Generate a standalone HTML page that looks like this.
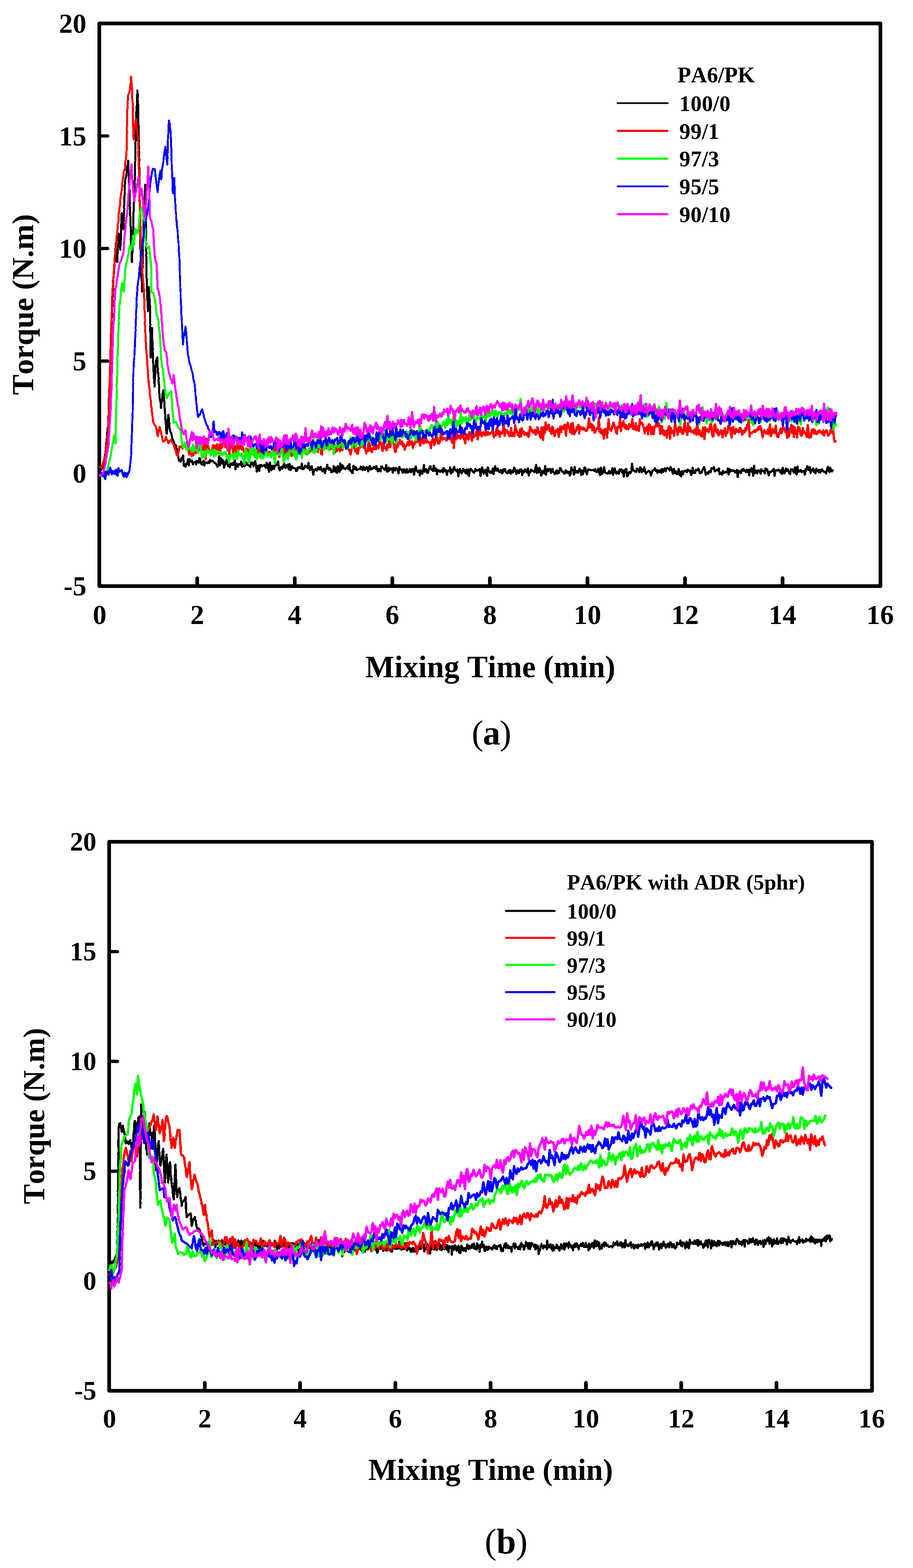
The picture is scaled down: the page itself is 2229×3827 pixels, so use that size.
<!DOCTYPE html>
<html lang="en">
<head>
<meta charset="utf-8">
<title>Torque vs Mixing Time</title>
<style>
html,body{margin:0;padding:0;background:#fff;}
body{width:2229px;height:3827px;overflow:hidden;}
svg{display:block;font-family:'Liberation Serif', 'DejaVu Serif', serif;fill:#000;}
text{font-kerning:none;}
</style>
</head>
<body>
<svg width="2229" height="3827" viewBox="0 0 2229 3827" role="img" aria-label="Torque versus mixing time for PA6/PK blends, (a) without and (b) with ADR">
<rect width="2229" height="3827" fill="#fff"/>
<g id="chart-a">
<rect x="242.4" y="57.2" width="1907.1" height="1373.3" fill="none" stroke="#000" stroke-width="9.0" stroke-linejoin="round"/>
<path d="M481.4 1430.5V1411.1M719.6 1430.5V1411.1M957.8 1430.5V1411.1M1196.0 1430.5V1411.1M1434.2 1430.5V1411.1M1672.4 1430.5V1411.1M1910.6 1430.5V1411.1" fill="none" stroke="#000" stroke-width="9.0" stroke-linecap="round"/>
<path d="M242.4 331.9H262.8M242.4 606.5H262.8M242.4 881.2H262.8M242.4 1155.8H262.8" fill="none" stroke="#000" stroke-width="7.9" stroke-linecap="round"/>
<g font-size="67" font-weight="bold">
<text x="211.0" y="79.8" text-anchor="end">20</text>
<text x="211.0" y="354.5" text-anchor="end">15</text>
<text x="211.0" y="629.1" text-anchor="end">10</text>
<text x="211.0" y="903.8" text-anchor="end">5</text>
<text x="211.0" y="1178.4" text-anchor="end">0</text>
<text x="211.0" y="1453.1" text-anchor="end">-5</text>
<text x="243.2" y="1522.6" text-anchor="middle">0</text>
<text x="481.4" y="1522.6" text-anchor="middle">2</text>
<text x="719.6" y="1522.6" text-anchor="middle">4</text>
<text x="957.8" y="1522.6" text-anchor="middle">6</text>
<text x="1196.0" y="1522.6" text-anchor="middle">8</text>
<text x="1434.2" y="1522.6" text-anchor="middle">10</text>
<text x="1672.4" y="1522.6" text-anchor="middle">12</text>
<text x="1910.6" y="1522.6" text-anchor="middle">14</text>
<text x="2148.8" y="1522.6" text-anchor="middle">16</text>
</g>
<text transform="translate(81.1 743.3) rotate(-90)" font-size="75.0" font-weight="bold" text-anchor="middle" letter-spacing="0">Torque (N.m)</text>
<text x="1197.0" y="1652.6" font-size="75.3" font-weight="bold" text-anchor="middle" letter-spacing="0">Mixing Time (min)</text>
<g shape-rendering="crispEdges">
<g fill="none" stroke="#000000" stroke-width="5.2" stroke-linejoin="round" stroke-linecap="round">
<polyline stroke-width="5.0" points="243,1150.0 247.4,1146.6 252,1140.0 252.4,1132.9 253.4,1125.7 254.3,1121.8 255.3,1117.4 256.2,1112.7 256.9,1108.4 258,1100.0 258.2,1095.2 259.1,1088.4 259.5,1079.9 260.7,1079.3 260.8,1071.4 261.9,1066.8 261.8,1054.8 262.5,1054.7 263,1045.4 264,1040.0 264.6,1034.2 264.6,1026.7 264.8,1024.4 264.4,1017.8 265.4,1011.7 265,1006.0 265.1,997.6 266,990.5 265.6,983.4 265.6,981.3 265.9,972.3 266.4,964.9 266.7,959.5 266.9,957.4 266.7,949.4 267.4,943.4 267,938.3 267.7,932.1 268.2,926.6 268,920.0 268.6,911.4 268.1,910.2 268.5,899.6 269.2,894.9 269.2,891.6 269.5,884.9 269.6,876.9 269.4,874.8 269.7,869.3 270.1,860.9 269.9,857.2 270.4,848.6 270.5,840.1 271.2,836.5 270.6,830.8 271,824.2 271.7,817.0 272,812.9 271.4,809.0 272,800.0 272.4,797.6 272.2,785.7 273.1,783.7 272.6,778.3 273.4,773.6 273.6,762.1 273.2,755.5 273.5,751.2 274.4,747.3 274.4,743.6 274.3,733.7 274.9,732.7 275.1,720.1 275.6,715.8 275.8,711.0 276.1,707.6 276,700.0 276.4,691.4 276.4,685.3 276.8,679.2 277.4,677.5 278.1,666.6 278,667.3 278.9,655.9 279,653.7 279.3,646.6 280,640.0 280.8,636.4 280.5,628.0 281.2,624.3 281.2,612.6 281.5,609.9 282.3,604.5 282.5,601.4 283,592.0 283.4,597.2 283.8,605.7 284.3,608.3 284.1,615.1 285,620.0 285.5,624.9 285.4,636.1 286,640.0 286.1,635.1 286.7,631.3 286.8,619.4 287.5,618.6 288,613.9 287.6,603.1 288.4,602.3 289.1,593.7 289.4,588.5 289.2,581.6 289.8,576.2 290,570.0 290.9,578.7 291.1,584.7 291.4,584.5 292,592.9 292.4,601.7 293.7,600.9 294,610.0 293.9,602.8 294.1,600.2 294.5,595.1 294.9,588.7 295.3,582.9 295.2,574.3 295.7,566.5 295.6,562.7 295.4,556.7 295.9,552.2 296,546.8 296.5,535.8 296.9,532.8 296.4,525.4 297,520.0 297.7,528.7 297.7,534.8 298.6,540.5 299.4,545.2 299.9,549.5 300.2,554.9 301,560.0 301.4,556.4 301.7,549.2 302,540.4 302,535.2 302,528.8 302.2,522.0 302.7,516.7 303.2,512.4 302.7,504.5 303.1,501.0 303.8,495.6 303.8,485.0 303.7,483.1 304.1,476.6 304.4,470.0 304.6,464.1 304.8,455.9 305,450.0 305.7,441.2 306.5,435.4 307.8,430.4 308.5,429.4 309.2,421.5 309.5,415.0 310.5,407.5 311.5,402.3 312.6,400.7 313,392.0 313,395.3 313.2,404.0 313.9,407.9 313.7,418.5 314.1,422.8 314.2,425.2 314.6,433.8 314.5,440.9 315.1,447.1 315,453.8 315.3,458.1 316,460.6 316,470.0 316,478.6 316.7,482.3 316.9,491.2 317.1,496.5 316.6,501.1 317.4,506.8 317.7,508.7 317.8,519.6 317.6,522.3 318.1,528.9 318.5,535.6 318.6,545.5 318.4,545.5 319.2,554.3 319,560.0 319.6,567.1 319.9,572.6 319.7,575.9 319.8,581.3 319.9,592.5 320,596.0 320.9,604.4 321,607.0 321,616.0 321.7,619.5 321.3,626.0 322,633.5 322,640.0 321.8,633.9 322.2,629.8 322.5,618.2 323,617.8 323,611.0 323.4,603.4 324,599.1 323.4,592.2 324,587.8 324.1,576.8 324.2,571.8 324.4,567.1 325,560.0 325.4,555.5 325.6,547.1 325.8,541.8 326,537.3 325.6,527.5 325.7,521.5 326.2,515.9 326,514.5 326.5,508.6 326.8,500.6 327,494.8 327.4,488.4 327.7,479.9 327.8,474.6 327.8,467.9 327.9,462.0 328.5,462.4 328.5,456.6 328.1,445.3 328.4,442.7 329.2,439.4 329,430.0 329.3,425.7 329.6,417.5 329.2,410.0 329.2,408.6 329.4,398.8 330.1,393.2 330.4,387.0 330.1,381.4 330.6,375.9 330.3,371.0 330.9,361.7 330.8,361.8 330.4,353.3 330.8,349.8 331.1,342.7 331.1,336.4 331.1,326.1 331.5,322.3 331.6,320.7 331.7,310.0 331.8,308.9 332,300.0 332.7,296.3 332.9,285.9 332.4,279.8 332.9,273.4 333.4,269.0 333.9,261.3 334.1,255.6 334.2,250.3 334,243.4 334.8,239.2 335,230.9 335.3,230.6 335.5,221.0 336,227.7 336.3,236.0 336.2,235.9 335.9,242.2 336.4,250.5 337.1,255.1 337.3,265.4 337.3,270.5 337.4,275.5 337,280.7 337.6,289.5 337.8,293.6 338,300.0 337.8,302.4 338.5,310.5 338.8,315.7 338.3,323.7 338.8,329.2 338.4,334.0 338.8,342.4 339.2,344.5 338.6,353.1 339.4,355.4 339.4,366.0 339.4,373.5 339.7,373.0 339.6,384.9 340.1,389.3 340,394.7 340,400.0 339.9,406.4 340.3,410.8 340.5,415.6 340.5,422.2 340.6,429.1 340.7,434.5 340.3,443.4 340.4,449.0 340.9,451.4 340.5,457.1 340.5,464.3 340.5,468.4 341.1,479.1 340.7,481.1 340.9,491.8 341.4,495.2 341.1,503.1 341.3,509.6 341.6,512.4 341.2,521.9 341.3,522.4 341.6,529.7 341.4,537.9 341.5,543.2 342.1,546.1 342,555.8 342,560.0 342.3,566.7 342.1,573.6 342.8,577.5 342.8,580.9 343,587.8 342.7,594.6 342.6,604.8 343,608.2 343.2,611.4 343.1,617.0 343.5,624.3 343.5,629.2 344,635.2 344.3,641.7 344,650.0 344.4,653.0 344.9,660.2 344.9,670.3 344.9,675.2 345.3,682.8 346,684.9 346.4,690.0 346.7,700.0 346.6,707.6 347,712.0 347.3,709.5 347,696.7 347.7,696.8 347.6,688.5 347.7,684.5 347.5,678.5 348,671.5 347.8,666.2 347.5,660.9 348.4,651.2 347.8,645.2 348.1,644.0 348.4,633.9 348.2,628.0 348.7,622.3 348.6,617.3 349.1,611.3 348.8,607.1 349,600.0 348.9,593.9 349.2,589.1 349.9,582.0 350,576.2 350,568.0 350,567.6 350.3,560.7 350.4,552.9 350.9,544.0 350.8,544.3 351,533.1 351.4,527.7 351.5,523.8 351.9,518.5 351.9,508.3 352.3,502.9 352,500.0 352.2,497.0 352.2,490.0 353.3,481.2 353,477.6 353.5,466.8 354.3,466.0 354.2,459.6 354.5,451.0 354.5,458.2 354.6,462.9 354.5,472.1 354.7,471.9 354.7,477.2 355.3,487.1 355.5,492.6 355.6,499.8 355.6,503.7 355.6,508.1 355.4,514.0 355.6,520.4 355.7,531.5 355.7,537.5 356,540.0 356.2,545.2 356.5,553.0 356,560.3 356.3,563.3 356.3,571.8 356.3,578.7 356.4,582.9 356.7,591.2 357.1,592.6 356.9,603.7 356.9,609.9 356.8,613.8 357.3,617.2 356.8,624.6 357.7,630.2 357.6,635.1 357.3,641.0 357.8,651.0 357.8,653.9 357.9,659.8 357.8,666.9 357.8,670.8 358,680.0 358.3,687.6 358.6,693.4 358.4,696.0 358.9,707.3 358.9,710.5 359.3,716.9 359.3,722.0 359.6,731.7 360.3,734.9 360.4,739.0 360.5,746.3 361.1,755.1 361,760.0 361.3,751.4 361.4,751.4 362,743.0 361.5,737.0 362.1,729.8 362.1,724.7 362.7,719.8 362.7,715.0 362.4,709.5 363,700.0 363,703.5 363.7,708.5 364.2,713.7 364.3,719.4 365.1,729.3 365.1,731.6 365.8,738.3 366,745.0 366.4,751.0 366.2,753.9 366.4,762.2 366.1,768.9 366.4,775.3 367,780.6 366.9,788.0 367.1,792.7 366.6,802.8 366.6,809.1 367.1,811.2 367.6,815.0 367.3,820.9 367.4,828.1 367.5,839.8 367.9,842.2 367.8,850.6 367.7,854.9 367.5,859.9 367.6,868.5 368,873.0 368.2,866.6 368.8,861.0 368.7,853.1 368.6,848.1 368.8,841.1 369.5,839.8 369.4,831.6 370,826.3 369.9,815.3 370.4,814.3 370.5,808.0 371,800.0 371,803.8 371,810.9 371.5,818.5 371.4,820.8 371.6,826.3 372.3,834.1 372.2,841.0 373,848.8 373,855.1 372.6,855.0 373.2,862.7 373.8,869.5 373.6,878.2 373.8,883.9 374,887.0 374.1,891.1 374.4,898.7 374.7,905.3 374.9,906.9 375.8,913.6 375.7,921.7 376.1,923.9 376.7,935.8 377,936.8 377,944.0 377.4,937.1 377.8,935.7 377.9,927.7 378.3,922.7 378.7,917.7 379.4,910.9 379.5,901.2 379.5,896.2 379.9,893.0 380.8,885.3 381,880.0 384,872.0 384.6,878.1 384.3,881.2 384.7,888.4 384.9,896.2 385.7,902.2 385.9,909.6 386.3,909.7 387,920.0 387.3,928.0 386.9,928.8 387.3,936.0 388.3,939.5 388.3,945.6 388.9,956.5 389,960.0 389.3,965.9 390.1,975.2 391.4,978.8 392.1,982.9 392.7,989.5 393,996.0 393.4,993.1 394.5,980.9 395.3,979.4 395.8,973.6 396.1,966.7 397,960.0 399,952.0 399.7,954.7 399.5,966.0 400.3,969.6 400.4,973.8 401.3,980.4 401,989.6 401.5,994.9 402.5,998.3 402.7,1004.4 403,1010.0 403.6,1018.6 403.8,1025.0 404.6,1025.7 404.8,1035.2 405.3,1038.0 405.7,1049.2 406.6,1056.1 407,1059.0 407.4,1053.8 408.1,1048.1 408.1,1043.1 409.4,1035.7 409.2,1031.4 409.6,1022.5 410.9,1018.5 411,1012.0 412,1019.1 412.6,1027.3 412.8,1028.3 413.9,1036.9 414,1044.3 415,1050.0 416.1,1053.4 418.3,1057.6 419.3,1063.1 421,1072.0 424.1,1077.2 426.2,1084.4 429,1086.0 430.7,1092.0 432.4,1097.0 434,1105.0 434.8,1110.4 435.8,1118.3 437,1124.0"/>
<polyline id="a-k" points="437,1124.0 439,1124.5 441,1127.1 443,1117.9 445,1118.2 447,1111.8 449,1136.8 451,1134.9 453,1139.4 455,1131.2 457,1132.7 459,1121.1 461,1135.9 463,1120.5 465,1125.1 467,1126.9 469,1123.8 471,1133.0 473,1128.3 475,1128.8 477,1127.0 479,1133.8 481,1124.7 483,1126.0 485,1129.6 487,1118.1 489,1124.0 491,1131.2 493,1134.3 495,1128.2 497,1124.5 499,1136.1 501,1128.3 503,1128.9 505,1130.1 507,1130.3 509,1127.1 511,1130.2 513,1122.1 515,1125.3 517,1125.9 519,1124.6 521,1126.8 523,1128.6 525,1130.6 527,1131.5 529,1135.0 531,1139.5 533,1135.7 535,1113.5 537,1136.0 539,1118.9 541,1120.6 543,1131.6 545,1123.7 547,1141.7 549,1134.9 551,1128.6 553,1122.6 555,1132.4 557,1137.6 559,1130.3 561,1140.6 563,1131.8 565,1134.6 567,1130.2 569,1134.7 571,1131.5 573,1122.9 575,1145.1 577,1131.5 579,1132.6 581,1139.0 583,1132.6 585,1132.1 587,1134.1 589,1126.5 591,1139.3 593,1134.0 595,1131.3 597,1138.1 599,1134.1 601,1129.0 603,1134.3 605,1134.4 607,1135.7 609,1137.3 611,1140.0 613,1128.5 615,1133.8 617,1129.7 619,1138.2 621,1129.2 623,1125.5 625,1135.3 627,1151.1 629,1141.1 631,1136.2 633,1149.3 635,1134.8 637,1134.5 639,1138.7 641,1136.6 643,1136.8 645,1134.9 647,1136.3 649,1141.8 651,1129.4 653,1133.1 655,1144.2 657,1151.7 659,1129.0 661,1140.5 663,1147.4 665,1137.0 667,1137.0 669,1144.9 671,1136.2 673,1136.1 675,1134.7 677,1132.0 679,1126.2 681,1144.5 683,1148.2 685,1141.0 687,1139.6 689,1144.2 691,1140.6 693,1131.7 695,1133.2 697,1142.3 699,1140.4 701,1134.6 703,1133.9 705,1145.3 707,1132.2 709,1147.4 711,1145.5 713,1137.9 715,1140.9 717,1142.8 719,1142.8 721,1143.3 723,1149.5 725,1148.8 727,1141.0 729,1142.7 731,1140.1 733,1141.9 735,1143.4 737,1131.6 739,1145.2 741,1144.5 743,1142.5 745,1136.6 747,1139.6 749,1137.9 751,1142.3 753,1130.0 755,1142.8 757,1147.4 759,1140.3 761,1138.1 763,1147.3 765,1158.6 767,1146.5 769,1146.9 771,1144.6 773,1148.5 775,1147.0 777,1140.2 779,1144.0 781,1146.1 783,1139.4 785,1144.5 787,1150.3 789,1148.9 791,1143.8 793,1154.9 795,1148.3 797,1142.9 799,1134.6 801,1143.8 803,1146.3 805,1142.2 807,1144.4 809,1152.9 811,1149.6 813,1151.2 815,1138.0 817,1144.4 819,1151.4 821,1140.3 823,1154.2 825,1137.3 827,1140.5 829,1151.7 831,1131.0 833,1146.3 835,1135.2 837,1136.9 839,1143.1 841,1143.0 843,1145.0 845,1141.9 847,1141.9 849,1137.7 851,1145.7 853,1132.2 855,1148.5 857,1148.6 859,1153.5 861,1154.4 863,1137.0 865,1145.9 867,1139.9 869,1141.0 871,1147.8 873,1146.0 875,1144.9 877,1144.2 879,1145.2 881,1139.0 883,1140.9 885,1147.3 887,1138.8 889,1141.1 891,1147.0 893,1143.8 895,1139.4 897,1144.3 899,1150.3 901,1139.4 903,1137.4 905,1146.1 907,1143.0 909,1144.5 911,1142.1 913,1139.2 915,1142.6 917,1144.0 919,1137.7 921,1147.5 923,1150.8 925,1144.1 927,1144.7 929,1150.7 931,1138.1 933,1138.7 935,1142.5 937,1143.4 939,1147.1 941,1144.4 943,1134.8 945,1151.2 947,1150.6 949,1141.2 951,1148.8 953,1143.3 955,1145.7 957,1143.4 959,1153.5 961,1141.7 963,1145.1 965,1148.5 967,1142.0 969,1144.5 971,1146.2 973,1155.4 975,1139.3 977,1146.7 979,1146.7 981,1145.7 983,1153.9 985,1147.0 987,1145.5 989,1153.3 991,1154.0 993,1144.9 995,1153.2 997,1153.0 999,1149.1 1001,1145.0 1003,1152.7 1005,1150.9 1007,1144.1 1009,1144.9 1011,1158.6 1013,1146.2 1015,1138.3 1017,1147.8 1019,1150.6 1021,1152.5 1023,1148.4 1025,1160.5 1027,1147.4 1029,1149.9 1031,1156.1 1033,1148.8 1035,1134.8 1037,1151.2 1039,1148.5 1041,1145.2 1043,1154.0 1045,1153.5 1047,1145.7 1049,1139.5 1051,1137.7 1053,1146.2 1055,1146.1 1057,1149.6 1059,1136.2 1061,1149.3 1063,1142.4 1065,1145.3 1067,1157.8 1069,1146.4 1071,1150.8 1073,1148.4 1075,1151.4 1077,1148.8 1079,1147.0 1081,1153.4 1083,1142.1 1085,1145.6 1087,1150.3 1089,1147.9 1091,1159.0 1093,1149.5 1095,1148.5 1097,1150.0 1099,1140.7 1101,1155.8 1103,1147.2 1105,1152.2 1107,1143.3 1109,1139.5 1111,1147.6 1113,1147.2 1115,1150.8 1117,1145.7 1119,1162.6 1121,1149.4 1123,1144.3 1125,1149.9 1127,1155.7 1129,1150.4 1131,1144.4 1133,1147.2 1135,1151.7 1137,1155.1 1139,1145.8 1141,1157.3 1143,1146.0 1145,1161.7 1147,1148.7 1149,1144.1 1151,1148.3 1153,1148.5 1155,1151.6 1157,1154.1 1159,1150.7 1161,1144.5 1163,1149.1 1165,1147.3 1167,1148.4 1169,1146.6 1171,1144.8 1173,1161.9 1175,1147.6 1177,1140.6 1179,1148.8 1181,1156.1 1183,1151.7 1185,1146.2 1187,1154.3 1189,1161.8 1191,1140.8 1193,1148.7 1195,1152.5 1197,1154.4 1199,1150.3 1201,1154.1 1203,1143.2 1205,1157.3 1207,1143.1 1209,1137.8 1211,1148.6 1213,1148.6 1215,1143.8 1217,1148.7 1219,1152.6 1221,1149.0 1223,1147.5 1225,1155.1 1227,1154.3 1229,1145.1 1231,1149.3 1233,1144.9 1235,1152.0 1237,1154.2 1239,1155.2 1241,1148.8 1243,1153.2 1245,1146.9 1247,1156.1 1249,1153.3 1251,1148.7 1253,1152.9 1255,1141.3 1257,1144.9 1259,1150.3 1261,1156.8 1263,1147.8 1265,1149.5 1267,1154.9 1269,1146.4 1271,1150.7 1273,1145.7 1275,1159.6 1277,1149.5 1279,1152.9 1281,1145.3 1283,1150.1 1285,1146.4 1287,1153.9 1289,1143.4 1291,1160.6 1293,1150.6 1295,1152.6 1297,1146.1 1299,1148.5 1301,1149.9 1303,1149.4 1305,1152.7 1307,1143.4 1309,1135.0 1311,1154.4 1313,1142.9 1315,1152.5 1317,1142.0 1319,1146.6 1321,1160.9 1323,1157.2 1325,1149.7 1327,1149.4 1329,1155.0 1331,1137.5 1333,1158.9 1335,1147.6 1337,1145.1 1339,1149.7 1341,1145.3 1343,1144.3 1345,1154.3 1347,1148.1 1349,1144.5 1351,1152.0 1353,1154.3 1355,1156.9 1357,1151.9 1359,1148.0 1361,1156.4 1363,1149.2 1365,1154.4 1367,1142.1 1369,1143.4 1371,1148.5 1373,1151.5 1375,1151.5 1377,1155.7 1379,1156.0 1381,1147.9 1383,1150.6 1385,1154.0 1387,1151.3 1389,1151.1 1391,1160.8 1393,1157.6 1395,1141.0 1397,1146.6 1399,1147.6 1401,1158.1 1403,1139.6 1405,1153.3 1407,1152.6 1409,1149.4 1411,1153.9 1413,1148.8 1415,1143.8 1417,1145.8 1419,1159.4 1421,1148.9 1423,1157.8 1425,1150.6 1427,1140.9 1429,1141.9 1431,1153.3 1433,1157.4 1435,1147.2 1437,1145.7 1439,1146.9 1441,1146.1 1443,1147.9 1445,1147.5 1447,1146.9 1449,1147.3 1451,1149.5 1453,1144.9 1455,1151.0 1457,1152.3 1459,1150.1 1461,1143.7 1463,1154.6 1465,1159.4 1467,1141.4 1469,1157.2 1471,1155.0 1473,1147.4 1475,1140.4 1477,1153.1 1479,1154.7 1481,1154.2 1483,1156.2 1485,1155.5 1487,1149.4 1489,1155.3 1491,1155.4 1493,1150.4 1495,1142.4 1497,1159.2 1499,1147.6 1501,1143.4 1503,1154.2 1505,1156.0 1507,1151.4 1509,1150.9 1511,1156.3 1513,1145.7 1515,1149.1 1517,1145.9 1519,1154.0 1521,1147.7 1523,1163.1 1525,1151.6 1527,1145.6 1529,1144.5 1531,1162.4 1533,1160.9 1535,1153.0 1537,1151.9 1539,1155.2 1541,1151.6 1543,1131.9 1545,1144.0 1547,1148.4 1549,1150.4 1551,1150.2 1553,1152.1 1555,1143.2 1557,1145.5 1559,1147.4 1561,1152.5 1563,1140.5 1565,1144.0 1567,1152.6 1569,1146.1 1571,1149.6 1573,1140.5 1575,1150.7 1577,1156.2 1579,1152.5 1581,1151.0 1583,1148.7 1585,1150.4 1587,1151.5 1589,1160.5 1591,1155.2 1593,1148.2 1595,1148.1 1597,1147.2 1599,1142.7 1601,1149.6 1603,1147.3 1605,1154.2 1607,1148.1 1609,1150.2 1611,1152.6 1613,1146.9 1615,1154.2 1617,1144.7 1619,1151.7 1621,1147.0 1623,1142.9 1625,1150.5 1627,1144.8 1629,1142.0 1631,1143.7 1633,1143.6 1635,1148.1 1637,1140.0 1639,1143.9 1641,1150.4 1643,1156.2 1645,1144.2 1647,1148.7 1649,1155.4 1651,1150.6 1653,1157.3 1655,1154.3 1657,1144.6 1659,1159.1 1661,1151.8 1663,1162.7 1665,1150.0 1667,1157.9 1669,1152.5 1671,1149.4 1673,1148.2 1675,1150.8 1677,1152.6 1679,1146.1 1681,1148.3 1683,1149.4 1685,1148.4 1687,1159.3 1689,1156.2 1691,1141.1 1693,1153.5 1695,1149.9 1697,1154.7 1699,1146.3 1701,1147.9 1703,1147.9 1705,1143.4 1707,1148.5 1709,1155.0 1711,1153.8 1713,1153.3 1715,1147.2 1717,1143.7 1719,1139.9 1721,1147.1 1723,1158.6 1725,1155.8 1727,1153.4 1729,1156.4 1731,1151.2 1733,1149.4 1735,1152.4 1737,1142.6 1739,1143.4 1741,1144.1 1743,1140.1 1745,1150.7 1747,1149.4 1749,1148.4 1751,1145.7 1753,1148.4 1755,1143.5 1757,1157.5 1759,1155.2 1761,1153.5 1763,1158.5 1765,1149.3 1767,1154.8 1769,1153.1 1771,1151.8 1773,1153.0 1775,1152.1 1777,1143.1 1779,1158.2 1781,1145.0 1783,1151.4 1785,1147.9 1787,1148.0 1789,1149.7 1791,1148.1 1793,1148.8 1795,1153.1 1797,1151.8 1799,1146.7 1801,1164.4 1803,1148.2 1805,1151.6 1807,1150.2 1809,1154.7 1811,1146.1 1813,1149.4 1815,1144.2 1817,1149.2 1819,1148.2 1821,1152.1 1823,1146.7 1825,1152.0 1827,1146.8 1829,1160.3 1831,1146.0 1833,1150.5 1835,1142.7 1837,1151.1 1839,1161.6 1841,1136.7 1843,1155.0 1845,1150.6 1847,1148.7 1849,1155.7 1851,1147.8 1853,1148.3 1855,1151.0 1857,1156.4 1859,1145.1 1861,1149.9 1863,1149.3 1865,1150.0 1867,1155.2 1869,1143.3 1871,1147.0 1873,1146.0 1875,1155.1 1877,1160.2 1879,1151.6 1881,1152.6 1883,1150.9 1885,1149.2 1887,1146.9 1889,1144.2 1891,1161.4 1893,1148.3 1895,1147.9 1897,1148.8 1899,1146.7 1901,1146.0 1903,1149.8 1905,1153.0 1907,1147.8 1909,1156.6 1911,1142.0 1913,1151.4 1915,1155.3 1917,1149.6 1919,1143.3 1921,1149.8 1923,1145.2 1925,1150.2 1927,1154.7 1929,1157.3 1931,1145.7 1933,1146.5 1935,1145.5 1937,1151.2 1939,1153.8 1941,1141.0 1943,1154.1 1945,1158.1 1947,1138.8 1949,1151.9 1951,1149.3 1953,1150.5 1955,1146.9 1957,1152.6 1959,1151.3 1961,1149.1 1963,1150.0 1965,1158.4 1967,1144.2 1969,1147.2 1971,1138.0 1973,1144.5 1975,1147.6 1977,1140.0 1979,1154.3 1981,1149.2 1983,1146.6 1985,1143.5 1987,1151.8 1989,1148.1 1991,1155.2 1993,1143.8 1995,1149.5 1997,1147.5 1999,1152.9 2001,1146.6 2003,1153.2 2005,1147.6 2007,1145.4 2009,1149.8 2011,1151.0 2013,1151.1 2015,1152.2 2017,1155.6 2019,1146.3 2021,1139.4 2023,1147.8 2025,1152.1 2027,1141.5 2029,1147.3 2031,1150.6 2033,1147.8"/>
</g>
<g fill="none" stroke="#ff0000" stroke-width="5.6" stroke-linejoin="round" stroke-linecap="round">
<polyline stroke-width="5.0" points="243,1140.0 250,1138.0 251.7,1128.4 253.5,1125.0 255.2,1118.1 257,1113.0 257.5,1107.8 258.4,1099.4 259.4,1095.2 259.8,1089.1 260.6,1085.0 262,1077.0 262.7,1068.0 263.2,1061.9 264,1059.0 264.1,1050.2 264,1047.8 264.3,1038.4 264.4,1034.1 264.8,1027.1 265.2,1023.1 265.2,1016.5 265.6,1011.9 265.3,1006.8 266.1,999.4 266.3,992.4 266.1,987.0 266.2,983.5 266.5,978.8 266.6,966.7 266.7,966.2 266.9,954.4 266.9,948.7 267.7,949.1 267.7,940.6 267.9,931.6 267.6,928.1 268,922.0 268,912.7 268.8,909.5 268.5,902.6 268.5,897.0 269.1,893.4 268.9,882.2 269.4,878.0 269.4,870.2 269.6,866.7 269.7,860.8 269.7,855.7 270.4,846.6 270,840.1 270.5,838.3 270.2,830.6 270.8,826.2 270.5,821.7 271,813.0 271.5,804.4 271.8,802.6 271.9,795.1 271.6,791.7 272.2,781.6 272.1,779.6 272.5,770.9 272.9,766.9 273.1,756.2 273.3,752.4 273.5,747.8 273.4,738.1 273.5,732.7 273.7,729.1 274.2,720.0 274.2,714.6 274.5,708.5 275,704.0 275.4,698.4 276.1,695.6 275.8,684.4 276.7,678.0 277.3,672.5 277.6,669.7 278.1,659.4 278,658.2 278.2,647.6 279,645.0 279.4,639.5 279.7,629.7 280.3,625.8 281.4,618.3 282.2,613.8 282.5,606.7 283.1,605.2 283.5,593.8 284.1,589.3 284.7,583.8 284.9,575.1 285.8,572.7 286.7,567.1 287,559.0 287.6,556.4 288,547.2 288.9,543.9 289.2,538.0 289.8,531.2 290,520.5 291.4,515.2 291.7,510.6 291.9,505.5 293.1,500.9 293.7,496.0 293.9,488.8 294.2,479.4 295,477.0 295.6,471.7 296.7,466.9 297.4,462.9 298.2,456.4 298.2,447.4 298.9,445.4 300.2,436.0 300.7,433.5 301.6,423.6 302,420.0 305,412.0 305.8,407.9 305.7,396.7 306.7,391.2 307.6,388.4 308,382.5 308.3,372.4 309,368.0 309.2,361.5 309.6,357.1 309.3,352.7 309.4,342.0 309.8,338.1 309.5,333.7 310.2,324.6 310.2,322.3 309.7,316.9 310.1,306.0 310.3,301.2 310.1,293.7 310.3,290.3 310.8,281.9 311,276.1 310.6,274.4 311,267.0 311.7,264.6 311.8,255.2 311.6,249.9 312.1,243.8 312.8,240.2 313,232.0 316,225.0 316.5,222.1 317.8,214.6 318.2,207.6 319,202.8 319.6,194.3 320,187.0 320,193.5 320.7,195.8 321.5,206.1 321.6,209.1 322,215.0 322.3,219.6 322.5,227.1 322.4,236.6 322.7,239.2 323.1,244.3 324.1,251.8 324,259.0 324.3,262.0 324,273.0 324.7,274.5 324.9,282.9 324.6,286.5 324.5,296.2 324.9,298.9 324.5,302.6 325,310.0 325.7,316.6 325.5,318.9 325.7,326.9 325.9,333.7 326.5,341.0 326.7,331.7 327.1,328.6 327.6,325.5 328.2,315.9 329,310.0 329.9,301.9 330.8,294.6 332,290.0 332.4,293.3 333.4,303.0 333.6,310.7 334.3,314.8 335,320.0 335.5,324.4 336.2,333.8 336.6,340.2 336.3,342.6 337.6,345.8 337.6,354.0 337.5,360.0 338.1,364.8 337.9,373.9 337.8,380.0 338.3,384.9 338.7,387.2 339,398.3 338.7,399.9 338.6,406.7 339.3,416.2 339.1,418.0 339.2,429.3 339.2,429.6 339.9,435.5 339.6,446.1 340,450.0 340,456.6 340.4,460.2 340.3,466.3 341,470.3 340.5,478.4 340.8,485.9 341.3,491.4 341.2,497.4 341.8,505.4 341.8,511.3 341.5,512.6 342.3,520.1 342.1,527.4 342.3,535.7 342.5,541.1 342.9,547.5 342.9,553.7 343.2,553.1 343.5,564.9 343.1,571.5 343.7,575.9 343.6,583.2 344,586.0 344.4,592.1 345,598.0 344.8,600.2 345.1,611.0 345.2,616.4 345.7,618.9 346,626.6 346,633.7 346.1,637.5 346.7,647.5 347,650.0 347.6,656.9 347.6,661.7 348.2,671.3 348.7,676.7 349.4,682.9 349.2,689.3 350.5,690.0 350.2,697.2 351,704.5 351.3,710.7 351.4,719.5 351.7,725.7 352,726.5 352.5,738.3 352.3,742.7 352.7,744.7 352.8,754.0 353.1,759.3 353.3,766.5 353.7,768.2 354,776.8 354.1,782.4 353.7,790.4 354.2,795.7 354.4,799.3 354.6,809.9 355,813.5 355.8,822.9 355.7,827.5 355.9,833.4 356.5,840.1 356.7,846.0 357,852.3 357.7,853.4 357.9,863.4 358.5,866.1 358.7,875.4 359.4,877.0 359.9,883.6 359.8,888.8 360.4,900.7 361.2,904.1 360.9,910.2 361.4,915.1 362,922.5 362.4,931.9 363.2,931.4 363.9,942.5 364.8,949.0 365.4,951.3 365.7,959.4 366.1,965.3 366.7,969.1 368,975.9 368.3,985.3 369,990.6 370.2,995.1 370.3,1004.9 371.1,1006.6 371.8,1013.6 372.6,1018.8 373.5,1026.5 374.4,1031.5 377.2,1037.0 380,1040.0 381.1,1045.0 382.9,1050.7 384,1060.2 385,1065.0 386.4,1056.6 387.1,1055.2 388.4,1045.9 390,1042.0 391.8,1051.3 393,1054.6 394,1060.0 395.6,1065.7 397.2,1075.3 399,1078.0 402.3,1075.5 405,1066.0 406.8,1071.9 409.2,1075.8 411,1082.0 414.1,1075.9 417,1074.0 421,1080.0 422.8,1082.4 425.1,1088.8 427,1095.0 429.3,1100.2 431.3,1109.8 434,1113.0 435.2,1106.0 436.4,1102.7 437.4,1095.5 438,1090.0"/>
<polyline id="a-r" points="438,1090.0 440,1091.0 442,1091.6 444,1087.7 446,1094.4 448,1090.5 450,1088.8 452,1082.2 454,1090.3 456,1092.9 458,1089.6 460,1098.2 462,1109.2 464,1096.6 466,1102.0 468,1113.2 470,1100.4 472,1111.4 474,1090.6 476,1097.9 478,1106.0 480,1099.3 482,1092.8 484,1100.7 486,1095.2 488,1098.6 490,1092.5 492,1097.2 494,1099.1 496,1090.9 498,1075.2 500,1096.2 502,1120.5 504,1070.6 506,1084.4 508,1089.7 510,1096.2 512,1100.8 514,1098.7 516,1099.5 518,1101.6 520,1086.5 522,1091.8 524,1087.5 526,1095.5 528,1090.7 530,1084.6 532,1106.7 534,1089.9 536,1085.0 538,1099.7 540,1082.7 542,1091.8 544,1087.1 546,1074.6 548,1067.5 550,1091.3 552,1086.7 554,1087.0 556,1099.7 558,1086.8 560,1109.5 562,1079.8 564,1067.7 566,1090.5 568,1095.3 570,1107.7 572,1089.0 574,1088.4 576,1091.3 578,1114.5 580,1077.9 582,1098.2 584,1095.7 586,1087.4 588,1093.5 590,1097.0 592,1090.2 594,1097.4 596,1102.4 598,1104.4 600,1095.2 602,1095.3 604,1098.4 606,1103.7 608,1096.7 610,1104.2 612,1098.8 614,1081.7 616,1102.5 618,1091.9 620,1103.5 622,1100.9 624,1106.7 626,1097.0 628,1101.2 630,1087.2 632,1113.5 634,1100.4 636,1097.6 638,1106.4 640,1101.4 642,1099.6 644,1100.0 646,1097.4 648,1091.8 650,1088.4 652,1109.9 654,1111.3 656,1104.7 658,1102.5 660,1110.3 662,1112.2 664,1105.8 666,1110.6 668,1109.2 670,1093.6 672,1104.9 674,1090.1 676,1077.5 678,1105.7 680,1097.3 682,1115.6 684,1085.8 686,1104.1 688,1092.7 690,1096.2 692,1085.0 694,1117.0 696,1094.8 698,1115.2 700,1096.5 702,1085.4 704,1090.1 706,1108.7 708,1095.1 710,1103.8 712,1113.0 714,1109.4 716,1091.1 718,1097.6 720,1112.6 722,1096.1 724,1104.3 726,1097.0 728,1084.3 730,1095.7 732,1088.1 734,1094.0 736,1086.6 738,1099.4 740,1095.8 742,1104.7 744,1090.7 746,1098.1 748,1108.4 750,1108.9 752,1105.6 754,1105.3 756,1094.2 758,1100.7 760,1101.0 762,1098.5 764,1101.6 766,1094.8 768,1103.5 770,1094.7 772,1087.3 774,1084.5 776,1103.4 778,1084.9 780,1086.6 782,1077.7 784,1108.1 786,1109.1 788,1086.6 790,1077.0 792,1087.3 794,1087.4 796,1091.7 798,1094.5 800,1082.0 802,1092.2 804,1095.8 806,1096.0 808,1095.6 810,1089.9 812,1090.7 814,1098.8 816,1083.7 818,1103.9 820,1090.0 822,1100.9 824,1079.8 826,1097.0 828,1088.4 830,1101.3 832,1091.8 834,1082.7 836,1099.0 838,1085.4 840,1082.7 842,1084.4 844,1086.0 846,1084.9 848,1085.5 850,1094.5 852,1098.8 854,1100.9 856,1109.3 858,1096.7 860,1091.0 862,1082.5 864,1092.5 866,1094.5 868,1102.2 870,1086.8 872,1106.9 874,1107.0 876,1092.8 878,1092.2 880,1092.1 882,1085.3 884,1082.7 886,1088.7 888,1092.8 890,1071.1 892,1096.4 894,1106.3 896,1099.9 898,1101.1 900,1073.6 902,1077.1 904,1100.4 906,1093.8 908,1103.6 910,1094.0 912,1096.2 914,1081.5 916,1084.2 918,1096.7 920,1089.6 922,1088.3 924,1093.8 926,1081.4 928,1074.6 930,1082.3 932,1087.5 934,1101.0 936,1079.6 938,1093.9 940,1090.5 942,1093.6 944,1099.0 946,1084.3 948,1092.6 950,1076.2 952,1091.5 954,1085.5 956,1074.4 958,1065.8 960,1083.3 962,1083.0 964,1102.1 966,1102.8 968,1075.6 970,1092.6 972,1085.4 974,1083.6 976,1073.5 978,1080.8 980,1084.4 982,1077.4 984,1089.7 986,1084.3 988,1097.5 990,1090.0 992,1088.1 994,1083.7 996,1078.7 998,1086.8 1000,1074.6 1002,1084.0 1004,1078.6 1006,1077.4 1008,1093.4 1010,1082.9 1012,1084.5 1014,1076.5 1016,1079.4 1018,1078.9 1020,1071.7 1022,1070.9 1024,1079.5 1026,1087.7 1028,1068.9 1030,1080.6 1032,1073.7 1034,1082.3 1036,1080.8 1038,1067.8 1040,1066.7 1042,1079.9 1044,1077.3 1046,1078.5 1048,1080.6 1050,1080.1 1052,1093.9 1054,1077.0 1056,1072.6 1058,1071.0 1060,1086.2 1062,1082.2 1064,1070.7 1066,1067.9 1068,1069.4 1070,1082.5 1072,1082.6 1074,1077.4 1076,1059.8 1078,1064.7 1080,1073.2 1082,1069.3 1084,1071.1 1086,1069.7 1088,1070.2 1090,1075.6 1092,1070.6 1094,1056.8 1096,1063.8 1098,1071.5 1100,1067.4 1102,1074.8 1104,1080.4 1106,1052.7 1108,1093.3 1110,1062.0 1112,1066.9 1114,1072.4 1116,1057.3 1118,1068.0 1120,1067.8 1122,1063.0 1124,1070.8 1126,1060.5 1128,1066.7 1130,1051.8 1132,1070.9 1134,1073.5 1136,1082.0 1138,1059.7 1140,1069.3 1142,1061.1 1144,1072.9 1146,1054.4 1148,1058.9 1150,1063.8 1152,1075.8 1154,1049.1 1156,1068.4 1158,1060.5 1160,1064.0 1162,1058.2 1164,1050.1 1166,1072.7 1168,1052.6 1170,1061.9 1172,1049.0 1174,1056.1 1176,1065.2 1178,1059.6 1180,1055.1 1182,1060.9 1184,1062.5 1186,1048.7 1188,1062.2 1190,1059.0 1192,1054.9 1194,1060.6 1196,1058.4 1198,1056.5 1200,1056.3 1202,1050.8 1204,1055.6 1206,1067.3 1208,1061.5 1210,1062.6 1212,1047.2 1214,1043.5 1216,1060.7 1218,1051.3 1220,1066.4 1222,1054.3 1224,1055.8 1226,1057.8 1228,1052.3 1230,1032.8 1232,1063.9 1234,1048.8 1236,1055.4 1238,1050.8 1240,1053.5 1242,1060.1 1244,1064.6 1246,1060.8 1248,1044.5 1250,1064.7 1252,1057.7 1254,1056.7 1256,1064.1 1258,1037.7 1260,1055.1 1262,1051.0 1264,1061.3 1266,1060.7 1268,1066.2 1270,1048.0 1272,1065.4 1274,1045.5 1276,1056.1 1278,1052.7 1280,1061.0 1282,1056.2 1284,1060.9 1286,1061.7 1288,1056.0 1290,1066.4 1292,1061.0 1294,1041.4 1296,1046.0 1298,1048.6 1300,1055.0 1302,1051.7 1304,1056.8 1306,1049.5 1308,1060.9 1310,1057.8 1312,1042.6 1314,1056.3 1316,1053.1 1318,1062.8 1320,1068.8 1322,1043.2 1324,1054.7 1326,1074.0 1328,1042.7 1330,1056.0 1332,1031.0 1334,1049.2 1336,1046.7 1338,1037.3 1340,1037.1 1342,1052.2 1344,1047.7 1346,1058.8 1348,1041.3 1350,1043.8 1352,1057.7 1354,1064.4 1356,1055.5 1358,1050.1 1360,1053.4 1362,1046.3 1364,1066.3 1366,1055.9 1368,1041.1 1370,1054.7 1372,1041.0 1374,1045.2 1376,1047.4 1378,1036.6 1380,1048.9 1382,1063.3 1384,1036.1 1386,1032.3 1388,1043.3 1390,1042.0 1392,1054.6 1394,1034.8 1396,1058.6 1398,1032.8 1400,1043.6 1402,1059.5 1404,1053.9 1406,1052.8 1408,1042.7 1410,1044.4 1412,1037.2 1414,1058.0 1416,1041.3 1418,1042.8 1420,1046.9 1422,1048.6 1424,1043.6 1426,1048.3 1428,1047.3 1430,1051.5 1432,1051.8 1434,1047.5 1436,1042.1 1438,1021.1 1440,1043.3 1442,1038.2 1444,1035.0 1446,1050.4 1448,1038.4 1450,1042.7 1452,1056.6 1454,1051.2 1456,1048.1 1458,1044.7 1460,1046.9 1462,1020.0 1464,1053.9 1466,1046.7 1468,1058.0 1470,1050.8 1472,1050.0 1474,1070.6 1476,1050.5 1478,1047.1 1480,1047.9 1482,1067.9 1484,1045.5 1486,1023.2 1488,1047.8 1490,1045.9 1492,1051.6 1494,1044.3 1496,1036.0 1498,1031.6 1500,1038.9 1502,1044.4 1504,1054.5 1506,1058.2 1508,1041.4 1510,1040.6 1512,1043.8 1514,1018.4 1516,1051.9 1518,1032.7 1520,1039.3 1522,1027.6 1524,1041.9 1526,1045.1 1528,1036.6 1530,1047.2 1532,1040.6 1534,1048.0 1536,1035.2 1538,1038.7 1540,1042.3 1542,1037.4 1544,1022.5 1546,1047.0 1548,1044.8 1550,1047.5 1552,1032.9 1554,1050.3 1556,1047.7 1558,1040.6 1560,1051.3 1562,1023.6 1564,1035.1 1566,1033.7 1568,1032.6 1570,1038.5 1572,1045.3 1574,1057.7 1576,1045.0 1578,1048.8 1580,1041.1 1582,1060.0 1584,1035.9 1586,1036.4 1588,1043.0 1590,1059.8 1592,1042.4 1594,1044.3 1596,1059.5 1598,1040.5 1600,1041.7 1602,1035.0 1604,1027.6 1606,1040.5 1608,1032.8 1610,1038.7 1612,1059.4 1614,1039.4 1616,1041.4 1618,1059.0 1620,1050.4 1622,1062.4 1624,1058.6 1626,1051.7 1628,1068.2 1630,1055.0 1632,1043.1 1634,1040.2 1636,1070.8 1638,1044.3 1640,1055.9 1642,1051.8 1644,1056.5 1646,1063.5 1648,1027.9 1650,1047.3 1652,1047.8 1654,1061.9 1656,1044.6 1658,1042.0 1660,1053.4 1662,1042.6 1664,1052.9 1666,1058.8 1668,1058.6 1670,1040.4 1672,1030.1 1674,1053.4 1676,1045.5 1678,1061.8 1680,1032.5 1682,1052.9 1684,1041.7 1686,1049.1 1688,1054.6 1690,1054.8 1692,1051.1 1694,1057.9 1696,1050.2 1698,1047.4 1700,1060.8 1702,1031.0 1704,1053.7 1706,1060.5 1708,1050.0 1710,1058.6 1712,1064.3 1714,1065.6 1716,1043.7 1718,1056.4 1720,1071.7 1722,1042.9 1724,1052.5 1726,1050.1 1728,1047.4 1730,1055.0 1732,1046.9 1734,1036.4 1736,1033.6 1738,1056.8 1740,1065.2 1742,1064.3 1744,1039.5 1746,1035.8 1748,1047.5 1750,1056.6 1752,1048.1 1754,1062.7 1756,1060.5 1758,1054.6 1760,1050.4 1762,1053.1 1764,1067.5 1766,1051.4 1768,1053.1 1770,1045.2 1772,1063.8 1774,1055.3 1776,1056.0 1778,1039.2 1780,1048.1 1782,1043.2 1784,1054.5 1786,1067.8 1788,1044.6 1790,1042.0 1792,1053.5 1794,1059.0 1796,1047.1 1798,1048.5 1800,1054.2 1802,1050.1 1804,1055.1 1806,1044.3 1808,1044.7 1810,1051.8 1812,1061.1 1814,1056.8 1816,1051.4 1818,1055.2 1820,1044.7 1822,1050.6 1824,1037.5 1826,1041.6 1828,1024.4 1830,1065.2 1832,1056.2 1834,1056.3 1836,1056.5 1838,1054.2 1840,1053.4 1842,1050.3 1844,1054.2 1846,1050.4 1848,1048.1 1850,1049.9 1852,1042.0 1854,1047.5 1856,1040.1 1858,1045.9 1860,1055.8 1862,1067.2 1864,1054.3 1866,1049.9 1868,1054.5 1870,1057.9 1872,1058.6 1874,1049.0 1876,1059.5 1878,1048.2 1880,1036.0 1882,1064.8 1884,1057.2 1886,1047.0 1888,1049.3 1890,1057.0 1892,1054.7 1894,1039.0 1896,1060.8 1898,1066.0 1900,1066.8 1902,1056.2 1904,1056.6 1906,1046.1 1908,1057.0 1910,1049.6 1912,1042.2 1914,1044.0 1916,1049.7 1918,1055.6 1920,1053.5 1922,1068.6 1924,1045.3 1926,1065.6 1928,1054.2 1930,1046.1 1932,1036.7 1934,1057.2 1936,1040.2 1938,1066.7 1940,1042.7 1942,1059.5 1944,1050.3 1946,1068.0 1948,1041.8 1950,1049.9 1952,1043.6 1954,1060.0 1956,1062.9 1958,1062.7 1960,1044.4 1962,1056.6 1964,1054.3 1966,1057.5 1968,1060.5 1970,1066.4 1972,1037.6 1974,1052.1 1976,1068.6 1978,1060.8 1980,1066.8 1982,1048.3 1984,1056.0 1986,1047.6 1988,1058.3 1990,1050.0 1992,1058.6 1994,1059.4 1996,1055.7 1998,1051.4 2000,1055.1 2002,1051.1 2004,1055.0 2006,1054.4 2008,1059.4 2010,1050.0 2012,1062.8 2014,1056.0 2016,1052.3 2018,1049.9 2020,1058.0 2022,1063.5 2024,1059.8 2026,1058.0 2028,1049.4 2030,1046.7 2032,1056.2 2034,1048.1 2036,1070.3 2038,1078.3 2040,1076.8"/>
</g>
<g fill="none" stroke="#00ff00" stroke-width="5.6" stroke-linejoin="round" stroke-linecap="round">
<polyline stroke-width="5.0" points="243,1160.0 250,1162.0 257,1167.0 258.4,1163.1 259.6,1156.3 261.5,1153.6 262.3,1143.3 264,1140.0 265,1133.2 266.4,1126.9 268.3,1119.2 269.8,1115.0 271,1108.0 271.6,1102.8 272.8,1096.2 273.8,1092.6 274.9,1083.2 276,1080.0 277,1076.0 277.8,1066.0 279,1062.0 279.7,1070.3 280.9,1073.7 281.6,1080.2 282,1083.0 282,1074.2 282.4,1071.6 282.3,1063.4 282.5,1059.2 282.5,1052.1 282.8,1050.2 283,1040.3 282.9,1035.6 283,1027.9 283.4,1021.2 283.5,1017.3 283.8,1014.1 284,1007.8 283.8,1001.7 283.9,995.2 284.1,988.4 284,981.1 284.5,977.0 285.1,969.0 284.9,965.9 285.1,958.7 285.1,949.7 284.8,944.6 285,937.9 285.1,935.0 285.3,931.7 285.9,922.8 286.1,914.8 286.4,912.8 286.4,904.2 286.6,900.0 286.6,895.1 286.7,885.2 286.8,878.0 286.6,875.6 287,868.0 287.5,865.3 287.8,856.2 287.3,849.8 288.3,845.8 288.1,837.4 288.1,829.4 288.2,828.4 288.9,817.0 288.9,810.3 289,809.1 289.6,801.2 289.5,796.4 290.3,788.8 289.7,780.1 290,780.4 290.6,773.5 290.5,763.4 291,759.0 291.7,755.5 292,743.4 293,738.7 293.5,731.4 294,730.0 294.6,720.3 295,715.0 295.9,706.5 296.3,702.4 297.6,694.6 298,691.0 299.3,698.4 300.4,700.6 300.7,704.9 302,712.0 302.7,709.0 303.1,699.3 303.1,695.5 304.1,684.0 304,682.9 305,673.0 304.9,667.6 305.6,658.9 306,655.5 307.3,650.6 308.2,643.3 309,640.0 310.7,635.8 311.5,631.2 313,622.0 314.2,618.9 314.6,607.9 316.2,604.1 317,600.0 319,602.6 321,610.0 322.1,604.2 322.6,595.3 323,589.4 324,586.3 324,577.9 325,575.0 325.5,577.8 325.7,586.1 326.5,592.8 327,598.0 327.7,591.5 328.2,584.4 328.5,583.4 329,573.8 329.6,570.0 330,561.3 331,559.0 333,562.1 335,570.0 336.7,567.1 338,560.0 338.6,555.4 339,544.8 339.5,541.1 340.2,533.4 340.4,532.2 341,523.4 341.7,518.0 344.1,509.4 345.8,504.0 346.6,510.8 348,515.5 349,520.0 349.8,526.1 351,531.5 352.6,540.0 353.2,542.9 353.2,555.4 354.2,557.9 354.4,564.9 354.6,572.5 354.8,578.3 355.1,584.6 356,587.6 356.4,593.7 356.7,600.0 360,606.0 364,602.0 364.9,605.3 365.3,616.6 366.3,618.0 366.3,628.8 367,628.9 367.9,637.4 368.6,643.8 369,650.0 369.1,655.7 369,665.4 369.4,670.8 369.7,673.3 369.9,683.9 369.6,688.1 369.4,695.7 369.5,700.4 369.6,703.4 370,712.7 375,716.0 376.6,722.9 378,730.0 378.8,737.8 379.7,738.5 380.1,747.7 380.8,753.2 381.3,761.2 381.9,764.5 382.6,770.0 386,776.0 386.7,778.8 387,784.5 387.3,789.5 387.9,796.7 388.7,804.8 389.5,809.9 390.1,814.9 390.5,821.7 390.8,827.0 391.3,831.3 391.9,840.7 391.6,844.9 392.7,847.4 392.4,858.1 392.5,864.1 393.4,869.9 393.7,877.2 394,880.0 394.8,885.7 395.4,890.7 396.6,898.9 397.6,900.7 398.7,904.3 398.5,910.4 399.4,920.8 400.3,925.6 400.9,928.0 401.6,941.2 402.6,944.4 403,950.0 403.7,958.3 404.9,961.6 405.7,964.9 407,971.5 409.9,965.0 413,960.0 418,955.0 418,962.0 418.6,967.5 419.4,974.0 419.5,977.1 420.3,983.6 420.2,993.2 420.5,998.9 421.2,1001.2 422.2,1007.5 422.4,1013.2 423,1021.3 423.1,1022.7 423.5,1031.5 430,1030.0 432.2,1034.9 434.5,1040.2 437,1045.0 441,1050.0 441.4,1056.0 442.4,1063.2 443.2,1069.6 443.6,1073.7 444.7,1079.0 445,1086.0"/>
<polyline id="a-g" points="445,1086.0 447,1092.3 449,1090.7 451,1080.1 453,1089.8 455,1096.8 457,1086.6 459,1096.2 461,1092.8 463,1092.3 465,1093.7 467,1098.1 469,1103.1 471,1084.6 473,1100.8 475,1093.5 477,1097.8 479,1082.0 481,1093.2 483,1104.8 485,1083.7 487,1076.9 489,1079.4 491,1098.9 493,1118.1 495,1106.7 497,1114.3 499,1101.7 501,1113.3 503,1099.9 505,1105.2 507,1099.8 509,1101.3 511,1105.4 513,1099.3 515,1111.8 517,1100.5 519,1103.3 521,1098.5 523,1114.3 525,1098.6 527,1111.0 529,1104.4 531,1101.1 533,1104.0 535,1102.7 537,1107.8 539,1104.7 541,1108.2 543,1111.6 545,1106.2 547,1104.2 549,1108.3 551,1103.5 553,1114.1 555,1118.0 557,1111.9 559,1129.3 561,1117.4 563,1109.9 565,1109.2 567,1111.2 569,1109.1 571,1121.1 573,1106.5 575,1111.2 577,1107.1 579,1120.1 581,1099.7 583,1109.1 585,1109.4 587,1112.6 589,1112.5 591,1106.8 593,1119.5 595,1112.4 597,1133.2 599,1096.4 601,1114.6 603,1103.5 605,1106.9 607,1128.9 609,1127.9 611,1096.2 613,1109.1 615,1108.8 617,1088.4 619,1108.9 621,1114.1 623,1115.5 625,1095.6 627,1121.1 629,1112.9 631,1111.6 633,1106.3 635,1115.4 637,1118.6 639,1108.7 641,1113.2 643,1118.6 645,1092.3 647,1110.9 649,1094.1 651,1102.9 653,1114.4 655,1109.8 657,1107.9 659,1108.5 661,1116.5 663,1113.7 665,1100.6 667,1110.2 669,1104.8 671,1130.3 673,1103.8 675,1106.7 677,1109.1 679,1106.4 681,1110.0 683,1109.6 685,1093.2 687,1100.8 689,1095.6 691,1115.7 693,1128.3 695,1119.3 697,1109.4 699,1113.7 701,1106.8 703,1120.1 705,1111.6 707,1101.9 709,1096.5 711,1098.6 713,1103.5 715,1092.4 717,1100.3 719,1113.1 721,1102.3 723,1121.7 725,1115.8 727,1101.4 729,1090.7 731,1100.1 733,1097.9 735,1104.5 737,1117.1 739,1091.7 741,1097.9 743,1103.5 745,1106.9 747,1099.6 749,1100.0 751,1108.5 753,1099.9 755,1096.0 757,1096.2 759,1088.1 761,1098.5 763,1102.4 765,1069.4 767,1106.1 769,1096.5 771,1098.0 773,1100.7 775,1073.2 777,1085.0 779,1091.5 781,1087.2 783,1094.4 785,1088.2 787,1076.9 789,1093.9 791,1097.4 793,1092.5 795,1083.7 797,1088.4 799,1093.8 801,1094.8 803,1098.7 805,1087.5 807,1073.7 809,1081.2 811,1093.1 813,1093.7 815,1108.3 817,1088.0 819,1087.8 821,1088.2 823,1085.3 825,1092.3 827,1090.2 829,1086.0 831,1078.4 833,1082.7 835,1080.4 837,1093.9 839,1090.9 841,1073.5 843,1091.2 845,1079.8 847,1083.9 849,1093.6 851,1077.1 853,1085.1 855,1073.7 857,1067.4 859,1092.8 861,1084.7 863,1074.8 865,1068.2 867,1078.3 869,1092.1 871,1085.9 873,1077.4 875,1077.1 877,1079.1 879,1063.4 881,1087.9 883,1080.1 885,1086.9 887,1073.7 889,1082.6 891,1080.8 893,1062.8 895,1074.5 897,1075.8 899,1069.4 901,1071.8 903,1076.9 905,1075.1 907,1066.4 909,1078.3 911,1072.6 913,1071.7 915,1070.3 917,1071.5 919,1066.4 921,1061.0 923,1057.9 925,1076.2 927,1052.4 929,1074.6 931,1058.3 933,1056.4 935,1058.1 937,1065.1 939,1070.9 941,1050.1 943,1077.7 945,1074.4 947,1068.7 949,1066.0 951,1062.1 953,1074.0 955,1071.3 957,1083.0 959,1061.4 961,1072.1 963,1067.7 965,1058.4 967,1081.9 969,1064.9 971,1068.3 973,1056.6 975,1059.4 977,1063.1 979,1057.6 981,1067.3 983,1066.8 985,1056.8 987,1062.9 989,1060.2 991,1059.5 993,1053.1 995,1055.6 997,1061.3 999,1069.1 1001,1051.7 1003,1070.7 1005,1060.3 1007,1049.0 1009,1059.8 1011,1063.3 1013,1059.4 1015,1074.6 1017,1056.3 1019,1059.7 1021,1052.7 1023,1060.2 1025,1034.1 1027,1047.3 1029,1048.2 1031,1053.4 1033,1051.5 1035,1057.9 1037,1052.2 1039,1052.2 1041,1049.9 1043,1048.7 1045,1052.6 1047,1051.6 1049,1049.5 1051,1042.2 1053,1037.7 1055,1039.1 1057,1045.4 1059,1055.1 1061,1045.2 1063,1047.3 1065,1026.3 1067,1063.9 1069,1029.7 1071,1055.2 1073,1035.8 1075,1048.8 1077,1045.3 1079,1037.9 1081,1036.0 1083,1029.3 1085,1034.6 1087,1044.5 1089,1037.3 1091,1023.1 1093,1036.4 1095,1016.7 1097,1031.5 1099,1024.3 1101,1025.1 1103,1038.7 1105,1025.8 1107,1016.9 1109,1024.2 1111,1035.7 1113,1025.2 1115,1040.9 1117,1036.3 1119,1027.3 1121,1035.4 1123,1041.4 1125,1005.3 1127,1033.7 1129,1026.7 1131,1019.6 1133,1026.9 1135,1024.1 1137,1018.3 1139,1035.0 1141,1024.1 1143,1033.0 1145,1019.3 1147,1008.7 1149,1024.9 1151,1018.7 1153,1008.9 1155,1004.0 1157,1023.4 1159,1029.5 1161,1033.6 1163,1023.1 1165,1017.9 1167,1020.5 1169,1020.3 1171,1023.8 1173,1014.4 1175,1006.2 1177,1015.5 1179,1018.6 1181,1017.1 1183,1015.2 1185,1032.6 1187,1021.3 1189,1000.7 1191,1016.6 1193,994.2 1195,1016.3 1197,1014.3 1199,1011.1 1201,1000.9 1203,1004.7 1205,1013.4 1207,1002.6 1209,1014.6 1211,1003.0 1213,1006.8 1215,1016.9 1217,1007.8 1219,1005.4 1221,1007.4 1223,1012.3 1225,1008.3 1227,1012.3 1229,1009.0 1231,1011.9 1233,1008.0 1235,1009.7 1237,1013.8 1239,998.7 1241,995.8 1243,1005.1 1245,1008.8 1247,1010.5 1249,997.2 1251,1008.6 1253,1010.4 1255,994.7 1257,1009.2 1259,1015.7 1261,1004.6 1263,997.0 1265,997.0 1267,1000.8 1269,996.5 1271,973.6 1273,1016.7 1275,999.7 1277,1002.5 1279,1006.9 1281,1000.3 1283,993.0 1285,996.3 1287,1002.7 1289,1001.7 1291,996.2 1293,1006.7 1295,1006.4 1297,999.9 1299,993.4 1301,999.8 1303,1002.5 1305,994.0 1307,991.8 1309,998.3 1311,993.3 1313,1008.0 1315,998.1 1317,1018.8 1319,1000.8 1321,989.6 1323,995.7 1325,997.7 1327,980.6 1329,1000.7 1331,992.8 1333,993.8 1335,989.3 1337,984.6 1339,994.5 1341,986.0 1343,993.6 1345,987.4 1347,983.2 1349,998.6 1351,999.1 1353,999.3 1355,994.7 1357,1006.4 1359,990.7 1361,1005.5 1363,988.2 1365,991.0 1367,993.1 1369,994.3 1371,1008.7 1373,993.1 1375,987.8 1377,1004.2 1379,997.7 1381,984.6 1383,996.8 1385,1002.3 1387,990.2 1389,1009.0 1391,1008.4 1393,989.7 1395,1003.8 1397,976.2 1399,993.1 1401,986.9 1403,1001.4 1405,987.3 1407,1001.7 1409,987.3 1411,989.4 1413,984.5 1415,993.7 1417,981.0 1419,995.4 1421,983.5 1423,1007.7 1425,988.2 1427,983.2 1429,994.1 1431,982.3 1433,994.0 1435,987.5 1437,993.5 1439,989.8 1441,992.3 1443,985.5 1445,985.2 1447,1002.8 1449,999.9 1451,995.8 1453,985.0 1455,1001.7 1457,988.9 1459,987.7 1461,998.3 1463,989.8 1465,991.6 1467,990.7 1469,986.5 1471,986.7 1473,991.1 1475,996.0 1477,991.2 1479,982.9 1481,992.7 1483,992.0 1485,994.1 1487,998.9 1489,998.0 1491,990.3 1493,991.1 1495,992.0 1497,991.3 1499,983.7 1501,991.2 1503,984.0 1505,986.5 1507,987.6 1509,988.7 1511,989.9 1513,990.6 1515,995.8 1517,1006.3 1519,989.3 1521,1009.3 1523,1007.1 1525,1006.0 1527,997.0 1529,1001.1 1531,1003.9 1533,1004.4 1535,996.4 1537,1004.0 1539,1008.3 1541,1008.0 1543,1004.5 1545,996.1 1547,1000.5 1549,1002.4 1551,1000.7 1553,1004.6 1555,1004.6 1557,1002.9 1559,1003.8 1561,1002.0 1563,1003.4 1565,1000.0 1567,997.9 1569,1000.3 1571,991.7 1573,986.3 1575,1001.9 1577,995.4 1579,1017.7 1581,1009.7 1583,1014.9 1585,1011.7 1587,1002.0 1589,1008.3 1591,1006.6 1593,991.8 1595,1008.6 1597,995.2 1599,994.3 1601,1010.4 1603,999.7 1605,999.2 1607,1018.1 1609,992.9 1611,1000.7 1613,1017.1 1615,1030.9 1617,1007.5 1619,1015.4 1621,999.7 1623,1022.6 1625,1001.4 1627,983.3 1629,1009.8 1631,1009.0 1633,1004.6 1635,1010.2 1637,1022.0 1639,998.8 1641,1011.5 1643,1001.4 1645,1023.2 1647,1015.4 1649,1007.9 1651,1015.0 1653,1010.1 1655,1019.1 1657,1013.7 1659,1025.1 1661,1036.4 1663,1014.1 1665,1017.0 1667,1014.4 1669,1007.1 1671,1014.4 1673,1018.7 1675,1017.7 1677,1008.9 1679,1006.5 1681,1025.5 1683,1015.5 1685,1023.0 1687,1007.6 1689,1024.0 1691,1000.2 1693,1016.2 1695,1014.3 1697,1015.7 1699,1013.2 1701,1025.6 1703,1022.9 1705,1018.6 1707,1035.3 1709,1025.2 1711,1018.4 1713,1012.8 1715,994.1 1717,1011.4 1719,1013.3 1721,1012.6 1723,1019.1 1725,1033.5 1727,1020.5 1729,1015.4 1731,1008.3 1733,1023.1 1735,1011.7 1737,1031.5 1739,1018.5 1741,1027.2 1743,1019.5 1745,1020.4 1747,1019.2 1749,1023.3 1751,1018.5 1753,1007.4 1755,1002.8 1757,1011.6 1759,1013.6 1761,1021.7 1763,1016.9 1765,1020.8 1767,1014.5 1769,1022.3 1771,1018.6 1773,1027.2 1775,1012.8 1777,1003.8 1779,1013.4 1781,1023.6 1783,1015.4 1785,1015.2 1787,1008.4 1789,1013.3 1791,1018.1 1793,1005.4 1795,1022.2 1797,1023.3 1799,1020.5 1801,1021.8 1803,1013.7 1805,1030.2 1807,1025.3 1809,1009.9 1811,1016.8 1813,1010.8 1815,1027.8 1817,1020.1 1819,1008.8 1821,1025.6 1823,1024.0 1825,1016.9 1827,1015.9 1829,1017.5 1831,1019.2 1833,1009.8 1835,1032.3 1837,1018.9 1839,1038.1 1841,1016.4 1843,1017.4 1845,1015.6 1847,1023.2 1849,1024.1 1851,1020.5 1853,1027.1 1855,1028.4 1857,1029.7 1859,1018.9 1861,1011.2 1863,1009.8 1865,1009.0 1867,1016.7 1869,1006.8 1871,1018.2 1873,1030.1 1875,1017.2 1877,1005.1 1879,1027.7 1881,1017.9 1883,1014.8 1885,1014.5 1887,1007.4 1889,1021.1 1891,1028.0 1893,1011.7 1895,1023.7 1897,1021.5 1899,1014.0 1901,1024.8 1903,1008.0 1905,1021.2 1907,1017.6 1909,1017.3 1911,1020.8 1913,1018.8 1915,997.8 1917,1003.4 1919,1006.0 1921,1016.3 1923,1027.4 1925,1029.7 1927,1026.7 1929,1021.0 1931,1010.0 1933,1028.4 1935,1017.9 1937,1006.7 1939,1014.1 1941,1029.0 1943,1030.7 1945,1011.3 1947,1035.1 1949,1024.4 1951,1022.2 1953,1007.6 1955,1036.1 1957,1016.9 1959,1012.1 1961,1016.4 1963,1019.8 1965,1011.8 1967,1019.3 1969,1014.5 1971,1003.4 1973,1011.9 1975,1007.3 1977,1011.0 1979,1015.6 1981,1019.0 1983,1014.7 1985,1017.7 1987,1012.5 1989,1023.3 1991,1017.8 1993,1037.5 1995,1015.5 1997,1020.9 1999,1033.9 2001,1012.1 2003,1011.4 2005,1008.2 2007,1014.3 2009,1012.1 2011,1014.7 2013,1024.5 2015,1006.0 2017,1016.5 2019,1020.1 2021,994.6 2023,1014.8 2025,1015.7 2027,1015.7 2029,1020.6 2031,1030.3 2033,1018.9 2035,1048.0 2037,1025.6 2039,1032.7 2041,1038.4"/>
</g>
<g fill="none" stroke="#0000ff" stroke-width="5.4" stroke-linejoin="round" stroke-linecap="round">
<polyline id="a-b-p" points="243,1158.0 245,1156.3 247,1155.9 249,1154.9 251,1161.7 253,1157.9 255,1151.5 257,1169.2 259,1151.8 261,1151.1 263,1153.2 265,1158.6 267,1148.8 269,1142.0 271,1150.0 273,1157.5 275,1149.9 277,1155.4 279,1149.9 281,1156.7 283,1146.7 285,1158.1 287,1160.9 289,1143.1 291,1151.3 293,1150.1 295,1149.4 297,1147.6 299,1154.5 301,1160.7 303,1163.4 305,1153.8 307,1155.2 309,1164.4 311,1159.8 313,1153.8"/>
<polyline stroke-width="4.7" points="313,1153.8 314.5,1154.0 316.2,1147.3 317,1140.0 318,1136.1 318.4,1127.2 319.2,1120.3 319.2,1117.9 320,1113.0 320.5,1105.0 320.8,1104.6 320.4,1096.0 320.5,1088.6 320.7,1086.8 321.3,1080.8 321.8,1074.4 321.5,1062.9 322,1060.0 322.3,1051.4 322.6,1046.9 322.7,1044.4 322.9,1032.4 322.8,1029.2 323.4,1023.6 323.5,1017.5 323.7,1011.1 324,1004.0 324.3,995.9 324,992.4 324.4,984.8 324.3,981.6 324.7,973.9 324.5,966.9 324.5,961.0 324.9,956.9 324.9,951.0 325.1,945.1 324.6,940.5 325.2,936.7 325,925.4 325,922.5 325.4,914.9 325.8,913.6 326,905.7 325.9,899.4 326.3,894.1 326.8,889.3 326.9,878.9 327.7,875.9 328,872.3 328.2,866.3 328.5,861.2 329,849.9 329.1,849.1 329.5,840.7 329.6,832.5 329.9,827.8 330.3,822.1 330.2,815.9 330.5,813.3 331.3,805.2 330.7,800.0 331.4,794.6 331.4,783.1 331.8,777.5 332.2,776.2 332.1,771.2 332.1,765.1 332.6,757.8 333.1,753.3 333.5,740.6 332.9,738.1 333.5,731.7 333.6,726.9 334.5,721.0 334.9,712.2 335.9,709.5 335.6,699.1 336.6,694.5 337,690.0 337.6,686.3 338.2,681.6 339.2,673.2 339.4,666.5 340.6,664.9 340.7,653.1 341.7,650.0 342.6,646.1 342.7,639.8 343.9,632.6 344.2,624.6 344.9,621.1 345.5,611.3 346.7,609.2 347,600.0 348.2,596.3 348.2,585.4 349.5,584.9 350.5,577.5 351.4,568.3 351.6,563.7 352.6,559.0 353.3,551.9 354,546.5 354.8,541.9 356.5,535.4 357,530.0 358.4,524.3 359.9,518.7 361,509.3 362,504.0 362.9,496.1 362.9,494.3 363.4,489.7 364.3,479.0 364.3,472.5 365,470.0 366,462.4 366.2,455.4 366.6,450.2 367.6,444.0 368.2,438.4 369,432.1 370.5,425.1 371,420.0 373.1,412.7 374.4,411.6 378,413.0 378.6,419.1 379.6,426.8 379.8,431.0 380.8,436.3 381,440.0 382.2,448.9 382.6,452.7 383.1,457.0 384.5,463.7 385,469.0 385.4,460.5 386,454.8 386.6,450.8 387,448.2 388,440.0 388.6,435.5 389.5,427.4 390,425.0 392,417.0 392.1,419.8 393.4,424.7 393.4,435.4 394,438.0 394.5,429.0 395.1,426.0 394.9,420.1 395.7,412.3 396,410.0 397.1,405.8 397.8,399.5 399,395.0 399.4,385.0 400.4,381.3 401,375.0 402.2,367.2 402.7,364.8 403.6,358.0 403.8,362.5 405,367.2 405.3,375.0 406,380.0 406.5,388.2 407.6,393.4 407.8,394.3 408.5,402.0 408.8,395.3 408.8,390.7 409.3,385.6 408.8,380.1 409.4,369.7 409.6,364.6 409.6,359.1 409.4,351.4 409.8,343.1 410,340.0 410.5,333.0 410.6,331.7 411.3,321.2 411.2,317.5 411.3,313.3 411.8,302.8 412.5,299.9 412.6,294.0 413,299.8 414.4,301.4 415,310.0 415.8,314.9 416.3,320.3 417,330.0 417.2,339.0 417.2,338.7 417.9,350.9 417.7,356.5 418.3,361.2 418.4,363.1 418.6,370.8 418.3,377.7 419,382.7 418.4,387.6 419,395.0 419.1,402.0 419.9,406.6 419.5,413.3 419.7,414.4 420.4,422.3 420.5,425.8 420.7,435.1 421,440.0 421.6,442.9 421.4,452.5 421.7,461.4 421.8,465.7 422,471.5 422.5,468.2 423.4,459.5 423.7,456.5 424,450.0 424.4,446.8 425.2,439.3 425.5,434.0 425.8,442.9 426,446.4 426,453.2 426.6,455.7 426.3,464.0 426.4,465.6 426.6,475.6 427,480.0 427.3,486.9 427.8,492.9 428.4,501.2 428.7,506.7 428.9,513.4 429,518.0 430,522.7 430,526.3 430.3,538.8 431.3,538.8 431.5,547.4 432.6,555.5 433,559.0 433.5,563.7 434,568.5 434.1,573.9 434.9,582.7 435.1,586.4 435.9,593.4 436,600.0 436.7,604.1 436.8,613.1 436.7,614.9 437.6,620.0 437.7,625.6 438.5,636.6 438.4,640.0 438.3,648.4 438.9,649.2 438.7,659.0 439.2,662.9 438.9,670.0 439.6,676.1 439.3,680.6 439.9,687.7 440.1,691.7 440,700.0 440.4,708.0 440.8,710.4 441.1,718.3 440.8,720.3 441.4,732.7 441.6,734.0 441.6,741.2 442.4,746.7 442.2,753.1 442.5,759.0 442.5,763.2 443.3,773.1 443.2,775.9 444,783.2 443.9,790.6 444.5,792.7 444.2,801.0 445.1,805.5 445,810.0 445.6,812.8 445.7,824.4 445.8,826.0 446.6,836.5 446.6,840.7 447.3,834.3 448,825.7 449,820.0 450.2,816.1 451.3,809.6 452.3,800.6 453,797.0 453.7,805.9 454.4,810.0 454.8,813.2 454.8,820.0 455.6,821.3 456,830.0 456.3,836.9 456.6,839.6 457.4,846.3 457.9,856.6 458.5,858.3 459,868.0 460.6,871.7 461.1,878.6 463.1,887.6 464,890.0 465.6,893.3 468.2,905.1 469.8,909.0 470.9,916.4 471.6,921.9 472,925.0 473.1,928.2 475,936.0 475.2,938.8 476.6,952.1 476.8,952.4 477,964.0 478.2,968.0 478.6,974.4 479,980.0 479.9,989.7 480.4,989.7 480.8,1000.1 481.5,1002.6 483,1014.8 483.4,1018.0 488,1012.0 490.7,1003.5 494,999.0 495.8,1008.3 496.8,1011.5 498,1018.0 500.5,1024.7 502.5,1031.5 504.8,1038.2 506.3,1038.4 508,1046.0 510.9,1049.7 513.4,1058.7"/>
<polyline id="a-b" points="513.4,1058.7 515.4,1066.6 517.4,1057.4 519.4,1054.1 521.4,1029.0 523.4,1054.2 525.4,1052.5 527.4,1053.2 529.4,1060.0 531.4,1062.7 533.4,1054.6 535.4,1054.4 537.4,1056.6 539.4,1068.1 541.4,1070.9 543.4,1053.7 545.4,1052.8 547.4,1068.0 549.4,1075.7 551.4,1064.1 553.4,1057.6 555.4,1072.2 557.4,1061.3 559.4,1067.5 561.4,1073.8 563.4,1068.0 565.4,1065.5 567.4,1070.1 569.4,1062.7 571.4,1067.8 573.4,1065.0 575.4,1068.8 577.4,1066.8 579.4,1070.1 581.4,1069.6 583.4,1072.6 585.4,1069.1 587.4,1071.5 589.4,1080.7 591.4,1055.3 593.4,1081.5 595.4,1067.3 597.4,1061.7 599.4,1070.6 601.4,1071.6 603.4,1079.8 605.4,1067.7 607.4,1080.3 609.4,1078.7 611.4,1065.3 613.4,1072.3 615.4,1084.4 617.4,1084.6 619.4,1089.7 621.4,1085.4 623.4,1083.6 625.4,1084.2 627.4,1093.8 629.4,1077.9 631.4,1086.9 633.4,1090.1 635.4,1077.1 637.4,1100.0 639.4,1081.4 641.4,1086.8 643.4,1107.0 645.4,1082.2 647.4,1084.8 649.4,1099.3 651.4,1076.3 653.4,1082.5 655.4,1091.4 657.4,1093.1 659.4,1089.9 661.4,1088.5 663.4,1096.8 665.4,1094.2 667.4,1091.4 669.4,1080.4 671.4,1078.6 673.4,1070.3 675.4,1093.5 677.4,1071.7 679.4,1094.2 681.4,1102.1 683.4,1075.8 685.4,1081.0 687.4,1082.1 689.4,1091.1 691.4,1077.6 693.4,1087.1 695.4,1084.5 697.4,1086.8 699.4,1099.1 701.4,1081.7 703.4,1090.5 705.4,1089.2 707.4,1093.8 709.4,1075.7 711.4,1096.0 713.4,1090.2 715.4,1091.0 717.4,1087.3 719.4,1073.5 721.4,1079.7 723.4,1093.8 725.4,1087.8 727.4,1088.0 729.4,1103.4 731.4,1107.4 733.4,1086.9 735.4,1101.3 737.4,1067.1 739.4,1067.5 741.4,1092.5 743.4,1084.8 745.4,1090.6 747.4,1086.4 749.4,1083.8 751.4,1088.6 753.4,1082.6 755.4,1069.0 757.4,1082.0 759.4,1083.3 761.4,1096.8 763.4,1075.5 765.4,1083.9 767.4,1079.5 769.4,1080.7 771.4,1092.5 773.4,1080.9 775.4,1074.6 777.4,1079.6 779.4,1082.0 781.4,1069.5 783.4,1078.6 785.4,1092.8 787.4,1086.7 789.4,1080.3 791.4,1075.5 793.4,1077.5 795.4,1067.2 797.4,1087.8 799.4,1080.4 801.4,1076.3 803.4,1069.0 805.4,1074.4 807.4,1080.8 809.4,1079.2 811.4,1074.7 813.4,1082.1 815.4,1082.5 817.4,1073.1 819.4,1074.7 821.4,1070.9 823.4,1069.0 825.4,1083.8 827.4,1080.4 829.4,1080.2 831.4,1064.5 833.4,1067.7 835.4,1076.2 837.4,1074.4 839.4,1079.0 841.4,1074.3 843.4,1085.6 845.4,1095.6 847.4,1091.0 849.4,1091.7 851.4,1076.6 853.4,1081.5 855.4,1072.1 857.4,1082.5 859.4,1073.8 861.4,1068.8 863.4,1068.7 865.4,1080.1 867.4,1076.4 869.4,1077.6 871.4,1064.7 873.4,1075.1 875.4,1061.1 877.4,1085.3 879.4,1070.4 881.4,1072.7 883.4,1071.9 885.4,1059.2 887.4,1061.4 889.4,1071.2 891.4,1086.4 893.4,1062.9 895.4,1066.3 897.4,1072.2 899.4,1057.3 901.4,1058.0 903.4,1068.9 905.4,1073.7 907.4,1070.5 909.4,1085.6 911.4,1069.2 913.4,1073.1 915.4,1084.9 917.4,1085.4 919.4,1055.1 921.4,1064.5 923.4,1076.4 925.4,1055.3 927.4,1057.2 929.4,1057.2 931.4,1055.8 933.4,1057.5 935.4,1066.8 937.4,1075.8 939.4,1080.9 941.4,1065.5 943.4,1047.2 945.4,1062.1 947.4,1059.4 949.4,1067.2 951.4,1062.3 953.4,1046.8 955.4,1062.5 957.4,1041.7 959.4,1055.2 961.4,1062.3 963.4,1062.3 965.4,1074.5 967.4,1041.0 969.4,1063.6 971.4,1064.9 973.4,1054.9 975.4,1065.3 977.4,1048.6 979.4,1064.0 981.4,1062.6 983.4,1049.5 985.4,1054.0 987.4,1056.6 989.4,1054.9 991.4,1066.4 993.4,1060.0 995.4,1071.5 997.4,1068.1 999.4,1061.9 1001.4,1060.5 1003.4,1049.7 1005.4,1053.2 1007.4,1055.6 1009.4,1062.8 1011.4,1052.1 1013.4,1059.7 1015.4,1057.1 1017.4,1052.8 1019.4,1056.9 1021.4,1069.1 1023.4,1072.4 1025.4,1055.4 1027.4,1055.8 1029.4,1051.6 1031.4,1052.0 1033.4,1068.7 1035.4,1061.9 1037.4,1065.5 1039.4,1069.0 1041.4,1050.1 1043.4,1055.5 1045.4,1055.4 1047.4,1062.8 1049.4,1055.8 1051.4,1060.8 1053.4,1063.8 1055.4,1066.3 1057.4,1060.1 1059.4,1049.0 1061.4,1041.4 1063.4,1065.2 1065.4,1058.5 1067.4,1047.8 1069.4,1052.6 1071.4,1053.9 1073.4,1039.3 1075.4,1054.7 1077.4,1046.5 1079.4,1051.0 1081.4,1060.2 1083.4,1055.3 1085.4,1058.5 1087.4,1055.5 1089.4,1053.0 1091.4,1052.2 1093.4,1070.8 1095.4,1053.5 1097.4,1067.9 1099.4,1047.8 1101.4,1058.9 1103.4,1053.5 1105.4,1046.2 1107.4,1029.3 1109.4,1067.9 1111.4,1045.3 1113.4,1047.1 1115.4,1054.3 1117.4,1053.6 1119.4,1054.2 1121.4,1051.7 1123.4,1039.0 1125.4,1058.1 1127.4,1044.0 1129.4,1053.7 1131.4,1054.8 1133.4,1059.2 1135.4,1046.4 1137.4,1043.6 1139.4,1046.2 1141.4,1032.3 1143.4,1039.3 1145.4,1035.7 1147.4,1035.6 1149.4,1045.1 1151.4,1040.1 1153.4,1058.1 1155.4,1055.9 1157.4,1026.3 1159.4,1044.0 1161.4,1033.5 1163.4,1045.7 1165.4,1042.4 1167.4,1049.5 1169.4,1042.3 1171.4,1047.4 1173.4,1038.8 1175.4,1020.5 1177.4,1031.7 1179.4,1032.4 1181.4,1033.8 1183.4,1027.1 1185.4,1049.1 1187.4,1033.8 1189.4,1046.8 1191.4,1033.0 1193.4,1047.5 1195.4,1024.9 1197.4,1037.9 1199.4,1022.1 1201.4,1038.1 1203.4,1048.8 1205.4,1018.8 1207.4,1024.6 1209.4,1034.5 1211.4,1031.7 1213.4,1020.9 1215.4,1041.8 1217.4,1027.9 1219.4,1037.7 1221.4,1027.0 1223.4,1014.8 1225.4,1020.6 1227.4,1036.8 1229.4,1015.5 1231.4,1024.1 1233.4,1031.7 1235.4,1033.8 1237.4,1033.5 1239.4,1013.9 1241.4,1040.7 1243.4,1021.3 1245.4,1023.2 1247.4,1021.2 1249.4,1020.0 1251.4,1015.9 1253.4,1020.0 1255.4,1032.6 1257.4,1009.7 1259.4,997.6 1261.4,1022.4 1263.4,1019.3 1265.4,1022.6 1267.4,1030.7 1269.4,1012.2 1271.4,1018.7 1273.4,1022.4 1275.4,1026.1 1277.4,1024.3 1279.4,1010.1 1281.4,1005.9 1283.4,1013.7 1285.4,1001.5 1287.4,1024.1 1289.4,1011.2 1291.4,1010.7 1293.4,1006.9 1295.4,1024.7 1297.4,1011.4 1299.4,1006.6 1301.4,1015.6 1303.4,1007.3 1305.4,1015.8 1307.4,1022.5 1309.4,1010.6 1311.4,1014.8 1313.4,1014.6 1315.4,1023.1 1317.4,1020.4 1319.4,1015.5 1321.4,1008.5 1323.4,1014.5 1325.4,1005.2 1327.4,1016.6 1329.4,1009.9 1331.4,1013.5 1333.4,1006.8 1335.4,1002.3 1337.4,1002.0 1339.4,1018.7 1341.4,1008.0 1343.4,1007.3 1345.4,994.8 1347.4,1010.0 1349.4,975.7 1351.4,1021.2 1353.4,1008.1 1355.4,1009.5 1357.4,996.1 1359.4,998.3 1361.4,1007.7 1363.4,1002.2 1365.4,1008.4 1367.4,1016.9 1369.4,1010.2 1371.4,985.2 1373.4,992.9 1375.4,992.3 1377.4,997.3 1379.4,984.2 1381.4,985.4 1383.4,998.9 1385.4,1001.2 1387.4,1009.4 1389.4,998.8 1391.4,1015.2 1393.4,988.4 1395.4,993.6 1397.4,1005.5 1399.4,1001.5 1401.4,998.3 1403.4,1011.9 1405.4,1014.5 1407.4,1015.3 1409.4,1003.7 1411.4,1003.7 1413.4,1005.0 1415.4,1005.0 1417.4,1013.0 1419.4,1002.6 1421.4,1009.4 1423.4,989.2 1425.4,1013.2 1427.4,1020.4 1429.4,1006.5 1431.4,1011.9 1433.4,992.2 1435.4,1002.2 1437.4,993.6 1439.4,1010.8 1441.4,1013.1 1443.4,997.0 1445.4,999.9 1447.4,998.5 1449.4,1026.0 1451.4,1004.1 1453.4,1008.3 1455.4,1009.1 1457.4,1009.3 1459.4,1004.4 1461.4,995.6 1463.4,1000.6 1465.4,1019.5 1467.4,1004.7 1469.4,1000.0 1471.4,992.2 1473.4,1005.9 1475.4,1006.8 1477.4,999.6 1479.4,1014.7 1481.4,1003.2 1483.4,1007.9 1485.4,1013.6 1487.4,1003.3 1489.4,1011.2 1491.4,1000.2 1493.4,1000.4 1495.4,1005.7 1497.4,1003.7 1499.4,1011.2 1501.4,1006.3 1503.4,1002.8 1505.4,1009.6 1507.4,1012.8 1509.4,999.7 1511.4,1007.1 1513.4,1005.7 1515.4,1019.1 1517.4,1003.7 1519.4,1017.9 1521.4,998.2 1523.4,1009.9 1525.4,1021.6 1527.4,1011.9 1529.4,1019.7 1531.4,993.8 1533.4,1010.0 1535.4,1009.7 1537.4,1007.2 1539.4,993.5 1541.4,1012.3 1543.4,985.9 1545.4,1016.3 1547.4,1011.1 1549.4,1012.8 1551.4,1002.7 1553.4,995.0 1555.4,1000.5 1557.4,1001.2 1559.4,1010.8 1561.4,1004.5 1563.4,1008.8 1565.4,1011.0 1567.4,1021.1 1569.4,992.0 1571.4,1008.1 1573.4,1016.5 1575.4,1015.2 1577.4,1004.8 1579.4,1007.4 1581.4,1009.6 1583.4,1011.2 1585.4,1007.4 1587.4,1008.0 1589.4,1001.4 1591.4,1005.8 1593.4,1020.5 1595.4,1002.4 1597.4,1019.2 1599.4,1028.9 1601.4,1014.0 1603.4,1031.4 1605.4,1010.2 1607.4,1024.3 1609.4,1010.6 1611.4,1002.4 1613.4,1013.4 1615.4,1026.9 1617.4,1010.1 1619.4,1016.0 1621.4,1003.3 1623.4,1002.7 1625.4,1011.4 1627.4,1009.4 1629.4,1014.2 1631.4,1020.1 1633.4,999.4 1635.4,1000.3 1637.4,1008.9 1639.4,1029.3 1641.4,1007.4 1643.4,1009.0 1645.4,1015.6 1647.4,1031.0 1649.4,1008.4 1651.4,1012.6 1653.4,1012.3 1655.4,1017.6 1657.4,1027.9 1659.4,999.9 1661.4,998.1 1663.4,1013.0 1665.4,1019.7 1667.4,997.2 1669.4,1014.2 1671.4,1025.5 1673.4,1015.5 1675.4,1020.9 1677.4,1018.3 1679.4,1021.7 1681.4,1018.8 1683.4,1019.8 1685.4,1029.6 1687.4,1012.8 1689.4,1018.4 1691.4,1026.6 1693.4,1012.9 1695.4,1015.0 1697.4,1010.7 1699.4,1009.3 1701.4,1034.8 1703.4,1019.6 1705.4,1031.8 1707.4,1023.1 1709.4,1017.7 1711.4,1018.8 1713.4,1024.9 1715.4,1019.8 1717.4,1027.3 1719.4,1009.2 1721.4,1016.6 1723.4,1018.3 1725.4,1012.8 1727.4,1010.5 1729.4,1018.6 1731.4,1020.0 1733.4,1014.3 1735.4,1015.7 1737.4,1013.9 1739.4,1025.0 1741.4,1017.1 1743.4,1007.5 1745.4,1015.2 1747.4,1021.4 1749.4,1018.7 1751.4,1012.7 1753.4,1026.1 1755.4,1025.4 1757.4,1027.2 1759.4,1034.6 1761.4,1017.6 1763.4,1026.5 1765.4,1018.7 1767.4,1026.0 1769.4,1025.1 1771.4,1020.3 1773.4,1025.9 1775.4,1014.4 1777.4,1024.9 1779.4,1011.8 1781.4,1037.2 1783.4,1028.4 1785.4,1005.1 1787.4,996.6 1789.4,1029.1 1791.4,1012.7 1793.4,1023.6 1795.4,1008.4 1797.4,1020.3 1799.4,1014.2 1801.4,1025.7 1803.4,1017.4 1805.4,1028.5 1807.4,1012.9 1809.4,1031.3 1811.4,1020.5 1813.4,1026.0 1815.4,1008.5 1817.4,1004.6 1819.4,1024.5 1821.4,1004.9 1823.4,1013.0 1825.4,1014.7 1827.4,1008.0 1829.4,1016.0 1831.4,1006.2 1833.4,1007.2 1835.4,1023.5 1837.4,1008.9 1839.4,1024.4 1841.4,1024.7 1843.4,1033.3 1845.4,1025.7 1847.4,1006.8 1849.4,1018.2 1851.4,1019.1 1853.4,1032.4 1855.4,1024.4 1857.4,1018.2 1859.4,1022.1 1861.4,1015.7 1863.4,1021.8 1865.4,1017.8 1867.4,1026.1 1869.4,1022.5 1871.4,1028.9 1873.4,1020.1 1875.4,1025.6 1877.4,1020.5 1879.4,1023.6 1881.4,1020.6 1883.4,1020.4 1885.4,1019.9 1887.4,1020.9 1889.4,1025.8 1891.4,998.0 1893.4,1027.2 1895.4,996.4 1897.4,1016.7 1899.4,1016.2 1901.4,1020.7 1903.4,1016.6 1905.4,1016.0 1907.4,1016.1 1909.4,1023.5 1911.4,1037.9 1913.4,1020.7 1915.4,1000.3 1917.4,1016.1 1919.4,1023.6 1921.4,1049.5 1923.4,1011.2 1925.4,1013.7 1927.4,1020.3 1929.4,1018.9 1931.4,1003.7 1933.4,1022.1 1935.4,1004.2 1937.4,1016.1 1939.4,1029.8 1941.4,1007.3 1943.4,1017.0 1945.4,1033.5 1947.4,1017.4 1949.4,1012.0 1951.4,1015.8 1953.4,1026.4 1955.4,1007.1 1957.4,1013.9 1959.4,1006.4 1961.4,1005.7 1963.4,1026.1 1965.4,1018.0 1967.4,1014.5 1969.4,1021.0 1971.4,1011.7 1973.4,1006.0 1975.4,1026.7 1977.4,1024.4 1979.4,1012.5 1981.4,1023.0 1983.4,1030.0 1985.4,1021.0 1987.4,1020.4 1989.4,1008.4 1991.4,1016.5 1993.4,1000.3 1995.4,1029.9 1997.4,1018.6 1999.4,1030.0 2001.4,1013.3 2003.4,1024.4 2005.4,1004.7 2007.4,1013.3 2009.4,1020.3 2011.4,1018.4 2013.4,1018.1 2015.4,1005.2 2017.4,1032.8 2019.4,1028.3 2021.4,1030.0 2023.4,1029.9 2025.4,1016.4 2027.4,1020.8 2029.4,1043.5 2031.4,1014.2 2033.4,1022.5 2035.4,1014.3 2037.4,1031.4 2039.4,1016.8 2041.4,1012.7"/>
</g>
<g fill="none" stroke="#ff00ff" stroke-width="5.6" stroke-linejoin="round" stroke-linecap="round">
<polyline stroke-width="5.0" points="243,1160.0 250,1158.0 251.5,1154.9 253.2,1149.4 255.2,1141.5 257,1135.0 258.2,1129.0 258.8,1120.6 259.6,1118.3 260.9,1108.1 262.3,1102.8 262.9,1096.8 264.1,1092.7 265,1086.0 265.4,1078.3 265.5,1072.2 265.8,1065.3 266,1065.0 267.1,1053.5 266.6,1047.6 267.5,1045.6 267.2,1038.1 267.6,1031.6 268.5,1028.9 268.5,1021.5 269.3,1016.3 268.9,1007.1 270.1,1000.5 270.3,995.5 270.6,989.0 270.3,980.1 271,977.0 270.8,969.2 271.8,965.8 271.8,959.2 271.9,954.9 272.3,949.5 272.4,937.7 272.2,931.2 272.5,930.5 272.3,920.1 272.7,914.5 273.3,909.1 273.3,904.1 273.5,901.1 274,889.2 274.1,884.8 273.6,879.0 274.2,877.0 274.2,864.2 274.8,858.9 274.7,858.0 274.9,849.1 275.3,840.0 275.3,836.7 275.9,833.3 275.2,823.0 275.8,820.5 276,813.0 276.2,806.0 277,804.1 276.9,797.6 277.2,785.8 277.7,783.9 278.3,779.9 278.6,772.4 278.9,766.0 279.2,761.8 279.2,749.5 279.4,744.4 279.9,742.5 279.9,733.9 280.9,726.6 280.6,720.4 281,718.3 281.4,707.9 282,704.0 283.2,700.4 284,695.4 284.4,690.0 285.8,679.5 287,676.3 288.1,666.6 288.6,663.6 289.7,657.5 290.8,650.0 291.3,646.2 292.7,640.0 294.7,638.8 297,632.0 299,624.8 301,618.7 301.5,613.2 302.2,609.3 302.2,599.4 302.7,597.5 303,590.0 303.8,587.3 304,577.1 304.7,570.1 305.3,565.0 306,559.0 306.6,551.5 306.9,546.0 307.5,540.3 308.6,536.5 309,530.0 310,524.8 310.2,519.7 310.9,513.9 311.4,508.2 311.7,503.8 312.5,494.9 313,490.6 313.3,481.3 313.9,474.5 314.2,468.5 314.8,464.2 315.6,460.9 316.1,450.3 316.8,447.9 317,440.0 317.6,435.4 318.2,426.4 318.8,426.6 319.5,415.3 319.5,415.0 320.8,408.1 321,400.7 321.6,404.3 322,410.9 321.8,418.5 322.1,427.8 322.6,433.2 323.3,439.6 323.7,447.1 324,450.0 324.5,455.8 325,463.3 325.5,469.5 325.9,471.3 326.8,476.4 327.2,487.2 328,490.6 328.9,481.8 330.3,477.4 331,470.0 332.1,467.7 333.2,458.3 334,455.0 334.5,449.8 336,446.2 336.4,439.4 337.6,433.0 338.5,436.7 338.4,443.3 339.1,452.6 339.6,457.3 340,460.0 340.8,465.5 341.2,470.3 342,477.0 343.5,469.3 344.2,464.0 345.8,460.6 346.5,465.3 346.7,470.7 347.2,477.0 348.5,482.7 348.8,485.4 349.2,491.4 350,500.0 350.4,508.9 351.8,514.9 352.1,518.0 353.6,524.7 354,531.5 354.8,528.8 354.4,519.2 355.4,512.7 355.6,506.8 355.9,498.5 356.8,499.4 357,490.0 357,486.3 357.8,474.1 357.7,471.4 358.2,463.6 358.7,462.1 359.2,451.0 360,449.5 360,440.0 360.5,431.8 361,428.3 361.3,424.6 361.5,419.2 361.9,411.4 362,406.0 362.2,409.2 362.3,420.7 362.4,425.8 363.2,427.9 363.3,437.1 363.8,441.2 363.8,450.4 363.7,452.1 364,460.0 364.1,467.0 364.1,474.4 364.3,479.6 364.5,483.7 365.2,489.5 365.1,494.4 365.1,498.3 365.4,507.0 365.3,510.9 365.5,517.7 365.7,527.3 366,531.0 368.3,538.4 370,540.0 371.3,549.1 372.7,556.2 374,559.0 374,566.7 374.6,570.8 375.1,578.9 375.4,581.3 375.3,589.0 375.3,596.4 376,600.0 376.6,605.0 377.1,614.0 377.8,617.3 377.7,624.9 378.5,627.0 379.4,635.6 380.6,639.7 381.9,641.1 382.6,650.0 382.7,653.8 382.7,661.0 383.8,666.4 383.3,677.3 383.9,680.1 384.4,688.6 384.2,690.3 384.7,700.9 385,704.5 386.7,707.5 387.8,714.5 389,720.0 390,724.1 390.1,727.8 391.3,734.4 391.4,740.5 392.6,744.9 392.7,754.7 393.5,759.0 393.6,765.2 394.2,766.9 394.8,774.9 394.8,785.0 395.7,787.0 395.7,789.6 396.4,797.0 396.6,805.2 397,810.0 397.9,813.9 398,824.5 398.6,828.2 399.3,833.1 400.1,843.8 401.2,845.9 401.7,854.0 406,860.0 406.7,865.8 407,870.7 408.2,874.9 408.4,882.3 408.9,891.1 410,895.0 411.2,902.2 412.5,909.5 413.9,913.0 415,920.0 416.6,924.8 418.4,927.7 420.7,936.0 421.8,930.9 422.6,927.2 423.2,921.9 424,915.0 425.1,924.4 425.3,930.4 426.2,931.7 427,940.0 427.8,946.4 429,954.5 429.6,959.7 430.4,960.5 431.1,970.6 432,975.0 433.2,982.1 433.6,987.9 435.4,990.4 436.2,996.1 437,1004.0 438.2,1013.6 438.7,1019.3 439.8,1026.2 441,1030.0 441.6,1037.5 442.7,1040.6 443.7,1049.4 445,1053.0 449,1060.0 450.7,1054.0 453,1050.0 453.6,1054.6 454.3,1064.2 455.3,1070.7 456,1075.0 457,1080.7 458.3,1082.8 460,1091.0"/>
<polyline id="a-m" points="460,1091.0 462,1084.1 464,1072.0 466,1068.3 468,1054.4 470,1075.0 472,1057.7 474,1071.6 476,1071.9 478,1066.0 480,1094.5 482,1066.2 484,1076.0 486,1083.2 488,1066.7 490,1085.5 492,1069.2 494,1080.9 496,1066.9 498,1066.0 500,1082.3 502,1079.4 504,1075.6 506,1082.8 508,1081.3 510,1068.7 512,1053.7 514,1060.0 516,1057.9 518,1052.1 520,1066.9 522,1073.0 524,1075.1 526,1073.8 528,1071.9 530,1071.5 532,1074.0 534,1068.4 536,1072.0 538,1078.0 540,1073.4 542,1073.0 544,1074.0 546,1085.7 548,1076.3 550,1071.8 552,1069.8 554,1074.5 556,1096.3 558,1046.8 560,1078.9 562,1077.0 564,1084.1 566,1066.7 568,1091.2 570,1083.1 572,1072.8 574,1074.3 576,1067.6 578,1075.2 580,1071.5 582,1083.1 584,1077.7 586,1076.8 588,1081.9 590,1085.3 592,1081.6 594,1065.8 596,1085.4 598,1063.8 600,1069.0 602,1074.3 604,1080.0 606,1089.6 608,1064.6 610,1090.9 612,1091.2 614,1075.0 616,1076.8 618,1071.4 620,1070.4 622,1065.9 624,1064.5 626,1073.6 628,1078.4 630,1092.5 632,1070.8 634,1060.8 636,1079.7 638,1076.8 640,1084.3 642,1079.9 644,1071.5 646,1076.7 648,1090.5 650,1084.7 652,1073.0 654,1088.3 656,1067.3 658,1076.8 660,1080.4 662,1067.2 664,1070.7 666,1078.7 668,1077.6 670,1077.1 672,1075.0 674,1067.7 676,1072.4 678,1105.6 680,1073.4 682,1091.8 684,1075.4 686,1090.8 688,1090.3 690,1082.9 692,1071.7 694,1063.1 696,1081.5 698,1062.2 700,1062.7 702,1083.2 704,1084.3 706,1074.3 708,1073.8 710,1070.2 712,1075.9 714,1073.4 716,1062.3 718,1068.1 720,1075.9 722,1058.3 724,1062.3 726,1072.1 728,1087.9 730,1074.1 732,1073.8 734,1090.9 736,1065.6 738,1066.3 740,1080.1 742,1081.1 744,1073.6 746,1045.1 748,1076.1 750,1075.3 752,1068.9 754,1075.2 756,1082.3 758,1069.9 760,1059.4 762,1050.8 764,1067.3 766,1059.4 768,1064.7 770,1058.3 772,1066.9 774,1067.9 776,1067.4 778,1054.5 780,1070.3 782,1064.0 784,1040.8 786,1067.4 788,1042.9 790,1050.4 792,1066.3 794,1064.0 796,1053.9 798,1053.1 800,1062.9 802,1045.4 804,1060.0 806,1053.7 808,1059.9 810,1051.6 812,1043.1 814,1055.8 816,1053.1 818,1045.6 820,1048.0 822,1049.3 824,1056.3 826,1061.1 828,1054.1 830,1043.0 832,1048.5 834,1056.6 836,1063.5 838,1045.3 840,1053.2 842,1050.6 844,1034.4 846,1039.9 848,1046.8 850,1044.1 852,1047.0 854,1045.5 856,1051.6 858,1042.6 860,1036.7 862,1056.9 864,1047.0 866,1058.9 868,1044.4 870,1062.8 872,1042.8 874,1044.1 876,1060.3 878,1067.3 880,1048.5 882,1069.7 884,1067.7 886,1060.4 888,1053.3 890,1032.1 892,1037.6 894,1045.1 896,1055.9 898,1051.1 900,1044.9 902,1051.9 904,1038.0 906,1054.5 908,1042.1 910,1058.0 912,1048.2 914,1041.7 916,1041.6 918,1031.4 920,1047.1 922,1038.2 924,1043.8 926,1050.8 928,1044.2 930,1043.1 932,1061.7 934,1046.0 936,1050.6 938,1038.0 940,1030.0 942,1041.7 944,1031.4 946,1015.2 948,1046.8 950,1040.3 952,1030.0 954,1048.9 956,1037.4 958,1034.3 960,1029.6 962,1046.1 964,1034.8 966,1035.4 968,1036.9 970,1034.1 972,1025.6 974,1033.3 976,1028.7 978,1042.3 980,1024.5 982,1039.9 984,1027.7 986,1024.5 988,1034.6 990,1034.1 992,1034.8 994,1039.1 996,1035.5 998,1018.7 1000,1025.3 1002,1044.5 1004,1028.5 1006,1006.1 1008,1026.3 1010,1042.5 1012,1038.1 1014,1029.0 1016,1030.6 1018,1033.2 1020,1024.4 1022,1024.8 1024,1040.2 1026,1022.8 1028,1033.2 1030,1012.7 1032,1018.2 1034,1011.6 1036,1021.7 1038,1012.7 1040,1014.4 1042,1014.0 1044,1021.2 1046,1026.9 1048,1015.1 1050,1023.8 1052,1017.0 1054,1010.1 1056,1017.4 1058,1027.2 1060,993.6 1062,1021.9 1064,1029.1 1066,1013.6 1068,1016.1 1070,1017.8 1072,1014.4 1074,1009.8 1076,1016.3 1078,1017.0 1080,1007.8 1082,1010.6 1084,999.8 1086,1005.5 1088,1004.2 1090,1002.7 1092,997.3 1094,1014.5 1096,1008.3 1098,1008.0 1100,990.4 1102,1000.1 1104,998.1 1106,1001.9 1108,1016.2 1110,1025.2 1112,1003.0 1114,1004.7 1116,1000.7 1118,997.0 1120,1006.3 1122,994.7 1124,989.4 1126,1003.0 1128,998.8 1130,1002.8 1132,1003.3 1134,1007.5 1136,1004.3 1138,1006.5 1140,997.4 1142,996.5 1144,1004.1 1146,1003.3 1148,1006.8 1150,1005.4 1152,1019.8 1154,1001.8 1156,1007.0 1158,1003.5 1160,1011.6 1162,994.8 1164,991.9 1166,1013.4 1168,1009.0 1170,1003.4 1172,995.3 1174,1012.1 1176,1003.0 1178,995.2 1180,992.8 1182,994.4 1184,1012.3 1186,998.4 1188,990.0 1190,994.7 1192,1007.6 1194,1002.0 1196,991.0 1198,986.5 1200,990.0 1202,998.4 1204,990.5 1206,989.9 1208,994.5 1210,987.6 1212,984.7 1214,979.2 1216,983.4 1218,985.0 1220,992.9 1222,991.7 1224,986.8 1226,1002.2 1228,983.0 1230,1000.6 1232,983.6 1234,989.5 1236,999.5 1238,999.8 1240,986.3 1242,993.0 1244,982.9 1246,990.3 1248,993.5 1250,986.5 1252,1004.4 1254,994.3 1256,995.9 1258,987.3 1260,990.1 1262,992.5 1264,997.6 1266,996.5 1268,990.2 1270,986.0 1272,983.8 1274,1011.3 1276,1003.0 1278,1007.0 1280,994.6 1282,1009.7 1284,995.6 1286,991.4 1288,986.2 1290,978.6 1292,994.3 1294,988.2 1296,987.5 1298,977.1 1300,972.3 1302,982.9 1304,1001.5 1306,1008.3 1308,986.8 1310,988.8 1312,977.6 1314,980.5 1316,992.4 1318,984.7 1320,990.3 1322,1000.3 1324,987.6 1326,975.8 1328,999.7 1330,991.2 1332,987.5 1334,989.8 1336,989.8 1338,996.5 1340,979.0 1342,988.4 1344,979.1 1346,988.6 1348,995.9 1350,988.6 1352,1003.6 1354,987.7 1356,985.3 1358,994.5 1360,992.3 1362,997.4 1364,992.2 1366,989.2 1368,998.3 1370,975.8 1372,993.8 1374,981.9 1376,986.1 1378,979.9 1380,997.6 1382,967.8 1384,977.8 1386,983.4 1388,993.3 1390,979.6 1392,991.6 1394,995.7 1396,979.7 1398,964.9 1400,993.1 1402,984.2 1404,985.8 1406,994.9 1408,994.0 1410,982.4 1412,985.9 1414,976.9 1416,987.1 1418,984.5 1420,990.4 1422,979.7 1424,987.3 1426,986.4 1428,993.9 1430,989.6 1432,970.9 1434,991.0 1436,978.8 1438,998.7 1440,989.0 1442,988.8 1444,983.5 1446,1004.1 1448,981.4 1450,999.8 1452,1001.8 1454,1019.2 1456,999.6 1458,987.5 1460,981.4 1462,984.7 1464,978.4 1466,1001.3 1468,992.4 1470,982.1 1472,994.1 1474,990.5 1476,997.2 1478,993.2 1480,984.2 1482,992.2 1484,997.5 1486,990.9 1488,990.4 1490,981.5 1492,988.0 1494,990.6 1496,994.8 1498,984.3 1500,985.4 1502,1008.8 1504,984.7 1506,990.1 1508,982.3 1510,989.5 1512,997.3 1514,998.1 1516,994.6 1518,1001.9 1520,993.1 1522,998.4 1524,986.1 1526,1004.5 1528,988.7 1530,1005.0 1532,985.5 1534,995.8 1536,996.8 1538,995.9 1540,992.2 1542,1011.8 1544,1003.8 1546,991.8 1548,994.7 1550,1007.7 1552,989.0 1554,1012.1 1556,994.5 1558,982.9 1560,1003.8 1562,991.7 1564,965.1 1566,1001.1 1568,989.9 1570,1002.9 1572,1004.4 1574,1006.8 1576,998.0 1578,985.5 1580,1010.6 1582,1000.7 1584,996.9 1586,987.2 1588,994.4 1590,1001.4 1592,999.2 1594,1001.4 1596,992.7 1598,986.9 1600,1003.9 1602,999.1 1604,1009.0 1606,1014.3 1608,1002.5 1610,1000.5 1612,1016.3 1614,1011.6 1616,1000.0 1618,1023.3 1620,1008.3 1622,1003.6 1624,992.8 1626,1000.4 1628,1010.1 1630,1011.5 1632,1021.4 1634,1016.0 1636,1000.2 1638,1003.3 1640,1001.2 1642,998.5 1644,1002.3 1646,1000.8 1648,1002.1 1650,1009.6 1652,1010.6 1654,1018.1 1656,999.9 1658,1000.6 1660,977.4 1662,1005.4 1664,1008.8 1666,1004.2 1668,1007.0 1670,998.8 1672,999.3 1674,993.6 1676,998.9 1678,991.9 1680,1016.2 1682,1014.1 1684,1008.3 1686,1005.6 1688,1021.3 1690,1009.6 1692,1000.5 1694,1008.1 1696,1009.7 1698,1009.6 1700,1006.8 1702,991.0 1704,1000.3 1706,987.9 1708,1008.4 1710,1003.0 1712,995.7 1714,1026.4 1716,1017.7 1718,1004.2 1720,1013.9 1722,1004.9 1724,1017.3 1726,1013.5 1728,1002.3 1730,1012.1 1732,1025.4 1734,1016.7 1736,999.0 1738,1010.5 1740,1016.3 1742,1011.7 1744,1018.5 1746,1005.7 1748,986.0 1750,1020.8 1752,996.8 1754,1006.1 1756,993.6 1758,1012.1 1760,997.6 1762,1007.0 1764,1010.2 1766,1021.9 1768,1029.0 1770,1018.9 1772,1019.6 1774,1009.6 1776,1010.6 1778,1002.6 1780,1011.0 1782,993.1 1784,1017.3 1786,1010.2 1788,1010.8 1790,1021.3 1792,995.4 1794,1003.0 1796,1014.9 1798,1004.4 1800,1011.0 1802,1004.7 1804,1001.6 1806,1014.3 1808,1011.4 1810,1014.0 1812,1012.6 1814,1027.1 1816,1000.8 1818,1004.5 1820,1021.5 1822,1002.0 1824,1008.7 1826,1016.0 1828,1008.0 1830,1009.2 1832,1005.1 1834,990.2 1836,1012.0 1838,1014.0 1840,1010.6 1842,1004.2 1844,1010.9 1846,1017.1 1848,1006.5 1850,1005.4 1852,1000.4 1854,1010.8 1856,998.2 1858,1003.9 1860,1021.3 1862,990.2 1864,1002.3 1866,1014.1 1868,1003.2 1870,1016.6 1872,997.4 1874,1001.7 1876,1019.3 1878,998.5 1880,1009.1 1882,1004.7 1884,1017.9 1886,996.4 1888,1007.2 1890,1014.3 1892,1018.1 1894,1012.0 1896,1015.7 1898,1003.2 1900,1023.5 1902,1013.5 1904,1014.3 1906,1023.8 1908,1009.6 1910,1007.7 1912,1014.1 1914,1017.7 1916,994.4 1918,993.4 1920,1010.8 1922,1006.2 1924,1006.8 1926,1026.4 1928,1006.8 1930,1006.3 1932,1016.2 1934,1002.8 1936,1011.2 1938,1007.0 1940,1013.6 1942,1011.6 1944,997.9 1946,1006.1 1948,1003.9 1950,998.9 1952,1011.5 1954,1004.5 1956,999.7 1958,995.6 1960,1006.1 1962,998.1 1964,1009.6 1966,1014.5 1968,1002.9 1970,1001.1 1972,1004.6 1974,1012.4 1976,1000.4 1978,1012.3 1980,1007.3 1982,990.7 1984,1025.9 1986,1016.8 1988,1006.6 1990,1010.2 1992,1012.7 1994,1024.6 1996,1008.4 1998,1011.5 2000,1005.6 2002,1002.0 2004,1008.6 2006,1009.9 2008,1002.1 2010,1030.5 2012,985.5 2014,1022.4 2016,1000.5 2018,1002.9 2020,1015.8 2022,1021.3 2024,1024.0 2026,998.1 2028,1026.6 2030,999.8 2032,1011.0 2034,1019.6 2036,1008.4 2038,1007.8 2040,1012.5 2042,1008.0"/>
</g>
</g>
<g font-size="54" font-weight="bold">
<text x="1654.0" y="201.2">PA6/PK</text>
<text x="1658.6" y="270.7" letter-spacing="0.4">100/0</text>
<text x="1658.6" y="338.5" letter-spacing="0.4">99/1</text>
<text x="1658.6" y="406.2" letter-spacing="0.4">97/3</text>
<text x="1658.6" y="473.8" letter-spacing="0.4">95/5</text>
<text x="1658.6" y="541.5" letter-spacing="0.4">90/10</text>
</g>
<line x1="1505.9" y1="251.7" x2="1632.0" y2="251.7" stroke="#000000" stroke-width="4.1"/>
<line x1="1508.4" y1="319.4" x2="1629.5" y2="319.4" stroke="#ff0000" stroke-width="5.1" stroke-linecap="round"/>
<line x1="1508.4" y1="387.1" x2="1629.5" y2="387.1" stroke="#00ff00" stroke-width="5.1" stroke-linecap="round"/>
<line x1="1505.9" y1="454.9" x2="1632.0" y2="454.9" stroke="#0000ff" stroke-width="4.1"/>
<line x1="1508.4" y1="522.9" x2="1629.5" y2="522.9" stroke="#ff00ff" stroke-width="5.1" stroke-linecap="round"/>
<text x="1200" y="1817.3" font-size="85" text-anchor="middle">(<tspan font-weight="bold" dx="-1">a</tspan><tspan dx="-1.5">)</tspan></text>
</g>
<g id="chart-b">
<rect x="266.5" y="2054.6" width="1862.5" height="1339.8" fill="none" stroke="#000" stroke-width="9.0" stroke-linejoin="round"/>
<path d="M500.0 3394.4V3375.0M732.6 3394.4V3375.0M965.2 3394.4V3375.0M1197.8 3394.4V3375.0M1430.4 3394.4V3375.0M1663.1 3394.4V3375.0M1895.7 3394.4V3375.0" fill="none" stroke="#000" stroke-width="9.0" stroke-linecap="round"/>
<path d="M266.5 2322.6H286.9M266.5 2590.5H286.9M266.5 2858.5H286.9M266.5 3126.4H286.9" fill="none" stroke="#000" stroke-width="7.9" stroke-linecap="round"/>
<g font-size="64.6" font-weight="bold">
<text x="235.3" y="2075.9" text-anchor="end">20</text>
<text x="235.3" y="2343.9" text-anchor="end">15</text>
<text x="235.3" y="2611.8" text-anchor="end">10</text>
<text x="235.3" y="2879.8" text-anchor="end">5</text>
<text x="235.3" y="3147.7" text-anchor="end">0</text>
<text x="235.3" y="3415.7" text-anchor="end">-5</text>
<text x="267.4" y="3483.6" text-anchor="middle">0</text>
<text x="500.0" y="3483.6" text-anchor="middle">2</text>
<text x="732.6" y="3483.6" text-anchor="middle">4</text>
<text x="965.2" y="3483.6" text-anchor="middle">6</text>
<text x="1197.8" y="3483.6" text-anchor="middle">8</text>
<text x="1430.4" y="3483.6" text-anchor="middle">10</text>
<text x="1663.1" y="3483.6" text-anchor="middle">12</text>
<text x="1895.7" y="3483.6" text-anchor="middle">14</text>
<text x="2128.3" y="3483.6" text-anchor="middle">16</text>
</g>
<text transform="translate(107.7 2723.8) rotate(-90)" font-size="73.1" font-weight="bold" text-anchor="middle" letter-spacing="0">Torque (N.m)</text>
<text x="1197.8" y="3612.0" font-size="73.65" font-weight="bold" text-anchor="middle" letter-spacing="0">Mixing Time (min)</text>
<g shape-rendering="crispEdges">
<g fill="none" stroke="#000000" stroke-width="5.0" stroke-linejoin="round" stroke-linecap="round">
<polyline stroke-width="5.4" points="267,3090.0 272,3088.0 274.3,3078.7 277.3,3080.8 280,3074.0 281.9,3069.2 283.4,3064.5 286,3060.0 286.7,3057.4 286.6,3044.2 286.9,3045.4 286.2,3037.3 286.1,3026.3 286.6,3020.7 287.3,3021.1 287,3010.3 286.8,3002.0 287.7,3001.0 287,2993.8 287.6,2991.3 288.1,2983.0 288,2976.0 288.1,2974.5 288.7,2962.8 287.8,2961.3 287.6,2951.3 287.7,2945.0 287.7,2938.9 288.6,2939.0 288.7,2929.8 288.5,2922.1 288,2916.9 288.7,2907.5 287.9,2908.4 288.5,2900.0 288.3,2896.0 288.9,2892.4 288.5,2881.0 289,2879.0 288.9,2873.5 288.9,2869.0 288.6,2861.0 289.4,2851.2 289,2845.6 288.9,2837.0 288.4,2837.6 288.9,2830.4 289.3,2822.6 288.9,2814.3 289.5,2814.8 289.4,2809.3 289.4,2801.7 288.9,2796.4 289.1,2787.4 289.1,2782.7 289.5,2776.9 289.2,2767.6 289.8,2762.5 289.4,2754.6 289.5,2752.6 291.3,2743.2 293.6,2741.7 294.5,2750.5 296.4,2756.4 297,2762.0 298.2,2756.5 300,2748.0 301.3,2756.4 302.3,2762.4 303.3,2761.7 304.5,2769.0 305.1,2778.5 306,2779.8 306.4,2786.7 307,2790.7 311,2786.0 314,2792.0 315.9,2787.8 318,2782.6 319.6,2792.6 320.4,2790.6 321,2800.0 322.4,2804.7 323.6,2812.0 324.4,2804.2 324.8,2797.5 324.5,2798.4 325.1,2792.1 325.4,2779.4 325.9,2776.2 326,2770.0 326.5,2760.8 326.6,2762.8 328,2757.5 327.8,2743.0 328.6,2743.9 329,2736.0 329.7,2737.2 329.7,2749.0 330,2755.8 331.6,2755.6 331,2768.1 332,2769.0 332.9,2762.8 333.2,2761.4 333.6,2747.3 334.5,2744.0 335,2740.0 336.9,2739.3 338.2,2727.6 340,2725.0 339.6,2734.0 339.7,2740.9 340.6,2746.3 340.8,2745.1 340.2,2758.3 340.4,2762.4 340.4,2763.5 341.1,2768.7 341.3,2780.6 340.9,2780.8 340.7,2787.7 340.9,2794.9 341.5,2800.0 341.8,2806.6 341.7,2812.7 342.1,2818.0 342.1,2822.2 341.3,2826.8 342.1,2832.8 342.1,2845.1 341.9,2843.7 342,2851.9 342.4,2856.3 341.7,2864.7 342,2867.8 341.9,2878.3 342.1,2878.3 342.1,2887.6 342.1,2889.8 342,2904.6 342.8,2910.4 342.6,2911.4 342.9,2916.0 342.5,2924.7 342.4,2927.3 342.3,2937.0 342.3,2940.0 342.6,2947.4 342.5,2939.8 343.1,2936.0 342.1,2932.0 342.8,2926.5 342.8,2916.1 343.2,2908.9 342.6,2906.0 343.4,2896.5 342.8,2894.6 343.2,2884.6 343.3,2883.1 343.1,2875.5 342.9,2874.5 343.8,2861.7 342.9,2860.6 343.6,2856.2 343,2844.4 342.8,2840.1 343.4,2839.0 342.8,2825.5 343.6,2825.2 343,2813.8 343,2813.2 343.3,2803.4 343.6,2800.0 343.9,2790.2 343.8,2783.8 343.3,2783.2 344.2,2775.0 343.8,2771.2 343.5,2761.0 344.6,2761.2 343.6,2746.0 344.6,2744.2 344.6,2739.8 344.3,2734.3 344.6,2721.5 344.5,2723.7 344.9,2715.3 344.8,2710.7 344.5,2700.5 344.8,2695.4 345.3,2704.9 345.2,2705.0 345.5,2713.9 345.6,2722.1 346.8,2725.7 347.2,2732.9 347,2740.0 347.8,2750.6 348.9,2752.1 349.7,2757.7 350.5,2761.3 351,2770.0 350.8,2764.7 351.6,2757.2 351.4,2755.5 351.6,2749.6 352.2,2736.8 353.2,2737.1 353.2,2730.8 352.8,2723.6 353.5,2714.0 353.8,2717.8 354,2721.7 354.4,2732.6 353.8,2734.3 354.2,2742.5 354.3,2746.6 354.9,2750.9 355,2760.0 355.6,2765.8 355.5,2773.3 355.4,2782.6 355.7,2785.6 357,2788.0 357,2802.3 357,2804.0 358.6,2809.5 359,2818.0 359.7,2815.9 360.1,2808.9 360.7,2794.6 360.8,2796.4 361.5,2785.7 362,2780.0 362.2,2770.4 363,2766.2 363.7,2756.5 364,2750.6 364.4,2747.7 364.4,2741.7 365.2,2746.9 365,2757.3 366.1,2755.9 366.6,2761.6 367,2770.0 370,2765.0 370.3,2771.5 370.9,2772.4 370.7,2781.3 371.5,2790.7 371.9,2795.8 372.1,2795.4 372.6,2804.0 372.7,2793.8 373.1,2794.0 374,2784.5 374.1,2783.8 374.4,2780.1 374.5,2770.0 375.1,2763.7 375.6,2753.7 375.6,2752.7 376.7,2747.0 376.8,2749.4 377,2760.1 377.5,2763.7 378,2766.3 378.4,2778.2 378.1,2784.2 379,2789.7 378.9,2796.1 379,2800.0 379.7,2810.0 379.1,2807.9 379.3,2817.4 379.5,2824.5 380.5,2828.1 380.1,2840.5 380,2842.1 380.7,2852.4 380.8,2856.0 381.8,2847.7 382.4,2843.4 382,2834.7 382.9,2835.0 382.9,2823.3 384,2820.0 385,2817.3 384.8,2804.1 386,2805.3 385.9,2796.9 386.6,2791.8 387.6,2785.0 387.4,2787.1 388.2,2800.5 387.9,2798.0 388.4,2810.5 388.8,2810.9 389.3,2822.2 389.4,2824.1 390,2830.0 390.5,2835.0 391.1,2842.9 391.7,2845.0 392.4,2838.4 393.5,2835.2 395,2825.0 395.8,2824.5 396.9,2811.7 398.1,2807.3 398.5,2804.0 398.9,2812.3 398.5,2812.5 399.2,2819.9 399.3,2824.8 399.6,2837.4 400,2838.1 400,2841.3 400.5,2850.0 400.6,2859.7 401.7,2858.8 401.4,2868.8 402,2871.1 401.7,2882.8 402.6,2886.0 402.4,2879.3 403.4,2876.3 403.2,2871.6 404.1,2862.8 404.2,2857.5 403.9,2856.2 404.6,2842.3 404.5,2840.0 405.1,2833.3 405.6,2831.5 406,2824.5 406.7,2818.0 406.7,2823.5 407.8,2832.3 407.5,2833.9 408.1,2841.8 408.9,2846.0 409.2,2851.5 409,2860.0 409.8,2870.0 409.5,2872.5 410.6,2878.7 410.8,2886.0 410.7,2882.6 411.5,2871.0 411.4,2868.2 412,2865.0 412.2,2851.4 413,2850.0 414.4,2842.7 414.9,2837.0 415.8,2843.8 416.2,2853.5 415.7,2853.3 416.3,2866.0 417.3,2871.8 418.1,2876.7 418,2880.0 419.4,2890.9 420.1,2896.4 421,2900.0 422.2,2905.1 422,2912.4 422.5,2914.4 423.6,2924.5 424.4,2927.0 424.1,2919.4 424.7,2916.8 425.6,2909.2 425.9,2902.8 425.7,2895.9 425.6,2895.5 426.4,2883.6 426.5,2880.0 426.9,2872.8 426.6,2869.4 427.9,2862.3 427.4,2854.2 427.8,2845.6 428.5,2842.5 428.5,2852.2 429.4,2857.2 429.8,2856.5 429.2,2861.9 429.2,2873.5 429.9,2878.8 430.7,2882.0 430.5,2890.0 430.6,2899.4 430.8,2906.7 431.6,2904.4 431.8,2911.2 432.6,2921.5 433.8,2911.7 433.7,2911.6 435,2905.0 438,2899.7 438.4,2904.4 439.8,2911.6 440.5,2916.6 441,2925.0 441.4,2926.9 443.1,2933.4 443.5,2943.0 445.2,2934.2 448,2932.0 450.5,2928.6 453,2921.5 453.3,2928.8 453.7,2936.1 454.1,2936.8 454.2,2950.8 454.6,2953.9 454.6,2960.0 455.6,2961.2 455.7,2970.6 460,2966.0 465.3,2962.0 466.4,2967.0 466.2,2975.7 467.4,2983.2 467.5,2981.7 468,2992.0 469.3,2987.5 471.1,2977.8 472,2975.0 476,2970.6 477,2978.4 478.2,2979.2 479,2990.0 481.6,2997.8 486.2,2999.5 489.8,3008.7 491.3,3017.8 492,3020.0 493.1,3025.7 493.8,3029.6 495,3036.0"/>
<polyline id="b-k" points="495,3036.0 496,3035.9 497,3040.8 498,3034.6 499,3034.8 500,3035.5 501,3035.8 502,3037.4 503,3034.5 504,3034.4 505,3033.9 506,3038.3 507,3035.3 508,3037.7 509,3031.7 510,3032.4 511,3040.8 512,3033.4 513,3032.6 514,3042.0 515,3033.5 516,3037.0 517,3035.0 518,3034.1 519,3031.3 520,3038.1 521,3030.1 522,3026.7 523,3031.8 524,3034.7 525,3038.5 526,3044.4 527,3036.6 528,3028.1 529,3031.7 530,3036.3 531,3032.4 532,3034.3 533,3037.8 534,3027.6 535,3033.5 536,3037.7 537,3033.3 538,3033.9 539,3031.0 540,3043.0 541,3034.4 542,3026.8 543,3033.4 544,3036.9 545,3037.0 546,3037.6 547,3036.3 548,3034.9 549,3038.0 550,3032.8 551,3035.6 552,3027.9 553,3028.9 554,3031.8 555,3032.1 556,3037.8 557,3033.0 558,3034.6 559,3035.5 560,3030.1 561,3024.0 562,3029.2 563,3030.3 564,3033.3 565,3031.4 566,3038.8 567,3037.7 568,3037.0 569,3040.9 570,3037.2 571,3043.6 572,3046.0 573,3035.5 574,3045.4 575,3028.2 576,3031.7 577,3037.3 578,3037.5 579,3039.7 580,3036.2 581,3032.3 582,3027.5 583,3036.8 584,3044.4 585,3030.1 586,3032.1 587,3034.6 588,3041.8 589,3027.7 590,3041.5 591,3033.0 592,3036.9 593,3042.9 594,3029.6 595,3038.0 596,3031.9 597,3038.1 598,3039.7 599,3037.6 600,3040.1 601,3033.5 602,3031.1 603,3034.8 604,3041.2 605,3040.0 606,3038.0 607,3042.0 608,3030.0 609,3034.6 610,3039.6 611,3037.7 612,3039.3 613,3035.0 614,3035.3 615,3034.4 616,3035.3 617,3041.1 618,3034.3 619,3029.4 620,3034.9 621,3039.7 622,3040.4 623,3037.2 624,3039.3 625,3031.3 626,3041.3 627,3034.1 628,3035.6 629,3035.9 630,3039.7 631,3046.9 632,3041.2 633,3037.5 634,3037.7 635,3044.1 636,3040.0 637,3030.0 638,3031.4 639,3034.4 640,3035.6 641,3035.3 642,3039.6 643,3028.2 644,3035.4 645,3034.8 646,3041.3 647,3038.5 648,3038.9 649,3038.1 650,3040.8 651,3040.1 652,3042.0 653,3037.9 654,3038.2 655,3044.3 656,3037.8 657,3039.1 658,3042.0 659,3032.6 660,3031.7 661,3039.3 662,3039.4 663,3036.6 664,3039.5 665,3034.8 666,3037.5 667,3037.6 668,3034.9 669,3035.7 670,3037.5 671,3027.9 672,3038.2 673,3037.6 674,3034.2 675,3044.6 676,3042.3 677,3048.9 678,3039.3 679,3038.8 680,3040.3 681,3043.8 682,3047.1 683,3039.4 684,3033.4 685,3033.5 686,3035.0 687,3035.5 688,3032.7 689,3040.2 690,3040.6 691,3038.4 692,3039.6 693,3043.8 694,3035.0 695,3033.7 696,3038.9 697,3038.2 698,3037.5 699,3037.9 700,3037.3 701,3046.9 702,3043.8 703,3039.5 704,3050.4 705,3039.9 706,3037.5 707,3042.9 708,3036.3 709,3034.8 710,3040.6 711,3038.7 712,3039.2 713,3038.1 714,3033.1 715,3040.0 716,3041.9 717,3036.4 718,3040.2 719,3035.4 720,3041.1 721,3041.7 722,3042.8 723,3034.9 724,3035.9 725,3042.5 726,3042.8 727,3036.3 728,3051.8 729,3048.3 730,3044.8 731,3041.7 732,3040.9 733,3034.1 734,3039.1 735,3038.6 736,3045.1 737,3036.6 738,3047.6 739,3042.5 740,3041.6 741,3034.6 742,3033.2 743,3038.2 744,3036.9 745,3038.3 746,3039.9 747,3035.6 748,3044.2 749,3041.1 750,3040.0 751,3042.3 752,3036.9 753,3043.0 754,3045.0 755,3041.5 756,3046.1 757,3041.9 758,3041.4 759,3037.4 760,3036.3 761,3036.4 762,3047.7 763,3046.8 764,3037.4 765,3038.3 766,3041.6 767,3038.8 768,3034.0 769,3035.4 770,3049.1 771,3043.9 772,3035.2 773,3043.3 774,3033.0 775,3030.9 776,3044.2 777,3034.6 778,3026.6 779,3035.4 780,3033.7 781,3031.0 782,3032.9 783,3036.6 784,3033.1 785,3039.7 786,3042.9 787,3038.6 788,3041.0 789,3042.6 790,3044.7 791,3049.1 792,3042.4 793,3047.7 794,3042.7 795,3041.3 796,3039.3 797,3042.0 798,3044.9 799,3040.7 800,3044.2 801,3036.9 802,3047.2 803,3042.1 804,3043.5 805,3047.4 806,3052.3 807,3050.1 808,3040.9 809,3048.8 810,3050.0 811,3046.9 812,3045.3 813,3045.5 814,3040.6 815,3043.1 816,3043.2 817,3043.6 818,3048.7 819,3042.6 820,3039.6 821,3039.3 822,3043.8 823,3038.9 824,3036.8 825,3037.2 826,3046.7 827,3049.6 828,3037.0 829,3040.6 830,3045.6 831,3045.8 832,3028.0 833,3040.4 834,3043.3 835,3036.1 836,3066.5 837,3040.3 838,3046.1 839,3042.2 840,3045.0 841,3056.5 842,3046.2 843,3046.8 844,3050.1 845,3047.9 846,3048.7 847,3052.4 848,3046.0 849,3043.5 850,3038.7 851,3055.4 852,3049.9 853,3043.4 854,3055.9 855,3051.0 856,3036.7 857,3047.5 858,3044.6 859,3042.4 860,3036.9 861,3049.3 862,3039.1 863,3050.6 864,3044.0 865,3052.4 866,3042.5 867,3047.9 868,3050.4 869,3051.3 870,3044.9 871,3043.1 872,3040.7 873,3040.0 874,3038.7 875,3043.3 876,3045.8 877,3048.5 878,3041.5 879,3048.7 880,3047.9 881,3045.7 882,3045.1 883,3053.2 884,3046.4 885,3043.4 886,3042.9 887,3053.8 888,3047.5 889,3044.8 890,3049.5 891,3055.3 892,3049.7 893,3045.5 894,3050.0 895,3049.0 896,3047.9 897,3042.9 898,3049.7 899,3043.0 900,3043.3 901,3045.0 902,3041.1 903,3041.0 904,3044.4 905,3038.2 906,3043.7 907,3048.3 908,3041.1 909,3043.3 910,3046.0 911,3042.4 912,3040.8 913,3048.9 914,3042.2 915,3044.8 916,3044.7 917,3043.4 918,3051.5 919,3047.4 920,3048.5 921,3057.6 922,3057.1 923,3053.2 924,3044.6 925,3040.2 926,3038.6 927,3047.3 928,3046.8 929,3048.1 930,3044.3 931,3041.5 932,3043.6 933,3045.5 934,3044.4 935,3044.2 936,3053.6 937,3044.1 938,3041.4 939,3047.5 940,3040.4 941,3043.4 942,3044.1 943,3052.8 944,3042.0 945,3046.2 946,3048.6 947,3051.9 948,3050.3 949,3046.7 950,3044.4 951,3048.7 952,3047.9 953,3040.7 954,3054.3 955,3053.4 956,3047.1 957,3055.4 958,3048.0 959,3044.7 960,3044.5 961,3044.9 962,3040.5 963,3046.0 964,3048.2 965,3045.0 966,3044.7 967,3041.0 968,3048.2 969,3047.6 970,3047.0 971,3047.8 972,3047.1 973,3040.0 974,3041.7 975,3030.4 976,3045.9 977,3048.0 978,3044.1 979,3046.6 980,3050.2 981,3050.1 982,3047.5 983,3041.8 984,3043.3 985,3043.6 986,3048.8 987,3045.6 988,3047.4 989,3034.2 990,3039.1 991,3041.3 992,3038.4 993,3047.8 994,3052.2 995,3044.4 996,3046.2 997,3046.9 998,3044.2 999,3049.4 1000,3047.7 1001,3046.4 1002,3050.4 1003,3055.6 1004,3048.4 1005,3047.8 1006,3047.3 1007,3054.7 1008,3045.1 1009,3048.9 1010,3046.6 1011,3055.1 1012,3053.5 1013,3050.2 1014,3048.7 1015,3051.2 1016,3049.6 1017,3046.7 1018,3051.9 1019,3052.9 1020,3053.5 1021,3047.2 1022,3045.4 1023,3047.6 1024,3045.0 1025,3043.4 1026,3048.9 1027,3043.2 1028,3048.0 1029,3045.3 1030,3046.7 1031,3043.1 1032,3042.0 1033,3043.8 1034,3044.1 1035,3037.4 1036,3054.7 1037,3046.9 1038,3046.8 1039,3048.9 1040,3048.7 1041,3048.2 1042,3049.9 1043,3035.7 1044,3044.8 1045,3048.7 1046,3046.0 1047,3044.6 1048,3042.8 1049,3053.7 1050,3059.8 1051,3053.4 1052,3042.6 1053,3049.8 1054,3039.4 1055,3043.1 1056,3048.7 1057,3045.6 1058,3046.6 1059,3044.5 1060,3049.7 1061,3044.5 1062,3039.3 1063,3038.1 1064,3037.8 1065,3048.7 1066,3051.4 1067,3047.6 1068,3047.6 1069,3046.3 1070,3039.6 1071,3041.4 1072,3046.4 1073,3036.1 1074,3049.4 1075,3046.8 1076,3040.2 1077,3039.9 1078,3051.6 1079,3039.2 1080,3048.2 1081,3044.8 1082,3046.4 1083,3047.9 1084,3043.7 1085,3049.2 1086,3045.8 1087,3047.5 1088,3041.8 1089,3038.6 1090,3038.7 1091,3050.5 1092,3039.1 1093,3039.7 1094,3047.3 1095,3057.0 1096,3047.9 1097,3045.5 1098,3041.2 1099,3043.8 1100,3045.5 1101,3043.8 1102,3044.7 1103,3062.8 1104,3040.7 1105,3047.8 1106,3041.6 1107,3044.5 1108,3051.2 1109,3044.7 1110,3043.8 1111,3039.2 1112,3046.4 1113,3046.7 1114,3049.3 1115,3053.3 1116,3046.7 1117,3042.0 1118,3045.5 1119,3040.8 1120,3051.1 1121,3057.3 1122,3045.2 1123,3048.5 1124,3059.0 1125,3052.7 1126,3040.4 1127,3044.8 1128,3042.1 1129,3047.4 1130,3047.1 1131,3052.8 1132,3046.2 1133,3048.1 1134,3051.2 1135,3046.1 1136,3046.2 1137,3054.3 1138,3045.4 1139,3047.4 1140,3045.7 1141,3037.4 1142,3045.7 1143,3041.3 1144,3048.8 1145,3040.6 1146,3043.3 1147,3047.4 1148,3042.7 1149,3041.4 1150,3046.2 1151,3045.0 1152,3044.5 1153,3036.7 1154,3041.7 1155,3045.3 1156,3046.6 1157,3034.8 1158,3042.4 1159,3044.0 1160,3048.9 1161,3042.7 1162,3045.4 1163,3048.7 1164,3049.7 1165,3034.5 1166,3044.5 1167,3046.8 1168,3040.4 1169,3039.3 1170,3043.3 1171,3055.6 1172,3042.5 1173,3037.6 1174,3045.5 1175,3044.1 1176,3043.8 1177,3029.9 1178,3043.8 1179,3043.4 1180,3044.6 1181,3038.4 1182,3045.9 1183,3052.3 1184,3053.9 1185,3045.5 1186,3048.5 1187,3042.1 1188,3047.9 1189,3048.8 1190,3050.6 1191,3045.7 1192,3042.8 1193,3049.5 1194,3042.8 1195,3046.0 1196,3045.2 1197,3045.7 1198,3046.5 1199,3045.4 1200,3049.1 1201,3047.1 1202,3049.3 1203,3047.4 1204,3042.8 1205,3045.8 1206,3045.5 1207,3038.1 1208,3041.8 1209,3043.5 1210,3048.0 1211,3041.9 1212,3041.3 1213,3048.7 1214,3042.9 1215,3043.2 1216,3042.5 1217,3041.3 1218,3040.1 1219,3039.7 1220,3041.5 1221,3043.6 1222,3038.8 1223,3049.9 1224,3053.4 1225,3048.3 1226,3046.3 1227,3052.0 1228,3053.7 1229,3045.7 1230,3045.0 1231,3039.3 1232,3036.2 1233,3039.6 1234,3034.9 1235,3046.2 1236,3034.2 1237,3039.6 1238,3039.6 1239,3044.2 1240,3046.3 1241,3039.9 1242,3046.8 1243,3042.6 1244,3043.8 1245,3045.5 1246,3046.5 1247,3047.4 1248,3043.8 1249,3055.3 1250,3043.4 1251,3042.1 1252,3041.6 1253,3041.8 1254,3034.6 1255,3041.4 1256,3045.3 1257,3047.5 1258,3035.5 1259,3042.1 1260,3041.4 1261,3042.9 1262,3043.4 1263,3043.8 1264,3045.2 1265,3048.9 1266,3048.8 1267,3042.9 1268,3044.4 1269,3039.9 1270,3049.1 1271,3042.5 1272,3035.0 1273,3033.6 1274,3036.3 1275,3042.9 1276,3040.1 1277,3038.7 1278,3039.2 1279,3050.4 1280,3048.0 1281,3043.9 1282,3038.7 1283,3040.7 1284,3030.8 1285,3035.4 1286,3034.5 1287,3035.7 1288,3043.7 1289,3034.3 1290,3047.6 1291,3045.1 1292,3039.3 1293,3033.8 1294,3048.8 1295,3043.4 1296,3043.0 1297,3040.1 1298,3033.3 1299,3035.1 1300,3038.1 1301,3037.1 1302,3038.7 1303,3041.7 1304,3043.7 1305,3042.1 1306,3037.3 1307,3049.8 1308,3048.1 1309,3048.5 1310,3038.6 1311,3046.0 1312,3042.5 1313,3041.0 1314,3045.7 1315,3060.6 1316,3051.0 1317,3048.9 1318,3052.4 1319,3046.8 1320,3040.2 1321,3039.7 1322,3035.9 1323,3039.7 1324,3041.8 1325,3042.7 1326,3047.3 1327,3045.8 1328,3039.8 1329,3041.9 1330,3040.0 1331,3040.4 1332,3043.5 1333,3042.4 1334,3042.3 1335,3049.1 1336,3027.7 1337,3040.2 1338,3041.8 1339,3044.8 1340,3038.9 1341,3039.6 1342,3038.3 1343,3044.1 1344,3036.1 1345,3042.9 1346,3045.7 1347,3048.0 1348,3043.2 1349,3052.8 1350,3038.6 1351,3045.7 1352,3051.7 1353,3049.4 1354,3043.6 1355,3045.3 1356,3045.6 1357,3046.2 1358,3045.8 1359,3037.1 1360,3044.2 1361,3041.3 1362,3047.7 1363,3042.7 1364,3045.5 1365,3049.8 1366,3052.6 1367,3044.2 1368,3046.7 1369,3040.0 1370,3036.7 1371,3045.8 1372,3047.8 1373,3045.6 1374,3039.4 1375,3040.3 1376,3041.9 1377,3034.6 1378,3050.4 1379,3036.7 1380,3041.8 1381,3043.4 1382,3040.2 1383,3034.5 1384,3039.8 1385,3036.1 1386,3038.5 1387,3041.3 1388,3046.1 1389,3031.7 1390,3042.1 1391,3038.6 1392,3037.9 1393,3042.1 1394,3039.2 1395,3044.7 1396,3046.0 1397,3045.8 1398,3047.1 1399,3051.7 1400,3038.4 1401,3043.6 1402,3037.6 1403,3043.2 1404,3035.5 1405,3039.6 1406,3043.6 1407,3034.6 1408,3034.1 1409,3037.9 1410,3041.8 1411,3044.9 1412,3040.8 1413,3049.4 1414,3043.3 1415,3039.3 1416,3038.9 1417,3040.3 1418,3035.9 1419,3039.5 1420,3041.4 1421,3037.7 1422,3038.7 1423,3033.0 1424,3037.0 1425,3043.1 1426,3043.6 1427,3041.3 1428,3043.7 1429,3042.6 1430,3033.2 1431,3042.4 1432,3039.5 1433,3044.0 1434,3040.9 1435,3039.9 1436,3044.8 1437,3051.6 1438,3035.4 1439,3044.1 1440,3047.6 1441,3045.4 1442,3041.5 1443,3037.5 1444,3038.1 1445,3043.0 1446,3033.0 1447,3036.6 1448,3034.6 1449,3037.8 1450,3046.3 1451,3035.3 1452,3027.1 1453,3041.3 1454,3038.4 1455,3033.7 1456,3041.6 1457,3036.3 1458,3029.2 1459,3038.7 1460,3034.4 1461,3031.1 1462,3042.6 1463,3033.0 1464,3049.4 1465,3042.8 1466,3045.9 1467,3043.2 1468,3046.8 1469,3047.7 1470,3037.3 1471,3041.2 1472,3038.7 1473,3040.4 1474,3033.3 1475,3042.3 1476,3033.1 1477,3032.1 1478,3038.5 1479,3036.1 1480,3034.8 1481,3040.9 1482,3038.9 1483,3039.6 1484,3039.4 1485,3042.3 1486,3042.6 1487,3043.5 1488,3043.9 1489,3043.5 1490,3041.7 1491,3041.9 1492,3041.4 1493,3042.5 1494,3042.8 1495,3044.8 1496,3043.0 1497,3039.7 1498,3031.9 1499,3039.5 1500,3034.8 1501,3038.6 1502,3037.9 1503,3033.8 1504,3036.9 1505,3033.7 1506,3031.7 1507,3029.5 1508,3040.1 1509,3039.0 1510,3037.3 1511,3038.0 1512,3036.1 1513,3040.3 1514,3032.5 1515,3032.4 1516,3039.7 1517,3035.8 1518,3032.6 1519,3043.3 1520,3045.0 1521,3040.9 1522,3036.3 1523,3034.6 1524,3033.6 1525,3040.8 1526,3044.5 1527,3026.4 1528,3034.8 1529,3038.0 1530,3039.5 1531,3038.0 1532,3038.0 1533,3041.7 1534,3038.7 1535,3037.7 1536,3040.3 1537,3034.9 1538,3034.7 1539,3038.8 1540,3031.9 1541,3035.9 1542,3045.2 1543,3038.5 1544,3039.0 1545,3041.4 1546,3037.1 1547,3043.9 1548,3047.9 1549,3040.9 1550,3039.7 1551,3040.1 1552,3038.3 1553,3044.7 1554,3043.7 1555,3043.8 1556,3042.7 1557,3046.6 1558,3037.6 1559,3040.2 1560,3038.5 1561,3042.0 1562,3040.1 1563,3039.9 1564,3040.3 1565,3036.8 1566,3038.7 1567,3037.0 1568,3040.8 1569,3040.0 1570,3039.5 1571,3039.4 1572,3036.4 1573,3039.1 1574,3034.8 1575,3048.3 1576,3044.0 1577,3038.9 1578,3036.5 1579,3035.7 1580,3044.2 1581,3031.9 1582,3039.9 1583,3035.8 1584,3044.9 1585,3037.2 1586,3040.4 1587,3034.8 1588,3033.7 1589,3039.6 1590,3030.1 1591,3039.0 1592,3029.5 1593,3036.3 1594,3036.3 1595,3042.3 1596,3049.3 1597,3041.1 1598,3043.5 1599,3039.4 1600,3035.5 1601,3038.2 1602,3039.3 1603,3032.7 1604,3037.4 1605,3040.6 1606,3032.1 1607,3039.6 1608,3043.2 1609,3050.1 1610,3040.5 1611,3037.9 1612,3037.6 1613,3039.2 1614,3035.1 1615,3046.6 1616,3039.5 1617,3037.9 1618,3041.6 1619,3036.1 1620,3030.1 1621,3035.6 1622,3036.3 1623,3039.2 1624,3040.9 1625,3045.3 1626,3037.5 1627,3041.3 1628,3044.2 1629,3040.1 1630,3038.9 1631,3035.0 1632,3038.5 1633,3039.3 1634,3045.0 1635,3033.6 1636,3031.8 1637,3033.8 1638,3033.4 1639,3033.9 1640,3039.9 1641,3044.4 1642,3043.1 1643,3042.9 1644,3043.6 1645,3036.2 1646,3040.4 1647,3045.7 1648,3047.3 1649,3045.8 1650,3044.0 1651,3044.6 1652,3039.7 1653,3032.4 1654,3036.2 1655,3036.3 1656,3037.2 1657,3035.0 1658,3036.9 1659,3034.9 1660,3036.5 1661,3027.6 1662,3030.4 1663,3040.6 1664,3039.9 1665,3033.2 1666,3042.2 1667,3033.1 1668,3032.2 1669,3035.6 1670,3034.0 1671,3034.9 1672,3038.4 1673,3047.1 1674,3044.8 1675,3036.6 1676,3030.3 1677,3039.5 1678,3037.6 1679,3044.3 1680,3033.2 1681,3038.1 1682,3046.6 1683,3039.7 1684,3024.9 1685,3029.3 1686,3035.2 1687,3034.3 1688,3034.4 1689,3034.0 1690,3033.8 1691,3032.0 1692,3035.9 1693,3036.5 1694,3035.6 1695,3032.1 1696,3027.7 1697,3033.8 1698,3030.0 1699,3036.3 1700,3034.4 1701,3026.8 1702,3032.9 1703,3036.1 1704,3040.5 1705,3025.9 1706,3038.6 1707,3037.4 1708,3031.5 1709,3031.4 1710,3036.4 1711,3029.9 1712,3033.3 1713,3037.5 1714,3036.2 1715,3037.3 1716,3039.5 1717,3045.7 1718,3037.9 1719,3042.7 1720,3034.0 1721,3041.5 1722,3034.3 1723,3027.6 1724,3037.7 1725,3039.8 1726,3039.4 1727,3027.3 1728,3045.1 1729,3029.0 1730,3030.1 1731,3025.7 1732,3030.2 1733,3033.6 1734,3035.4 1735,3039.3 1736,3047.0 1737,3036.8 1738,3027.5 1739,3034.8 1740,3040.3 1741,3040.2 1742,3037.3 1743,3030.6 1744,3029.3 1745,3035.6 1746,3039.8 1747,3038.4 1748,3034.7 1749,3033.1 1750,3041.8 1751,3036.2 1752,3029.8 1753,3028.4 1754,3030.0 1755,3035.7 1756,3039.9 1757,3029.3 1758,3031.5 1759,3032.4 1760,3035.0 1761,3032.5 1762,3034.6 1763,3033.1 1764,3038.7 1765,3036.8 1766,3033.5 1767,3037.1 1768,3036.7 1769,3037.5 1770,3031.5 1771,3040.0 1772,3032.1 1773,3039.6 1774,3037.0 1775,3036.6 1776,3040.8 1777,3031.1 1778,3036.6 1779,3041.4 1780,3036.7 1781,3034.3 1782,3036.7 1783,3029.9 1784,3029.3 1785,3033.6 1786,3044.9 1787,3039.1 1788,3028.9 1789,3037.0 1790,3030.7 1791,3029.8 1792,3036.5 1793,3034.9 1794,3033.2 1795,3032.2 1796,3037.3 1797,3027.7 1798,3028.4 1799,3023.5 1800,3025.2 1801,3026.1 1802,3027.8 1803,3033.0 1804,3035.4 1805,3029.6 1806,3033.8 1807,3036.2 1808,3036.8 1809,3034.5 1810,3030.5 1811,3039.2 1812,3035.5 1813,3034.5 1814,3028.6 1815,3026.2 1816,3030.3 1817,3026.0 1818,3042.7 1819,3028.8 1820,3026.8 1821,3027.5 1822,3029.6 1823,3030.4 1824,3027.9 1825,3031.5 1826,3035.9 1827,3032.2 1828,3035.9 1829,3033.6 1830,3023.2 1831,3027.9 1832,3033.0 1833,3031.6 1834,3028.9 1835,3024.5 1836,3032.0 1837,3029.4 1838,3021.8 1839,3027.4 1840,3029.9 1841,3031.2 1842,3033.6 1843,3037.8 1844,3033.0 1845,3025.1 1846,3030.5 1847,3030.7 1848,3025.9 1849,3034.5 1850,3038.3 1851,3038.2 1852,3030.7 1853,3034.0 1854,3029.4 1855,3031.9 1856,3028.2 1857,3034.8 1858,3036.7 1859,3031.8 1860,3030.9 1861,3033.3 1862,3031.0 1863,3027.0 1864,3043.6 1865,3032.8 1866,3028.8 1867,3026.4 1868,3031.9 1869,3037.0 1870,3028.2 1871,3029.0 1872,3027.5 1873,3022.2 1874,3028.1 1875,3026.6 1876,3030.4 1877,3019.6 1878,3031.3 1879,3036.3 1880,3030.1 1881,3022.5 1882,3024.5 1883,3032.4 1884,3030.8 1885,3042.4 1886,3027.4 1887,3030.1 1888,3037.3 1889,3024.5 1890,3028.6 1891,3035.1 1892,3033.1 1893,3029.7 1894,3028.8 1895,3032.2 1896,3036.0 1897,3021.9 1898,3026.7 1899,3031.2 1900,3036.3 1901,3033.8 1902,3032.0 1903,3031.0 1904,3029.5 1905,3026.2 1906,3023.2 1907,3034.9 1908,3032.4 1909,3022.2 1910,3025.2 1911,3029.3 1912,3033.1 1913,3022.2 1914,3022.5 1915,3024.8 1916,3024.4 1917,3028.4 1918,3029.1 1919,3030.5 1920,3025.8 1921,3038.1 1922,3026.1 1923,3029.1 1924,3031.3 1925,3017.9 1926,3032.0 1927,3025.0 1928,3030.5 1929,3029.1 1930,3033.9 1931,3028.8 1932,3031.0 1933,3028.3 1934,3028.5 1935,3025.9 1936,3025.2 1937,3027.5 1938,3028.8 1939,3029.1 1940,3030.1 1941,3030.3 1942,3031.0 1943,3029.2 1944,3030.0 1945,3030.4 1946,3037.0 1947,3030.0 1948,3028.0 1949,3025.7 1950,3022.3 1951,3019.1 1952,3034.1 1953,3025.9 1954,3028.6 1955,3028.2 1956,3028.4 1957,3027.1 1958,3029.1 1959,3024.3 1960,3029.7 1961,3033.3 1962,3029.4 1963,3030.5 1964,3028.8 1965,3031.5 1966,3028.0 1967,3025.7 1968,3023.1 1969,3029.8 1970,3027.9 1971,3025.6 1972,3026.9 1973,3027.8 1974,3025.8 1975,3025.0 1976,3028.6 1977,3022.7 1978,3024.7 1979,3031.7 1980,3016.9 1981,3026.8 1982,3018.5 1983,3023.4 1984,3029.5 1985,3026.3 1986,3022.1 1987,3032.4 1988,3026.5 1989,3026.1 1990,3034.8 1991,3029.0 1992,3025.4 1993,3025.3 1994,3026.7 1995,3032.4 1996,3028.1 1997,3026.9 1998,3025.8 1999,3025.5 2000,3030.7 2001,3025.0 2002,3030.4 2003,3029.3 2004,3030.3 2005,3040.7 2006,3026.4 2007,3029.7 2008,3025.1 2009,3027.6 2010,3024.1 2011,3024.1 2012,3027.8 2013,3019.8 2014,3028.5 2015,3020.0 2016,3030.1 2017,3018.5 2018,3016.0 2019,3025.4 2020,3020.6 2021,3022.9 2022,3015.4 2023,3022.7 2024,3017.7 2025,3021.0 2026,3015.5 2027,3029.7 2028,3027.2 2029,3023.2 2030,3027.2 2031,3023.1"/>
</g>
<g fill="none" stroke="#ff0000" stroke-width="6.0" stroke-linejoin="round" stroke-linecap="round">
<polyline stroke-width="5.6" points="267,3110.0 275,3108.0 277.6,3104.3 280.7,3096.3 284,3090.0 284.2,3088.6 286.1,3074.7 286.9,3070.3 286.9,3069.4 288,3063.0 288.8,3060.3 288,3051.1 289,3044.7 289.6,3035.5 289.9,3028.1 289.4,3023.0 289.9,3022.3 290.5,3017.6 290.5,3010.7 291.4,3000.8 291.2,3001.0 291.9,2994.7 292.4,2987.4 292.2,2977.8 292.5,2976.9 292.6,2970.6 293.2,2959.3 293.6,2954.0 293.8,2947.0 294.1,2937.9 294,2938.8 294.9,2926.2 294.8,2922.2 294.8,2919.3 295.5,2908.9 296,2910.3 295.8,2899.5 296.7,2895.7 296.8,2889.6 297.6,2885.2 297.5,2877.8 297.7,2872.5 298.2,2870.4 298.4,2865.1 298.7,2856.0 299.2,2850.8 300.4,2846.9 301.3,2837.1 301.5,2835.9 301.8,2826.0 303,2819.0 303.7,2813.3 305,2810.0 307,2801.6 308.9,2806.8 310.2,2817.3 311,2820.0 312.3,2820.7 313.7,2835.0 313.7,2837.9 315.4,2842.0 315.8,2836.5 316.6,2830.2 316.7,2818.7 317.8,2820.3 318,2810.0 318.3,2813.2 319.3,2821.1 320.6,2825.1 320.8,2834.0 321.5,2829.4 322.4,2820.4 323.5,2812.5 324,2810.0 324.9,2802.6 326.8,2794.8 327.7,2790.7 328.9,2802.0 331,2805.0 331.7,2812.0 333.1,2818.2 334.5,2823.0 335.6,2813.1 336.1,2809.9 336.7,2801.0 338,2800.0 339.7,2795.9 342.6,2790.0 343.2,2781.6 345.4,2780.3 346,2770.0 350,2775.0 355,2770.0 358,2761.8 360,2760.0 364.4,2752.6 368,2745.0 369.8,2737.5 372,2735.0 373,2730.4 373.9,2727.3 375,2720.0 376.2,2728.2 376.6,2735.7 378,2740.0 379.1,2744.1 379.7,2756.7 380.8,2758.0 381.2,2750.5 382.1,2747.1 382.5,2740.0 382.4,2735.7 383.8,2734.3 384,2725.0 385.2,2728.0 385.7,2737.6 387,2745.0 387.9,2746.4 388.4,2753.8 389.8,2765.3 390,2766.0 391.6,2760.8 392.3,2759.6 394,2750.0 395.5,2748.2 395.5,2741.6 397,2733.5 396.9,2744.0 397.9,2751.4 398,2754.6 398.5,2760.0 399.2,2763.9 399.4,2775.6 399.7,2778.0 400,2785.0 400.5,2783.4 401.6,2775.0 401.8,2772.1 401.6,2757.1 402.8,2757.0 403,2750.0 403.4,2743.7 404.9,2734.9 405.5,2727.4 406.7,2724.0 408.5,2726.2 410,2735.0 412,2744.4 413.5,2747.0 414.2,2750.3 414.4,2758.3 414.8,2764.2 415.7,2767.5 416,2775.0 416.4,2784.4 417.8,2783.9 418.4,2791.4 419,2801.6 420.1,2793.8 421,2790.0 422.4,2779.6 423,2777.0 424.5,2782.0 425,2790.0 425.6,2795.4 427,2801.6 427.3,2798.5 428.3,2789.2 428.8,2782.4 430,2780.0 431,2770.8 432,2773.1 432.9,2760.4 434,2758.0 438,2758.0 438.8,2765.9 438.9,2767.2 439,2776.9 439.5,2780.9 440,2790.0 440.1,2792.2 441.1,2797.6 441,2805.8 441,2809.1 442,2818.0 446,2820.0 450,2826.0 450.4,2834.6 451.2,2840.4 452.1,2845.5 453,2850.0 453.9,2853.1 454.3,2862.9 455.2,2867.9 455.7,2872.5 456.2,2870.6 458.4,2857.7 459,2855.0 460,2852.9 461.3,2842.4 462.5,2837.0 463.2,2839.2 463.8,2843.3 463.2,2852.3 463.9,2859.1 464.2,2865.9 465,2870.0 465.6,2879.7 465.9,2879.8 466.8,2887.0 467.3,2892.3 468,2902.5 469.1,2899.9 470.5,2895.2 471,2885.0 472.4,2879.1 473.9,2874.7 474.8,2867.0 476,2871.8 478,2878.0 479.4,2884.0 481.6,2888.8 483,2894.4 484.9,2904.7 485.2,2908.0 487,2913.0 488.5,2922.2 490,2925.0 491.8,2933.4 492,2939.1 493.9,2940.6 494.5,2946.2 496,2955.0 496.9,2963.1 498,2965.0 498.3,2955.8 499.9,2948.4 499.8,2945.9 500.7,2940.6 501.1,2944.9 501.8,2956.5 503,2960.0 503.4,2966.7 504.3,2966.0 504.9,2979.3 506,2981.5 506.9,2983.7 508.6,2995.3 509,3000.0 510.1,3010.6 511.3,3016.7 511.6,3019.6 514,3012.0 515.4,3005.4 517,3003.0 517.4,3011.0 517.9,3012.8 518.5,3020.9 519.4,3026.2 519.2,3034.7 519.8,3036.0"/>
<polyline id="b-r" points="519.8,3036.0 522.8,3036.3 525.8,3034.1 528.8,3030.6 531.8,3032.1 534.8,3030.5 537.8,3029.6 540.8,3043.4 543.8,3038.1 546.8,3033.7 549.8,3019.9 552.8,3019.8 555.8,3038.7 558.8,3033.5 561.8,3023.9 564.8,3031.3 567.8,3019.2 570.8,3045.4 573.8,3024.9 576.8,3041.3 579.8,3034.7 582.8,3040.2 585.8,3049.7 588.8,3048.5 591.8,3043.2 594.8,3040.6 597.8,3026.8 600.8,3043.3 603.8,3024.1 606.8,3036.4 609.8,3031.5 612.8,3055.5 615.8,3053.5 618.8,3026.0 621.8,3030.0 624.8,3028.4 627.8,3033.7 630.8,3035.8 633.8,3038.1 636.8,3022.8 639.8,3035.9 642.8,3041.2 645.8,3030.0 648.8,3038.3 651.8,3035.2 654.8,3034.7 657.8,3027.1 660.8,3033.3 663.8,3036.3 666.8,3035.4 669.8,3043.2 672.8,3031.4 675.8,3034.8 678.8,3034.7 681.8,3034.9 684.8,3016.7 687.8,3043.4 690.8,3031.5 693.8,3021.2 696.8,3028.9 699.8,3048.5 702.8,3032.8 705.8,3035.1 708.8,3034.4 711.8,3038.1 714.8,3043.2 717.8,3040.9 720.8,3039.2 723.8,3031.2 726.8,3031.0 729.8,3027.2 732.8,3029.3 735.8,3025.3 738.8,3028.1 741.8,3046.2 744.8,3039.1 747.8,3036.0 750.8,3030.3 753.8,3032.0 756.8,3026.0 759.8,3016.8 762.8,3036.4 765.8,3034.4 768.8,3043.3 771.8,3020.7 774.8,3038.7 777.8,3036.9 780.8,3044.4 783.8,3020.2 786.8,3030.2 789.8,3024.6 792.8,3031.6 795.8,3035.6 798.8,3042.4 801.8,3040.1 804.8,3040.2 807.8,3041.1 810.8,3031.0 813.8,3035.1 816.8,3045.0 819.8,3022.0 822.8,3021.5 825.8,3039.2 828.8,3026.1 831.8,3024.2 834.8,3034.2 837.8,3037.6 840.8,3048.2 843.8,3023.8 846.8,3028.0 849.8,3027.2 852.8,3032.5 855.8,3040.7 858.8,3023.9 861.8,3049.4 864.8,3046.9 867.8,3027.8 870.8,3060.0 873.8,3049.6 876.8,3033.2 879.8,3042.5 882.8,3022.4 885.8,3050.7 888.8,3038.1 891.8,3030.0 894.8,3042.2 897.8,3029.0 900.8,3036.7 903.8,3042.7 906.8,3054.1 909.8,3044.6 912.8,3038.8 915.8,3047.2 918.8,3034.6 921.8,3033.3 924.8,3046.7 927.8,3032.4 930.8,3031.8 933.8,3048.8 936.8,3039.5 939.8,3047.5 942.8,3041.6 945.8,3035.0 948.8,3049.6 951.8,3041.5 954.8,3049.4 957.8,3038.9 960.8,3043.2 963.8,3045.0 966.8,3036.7 969.8,3041.6 972.8,3042.3 975.8,3034.3 978.8,3046.3 981.8,3042.8 984.8,3037.5 987.8,3042.7 990.8,3048.1 993.8,3033.2 996.8,3042.0 999.8,3031.7 1002.8,3033.6 1005.8,3036.3 1008.8,3030.8 1011.8,3034.4 1014.8,3041.7 1017.8,3059.5 1020.8,3041.1 1023.8,3039.0 1026.8,3029.6 1029.8,3045.4 1032.8,3009.4 1035.8,3022.0 1038.8,3030.8 1041.8,3040.9 1044.8,3059.0 1047.8,3040.4 1050.8,3035.4 1053.8,3003.7 1056.8,3047.4 1059.8,3031.1 1062.8,3029.0 1065.8,3034.1 1068.8,3046.9 1071.8,3025.3 1074.8,3025.5 1077.8,3029.3 1080.8,3028.0 1083.8,3045.7 1086.8,3024.9 1089.8,3020.7 1092.8,3030.8 1095.8,3016.6 1098.8,3027.2 1101.8,3030.7 1104.8,3032.4 1107.8,3031.0 1110.8,3029.2 1113.8,3007.7 1116.8,3000.3 1119.8,3020.8 1122.8,3002.6 1125.8,3029.1 1128.8,3017.5 1131.8,3020.4 1134.8,3024.1 1137.8,3016.6 1140.8,3025.3 1143.8,3024.6 1146.8,3022.4 1149.8,3022.7 1152.8,2999.2 1155.8,3002.7 1158.8,3010.3 1161.8,3007.0 1164.8,3012.0 1167.8,3025.2 1170.8,3010.6 1173.8,2993.6 1176.8,3014.2 1179.8,3001.6 1182.8,3018.1 1185.8,3008.6 1188.8,2996.2 1191.8,2997.3 1194.8,3004.2 1197.8,3003.6 1200.8,2986.3 1203.8,2990.3 1206.8,2996.6 1209.8,2998.2 1212.8,2996.6 1215.8,2983.6 1218.8,2977.0 1221.8,3001.1 1224.8,2986.0 1227.8,2976.2 1230.8,2987.4 1233.8,2973.5 1236.8,2983.8 1239.8,2990.5 1242.8,2977.3 1245.8,2979.2 1248.8,2980.1 1251.8,2985.2 1254.8,2972.0 1257.8,2980.9 1260.8,2973.0 1263.8,2987.4 1266.8,2982.3 1269.8,2967.2 1272.8,2987.7 1275.8,2969.9 1278.8,2962.4 1281.8,2969.1 1284.8,2972.1 1287.8,2960.8 1290.8,2965.8 1293.8,2977.9 1296.8,2962.1 1299.8,2967.3 1302.8,2968.0 1305.8,2970.0 1308.8,2963.6 1311.8,2969.7 1314.8,2959.7 1317.8,2957.5 1320.8,2961.5 1323.8,2953.7 1326.8,2944.8 1329.8,2919.5 1332.8,2946.1 1335.8,2947.6 1338.8,2938.3 1341.8,2926.2 1344.8,2939.2 1347.8,2934.8 1350.8,2956.7 1353.8,2946.3 1356.8,2929.5 1359.8,2945.0 1362.8,2937.7 1365.8,2920.4 1368.8,2935.9 1371.8,2928.2 1374.8,2936.9 1377.8,2951.7 1380.8,2948.4 1383.8,2924.0 1386.8,2949.1 1389.8,2925.2 1392.8,2926.4 1395.8,2931.4 1398.8,2917.4 1401.8,2933.4 1404.8,2924.2 1407.8,2937.2 1410.8,2918.2 1413.8,2922.0 1416.8,2914.5 1419.8,2909.4 1422.8,2913.8 1425.8,2913.1 1428.8,2918.4 1431.8,2908.7 1434.8,2912.3 1437.8,2891.9 1440.8,2911.4 1443.8,2903.8 1446.8,2901.9 1449.8,2911.4 1452.8,2916.8 1455.8,2890.3 1458.8,2901.0 1461.8,2893.3 1464.8,2904.8 1467.8,2887.5 1470.8,2871.9 1473.8,2880.4 1476.8,2899.8 1479.8,2897.8 1482.8,2899.3 1485.8,2883.3 1488.8,2888.6 1491.8,2898.5 1494.8,2880.2 1497.8,2887.3 1500.8,2896.8 1503.8,2883.1 1506.8,2897.0 1509.8,2875.5 1512.8,2875.7 1515.8,2877.9 1518.8,2873.3 1521.8,2869.8 1524.8,2844.9 1527.8,2864.0 1530.8,2884.1 1533.8,2868.6 1536.8,2858.5 1539.8,2852.5 1542.8,2872.8 1545.8,2861.3 1548.8,2854.3 1551.8,2863.6 1554.8,2859.3 1557.8,2860.0 1560.8,2864.7 1563.8,2871.9 1566.8,2850.3 1569.8,2870.6 1572.8,2871.9 1575.8,2867.6 1578.8,2846.4 1581.8,2857.4 1584.8,2861.5 1587.8,2846.4 1590.8,2844.4 1593.8,2850.2 1596.8,2851.6 1599.8,2848.6 1602.8,2845.5 1605.8,2837.1 1608.8,2835.4 1611.8,2849.7 1614.8,2857.3 1617.8,2839.3 1620.8,2859.4 1623.8,2867.0 1626.8,2851.2 1629.8,2857.3 1632.8,2848.4 1635.8,2842.1 1638.8,2838.4 1641.8,2839.7 1644.8,2838.7 1647.8,2837.3 1650.8,2828.3 1653.8,2838.4 1656.8,2831.8 1659.8,2846.8 1662.8,2841.7 1665.8,2857.5 1668.8,2817.7 1671.8,2836.1 1674.8,2833.9 1677.8,2833.8 1680.8,2820.6 1683.8,2817.2 1686.8,2829.6 1689.8,2855.7 1692.8,2840.5 1695.8,2829.9 1698.8,2825.4 1701.8,2826.2 1704.8,2830.6 1707.8,2813.5 1710.8,2834.0 1713.8,2817.1 1716.8,2821.6 1719.8,2836.6 1722.8,2836.2 1725.8,2814.7 1728.8,2808.3 1731.8,2829.1 1734.8,2829.4 1737.8,2797.5 1740.8,2807.7 1743.8,2816.4 1746.8,2822.6 1749.8,2815.7 1752.8,2814.3 1755.8,2812.2 1758.8,2815.0 1761.8,2822.4 1764.8,2818.2 1767.8,2824.3 1770.8,2806.5 1773.8,2821.2 1776.8,2812.7 1779.8,2819.6 1782.8,2808.7 1785.8,2808.9 1788.8,2803.5 1791.8,2815.1 1794.8,2815.7 1797.8,2803.0 1800.8,2802.1 1803.8,2803.4 1806.8,2811.8 1809.8,2804.1 1812.8,2791.4 1815.8,2788.1 1818.8,2802.8 1821.8,2807.9 1824.8,2809.7 1827.8,2795.3 1830.8,2807.8 1833.8,2805.0 1836.8,2798.5 1839.8,2789.2 1842.8,2794.9 1845.8,2791.4 1848.8,2794.5 1851.8,2791.4 1854.8,2795.8 1857.8,2802.8 1860.8,2820.7 1863.8,2811.8 1866.8,2798.8 1869.8,2803.2 1872.8,2782.5 1875.8,2794.3 1878.8,2770.7 1881.8,2781.0 1884.8,2768.4 1887.8,2787.6 1890.8,2802.4 1893.8,2783.6 1896.8,2788.9 1899.8,2797.6 1902.8,2797.0 1905.8,2782.8 1908.8,2783.7 1911.8,2788.5 1914.8,2784.2 1917.8,2785.2 1920.8,2766.6 1923.8,2784.6 1926.8,2773.1 1929.8,2770.9 1932.8,2782.0 1935.8,2788.5 1938.8,2785.5 1941.8,2771.6 1944.8,2795.3 1947.8,2791.4 1950.8,2780.9 1953.8,2792.3 1956.8,2774.1 1959.8,2780.6 1962.8,2791.4 1965.8,2769.6 1968.8,2779.2 1971.8,2790.1 1974.8,2780.8 1977.8,2805.9 1980.8,2768.7 1983.8,2785.2 1986.8,2791.7 1989.8,2773.2 1992.8,2797.4 1995.8,2784.2 1998.8,2794.5 2001.8,2779.7 2004.8,2782.1 2007.8,2773.6 2010.8,2785.0 2013.8,2795.1"/>
</g>
<g fill="none" stroke="#00ff00" stroke-width="6.0" stroke-linejoin="round" stroke-linecap="round">
<polyline stroke-width="5.6" points="267,3100.0 268.3,3092.5 269,3090.0 273,3088.0 274.7,3097.8 276.2,3098.2 277,3104.0 279.1,3099.6 281,3090.0 282,3086.7 282.2,3077.3 283.1,3077.2 284.4,3070.1 285.4,3063.0 285.4,3055.7 285.4,3050.0 286.8,3042.8 286.4,3043.7 286.3,3029.7 287.3,3031.7 286.9,3024.6 288.1,3012.4 288.2,3010.7 288.3,3009.2 288,2996.5 289.2,2991.5 288.9,2989.2 289.5,2981.5 290.1,2973.0 289.7,2967.0 289.8,2964.3 290.4,2953.1 290.4,2951.7 289.9,2941.3 290.2,2935.8 291.1,2934.8 290.4,2927.7 291,2916.8 291.4,2914.0 290.7,2905.9 291.3,2904.8 292,2900.3 291.6,2886.9 292.2,2883.3 291.5,2882.1 292,2872.5 291.9,2863.7 292.8,2860.7 293.6,2853.4 293,2850.1 293.5,2838.3 294.1,2833.6 295.1,2825.5 295.3,2824.3 294.8,2812.5 296.2,2807.3 296,2804.0 296.5,2795.5 298.2,2791.8 299,2785.0 301.2,2784.4 303,2775.0 307,2771.7 312,2768.0 312.2,2759.7 313.4,2753.9 313.7,2747.4 314,2745.0 314.6,2735.2 316.2,2730.6 316.8,2728.0 319,2722.0 322,2717.0 322,2708.9 322.7,2701.5 323.2,2702.1 324,2695.0 325,2687.0 325.5,2688.3 326,2679.0 326.7,2671.5 326.7,2669.5 328,2660.0 329.6,2649.0 330.4,2646.0 330.8,2653.7 332,2655.0 332.9,2658.9 333.2,2661.8 334.5,2671.0 334.8,2666.5 335.5,2660.4 335.1,2654.0 335.5,2645.0 335.5,2639.8 336.8,2627.9 337,2626.0 337.5,2629.1 338.1,2636.0 339,2645.0 339.4,2646.5 340.6,2650.7 341,2660.0 342.6,2662.9 344,2672.0 345.3,2674.9 346.5,2682.0 348,2687.0 348.3,2689.5 350,2698.0 350,2707.9 351.7,2714.2 352,2717.0 353.3,2719.2 354.5,2729.7 355,2735.0 356.8,2741.5 357.1,2751.5 359,2752.6 359,2760.7 359.7,2762.0 359.9,2772.9 360.6,2778.6 361.8,2780.9 361.7,2790.0 361.7,2795.0 362.8,2806.3 362.6,2807.6 363.2,2811.2 363.7,2822.8 364.4,2826.0 368,2820.0 372.6,2823.0 372.5,2832.5 373.8,2836.7 373.6,2837.8 374.7,2842.9 374.6,2851.7 375,2859.0 376.1,2869.0 378,2870.0 378.6,2878.4 380.3,2884.3 380.8,2889.0 380.9,2898.3 381.6,2906.4 381.9,2909.9 383,2915.0 383.9,2921.2 384.1,2925.4 385.5,2938.6 386,2940.6 389,2935.0 391.7,2929.7 393.3,2938.7 393.6,2945.8 395,2950.0 395.9,2953.9 397.7,2963.8 398.5,2968.0 401,2975.0 401.7,2977.4 402.5,2986.2 404,2992.0 405.7,2983.6 406.8,2975.6 408,2972.0 413.5,2976.0 414,2983.7 414.9,2991.2 416,2991.5 415.7,3000.6 417,3005.0 418,3014.0 417.6,3012.9 418.4,3019.7 419.2,3023.4 420,3033.0 421.8,3030.4 424,3020.0 425,3018.2 427,3011.0 427,3012.8 427.9,3027.5 428.2,3033.3 428.5,3038.7 429.6,3044.1 430,3047.0 432.5,3051.4 435,3060.5 440,3056.0 446,3058.0"/>
<polyline id="b-g" points="446,3058.0 449,3062.5 452,3059.5 455,3061.1 458,3038.3 461,3050.0 464,3066.3 467,3069.0 470,3054.1 473,3065.4 476,3065.4 479,3065.1 482,3056.9 485,3057.0 488,3055.8 491,3053.2 494,3068.3 497,3063.7 500,3078.5 503,3071.2 506,3063.3 509,3055.9 512,3025.1 515,3068.0 518,3066.6 521,3054.3 524,3055.6 527,3058.3 530,3070.3 533,3056.1 536,3033.7 539,3045.5 542,3047.4 545,3061.9 548,3073.6 551,3046.8 554,3040.0 557,3061.4 560,3043.7 563,3060.2 566,3048.2 569,3057.8 572,3063.3 575,3053.6 578,3071.7 581,3064.4 584,3064.7 587,3063.0 590,3069.0 593,3069.0 596,3070.8 599,3061.0 602,3031.5 605,3052.7 608,3058.5 611,3064.3 614,3070.3 617,3057.1 620,3072.4 623,3044.4 626,3049.8 629,3049.7 632,3061.6 635,3064.9 638,3062.5 641,3069.4 644,3049.1 647,3076.1 650,3061.7 653,3065.3 656,3044.7 659,3059.7 662,3057.4 665,3053.8 668,3056.0 671,3050.0 674,3053.6 677,3057.2 680,3066.5 683,3067.8 686,3060.6 689,3057.8 692,3068.6 695,3058.7 698,3064.0 701,3054.4 704,3071.5 707,3057.5 710,3070.3 713,3051.3 716,3040.5 719,3066.6 722,3052.9 725,3044.0 728,3045.8 731,3042.4 734,3037.5 737,3043.4 740,3059.9 743,3046.4 746,3062.0 749,3048.2 752,3062.9 755,3054.0 758,3050.6 761,3049.8 764,3039.0 767,3056.3 770,3062.1 773,3040.3 776,3040.3 779,3066.1 782,3063.8 785,3049.4 788,3064.5 791,3058.6 794,3039.0 797,3059.3 800,3060.3 803,3048.5 806,3052.5 809,3052.2 812,3043.5 815,3064.4 818,3047.6 821,3031.6 824,3045.3 827,3057.8 830,3032.4 833,3043.2 836,3062.4 839,3040.9 842,3033.8 845,3028.7 848,3041.5 851,3051.4 854,3047.4 857,3053.1 860,3062.5 863,3047.0 866,3043.0 869,3046.4 872,3046.2 875,3028.7 878,3031.2 881,3040.0 884,3046.6 887,3057.0 890,3028.6 893,3046.2 896,3042.7 899,3040.8 902,3032.9 905,3014.5 908,3034.9 911,3050.3 914,3031.0 917,3034.1 920,3024.4 923,3040.6 926,3036.3 929,3035.6 932,3028.5 935,3032.8 938,3040.6 941,3030.2 944,3031.3 947,3030.2 950,3000.5 953,3043.1 956,3023.3 959,3031.2 962,3006.5 965,3033.6 968,3021.5 971,3023.5 974,3024.5 977,3016.6 980,3033.0 983,3038.5 986,3015.6 989,3019.0 992,3019.5 995,3025.8 998,2996.1 1001,3007.1 1004,3015.5 1007,2999.5 1010,3000.0 1013,3016.3 1016,3005.2 1019,2990.7 1022,2998.8 1025,3008.8 1028,2997.8 1031,2997.3 1034,2989.7 1037,2984.1 1040,2993.0 1043,2998.5 1046,2990.8 1049,2981.6 1052,3003.3 1055,2994.2 1058,3000.2 1061,2998.6 1064,3000.8 1067,2987.2 1070,3002.2 1073,2993.5 1076,2979.8 1079,2957.1 1082,2977.3 1085,2983.1 1088,2977.5 1091,2970.0 1094,2979.9 1097,2970.2 1100,2988.4 1103,2969.5 1106,2981.5 1109,2968.3 1112,2953.7 1115,2961.0 1118,2958.2 1121,2969.2 1124,2945.4 1127,2967.6 1130,2957.8 1133,2949.8 1136,2957.2 1139,2948.7 1142,2958.2 1145,2950.6 1148,2946.7 1151,2938.1 1154,2951.8 1157,2950.0 1160,2943.6 1163,2937.2 1166,2942.7 1169,2932.1 1172,2928.4 1175,2931.7 1178,2924.1 1181,2945.5 1184,2935.5 1187,2932.1 1190,2931.5 1193,2927.1 1196,2938.4 1199,2930.0 1202,2930.8 1205,2934.4 1208,2916.0 1211,2911.5 1214,2902.9 1217,2904.3 1220,2902.3 1223,2912.5 1226,2894.3 1229,2901.7 1232,2894.9 1235,2888.8 1238,2913.6 1241,2913.2 1244,2888.0 1247,2897.4 1250,2910.1 1253,2898.0 1256,2908.1 1259,2892.9 1262,2916.3 1265,2889.8 1268,2896.8 1271,2889.5 1274,2882.0 1277,2895.0 1280,2900.1 1283,2887.8 1286,2882.7 1289,2890.6 1292,2889.8 1295,2884.8 1298,2883.9 1301,2882.1 1304,2885.2 1307,2875.2 1310,2883.0 1313,2869.3 1316,2875.5 1319,2865.7 1322,2879.3 1325,2880.8 1328,2884.2 1331,2866.7 1334,2868.5 1337,2867.4 1340,2868.4 1343,2870.5 1346,2867.9 1349,2879.5 1352,2884.5 1355,2875.9 1358,2866.3 1361,2881.7 1364,2865.8 1367,2863.4 1370,2873.9 1373,2873.9 1376,2846.9 1379,2842.5 1382,2865.3 1385,2846.3 1388,2858.7 1391,2867.0 1394,2863.2 1397,2861.0 1400,2854.8 1403,2850.4 1406,2851.6 1409,2855.3 1412,2845.4 1415,2855.2 1418,2839.2 1421,2848.8 1424,2856.4 1427,2844.5 1430,2853.2 1433,2845.8 1436,2842.1 1439,2837.1 1442,2832.5 1445,2834.4 1448,2838.4 1451,2835.3 1454,2838.1 1457,2830.7 1460,2838.7 1463,2849.5 1466,2820.0 1469,2845.2 1472,2831.5 1475,2835.2 1478,2844.1 1481,2843.2 1484,2833.8 1487,2812.7 1490,2827.2 1493,2831.6 1496,2817.6 1499,2825.9 1502,2841.6 1505,2824.0 1508,2827.4 1511,2818.0 1514,2814.3 1517,2831.2 1520,2810.4 1523,2822.4 1526,2812.4 1529,2811.9 1532,2814.5 1535,2820.9 1538,2800.1 1541,2827.6 1544,2826.7 1547,2802.9 1550,2800.7 1553,2791.7 1556,2822.5 1559,2809.6 1562,2797.2 1565,2814.2 1568,2807.8 1571,2812.4 1574,2811.3 1577,2805.0 1580,2794.0 1583,2792.9 1586,2810.8 1589,2795.6 1592,2790.4 1595,2789.7 1598,2797.2 1601,2798.7 1604,2806.3 1607,2782.5 1610,2804.2 1613,2794.7 1616,2814.8 1619,2795.3 1622,2801.0 1625,2792.8 1628,2796.2 1631,2797.3 1634,2788.7 1637,2798.1 1640,2809.5 1643,2789.5 1646,2780.1 1649,2787.0 1652,2789.1 1655,2790.7 1658,2784.8 1661,2782.1 1664,2805.8 1667,2794.1 1670,2796.8 1673,2788.8 1676,2800.1 1679,2777.6 1682,2782.8 1685,2770.1 1688,2784.5 1691,2795.3 1694,2774.1 1697,2771.8 1700,2786.9 1703,2762.8 1706,2786.5 1709,2776.2 1712,2772.9 1715,2781.2 1718,2782.1 1721,2777.2 1724,2774.5 1727,2770.7 1730,2792.6 1733,2763.7 1736,2770.5 1739,2771.8 1742,2776.6 1745,2773.6 1748,2779.5 1751,2767.5 1754,2770.7 1757,2755.1 1760,2772.0 1763,2760.9 1766,2777.0 1769,2771.4 1772,2765.7 1775,2773.3 1778,2769.9 1781,2769.4 1784,2770.4 1787,2754.3 1790,2760.5 1793,2770.6 1796,2761.4 1799,2766.3 1802,2788.6 1805,2769.6 1808,2757.5 1811,2766.6 1814,2780.0 1817,2757.0 1820,2753.7 1823,2764.2 1826,2762.6 1829,2753.5 1832,2754.9 1835,2755.0 1838,2761.3 1841,2763.9 1844,2753.7 1847,2763.2 1850,2760.9 1853,2756.6 1856,2755.1 1859,2738.7 1862,2767.2 1865,2760.1 1868,2765.7 1871,2753.0 1874,2752.6 1877,2761.2 1880,2741.9 1883,2751.4 1886,2749.4 1889,2772.5 1892,2761.6 1895,2748.3 1898,2743.1 1901,2740.2 1904,2754.7 1907,2742.9 1910,2742.6 1913,2743.8 1916,2764.1 1919,2746.1 1922,2754.7 1925,2741.3 1928,2754.6 1931,2744.1 1934,2743.6 1937,2727.0 1940,2752.5 1943,2754.3 1946,2743.5 1949,2754.3 1952,2751.0 1955,2726.9 1958,2728.1 1961,2731.7 1964,2755.5 1967,2735.1 1970,2747.5 1973,2740.8 1976,2740.9 1979,2735.6 1982,2735.3 1985,2735.8 1988,2734.9 1991,2723.6 1994,2741.9 1997,2740.1 2000,2726.1 2003,2734.8 2006,2739.2 2009,2733.9 2012,2731.1 2015,2722.8"/>
</g>
<g fill="none" stroke="#0000ff" stroke-width="6.0" stroke-linejoin="round" stroke-linecap="round">
<polyline stroke-width="5.6" points="267,3118.0 269,3117.7 270,3114.4 271.4,3101.2 272,3100.0 272.5,3110.6 273.5,3110.8 274.3,3116.1 275,3125.0 277.9,3119.5 280,3117.0 285,3120.0 287,3109.9 289.2,3106.5 291,3104.0 291.7,3096.8 291.6,3094.6 291.9,3082.4 291.4,3079.9 292,3071.9 292.2,3069.8 291.8,3060.6 292.8,3052.4 292.8,3046.2 292.9,3046.8 292.7,3043.2 292.9,3029.5 292.9,3028.6 293.1,3016.3 293.2,3019.4 293.6,3008.7 293.6,3002.5 294.5,3001.3 294.1,2988.4 294.3,2982.6 295.7,2977.1 294.9,2973.7 295.6,2970.1 296.1,2963.2 295.8,2956.5 296.1,2947.0 296.8,2943.8 297.4,2934.6 297.1,2929.6 297.7,2927.0 298.2,2921.7 298.8,2912.1 299,2908.5 299,2903.5 299.7,2892.3 301,2886.6 301.2,2884.6 300.9,2878.8 301.8,2872.5 302.4,2866.5 303.7,2864.4 304,2851.8 304.5,2849.5 305.4,2836.6 305.9,2834.0 309,2840.0 312.7,2845.0 313.9,2844.0 314.4,2833.0 315.3,2831.6 316.8,2823.0 320,2815.0 321.2,2806.8 323,2805.0 326,2799.0 326.9,2790.5 328.1,2788.7 330,2780.0 331.9,2778.6 332.8,2768.8 334.5,2763.5 335.6,2759.4 335.9,2751.4 337,2747.0 340,2755.0 342.5,2764.2 344,2769.0 344.8,2760.7 347.1,2757.2 348,2752.6 348.3,2756.9 349.2,2766.7 350,2770.0 350.2,2780.1 351.2,2783.1 352,2790.0 352.9,2782.8 355.2,2779.8 356,2775.0 358.4,2769.8 361.7,2763.5 362.6,2772.4 363.1,2778.9 364,2780.0 364.4,2786.2 365.4,2789.9 366.4,2794.0 367,2804.0 368.5,2796.8 370,2790.0 372.6,2782.6 374,2786.4 374.5,2791.4 376,2800.0 377.8,2806.0 379,2816.8 379.5,2818.6 380.8,2826.0 381.5,2836.2 382.3,2837.8 382.4,2841.7 383,2850.0 383.9,2851.4 384.6,2857.3 385.3,2867.8 386,2872.5 387.1,2879.2 387.8,2885.9 388.1,2890.2 389.1,2897.3 390,2905.0 394,2902.0 398.5,2899.7 399.2,2904.3 400.3,2911.5 400.3,2920.8 401,2921.5 406,2924.0 410.8,2927.0 411.6,2933.1 413,2940.0 413.9,2948.2 415.1,2953.1 416,2957.0 417.4,2959.8 419,2968.0 419.9,2971.0 421.7,2978.7 424,2973.0 427,2970.6 428.2,2971.6 430,2976.7 431,2986.0 431.8,2987.9 433.3,2993.4 435,3000.5 436.4,3006.1 439,3014.0 441.5,3017.0 443.5,3027.8 450,3032.0 457,3036.0 462,3041.0 468,3047.0 469.2,3037.4 470.5,3035.2 471,3030.0 472.3,3022.7 473.4,3017.0 474.7,3021.2 475,3024.8 476.5,3030.4 477,3040.0 478.8,3047.9 481.6,3052.0 483,3042.6 483.1,3037.4 484,3036.2 485,3030.0 487,3025.0 488.1,3030.6 488.8,3036.5 489.2,3043.3 490,3050.0"/>
<polyline id="b-b" points="490,3050.0 493,3051.3 496,3051.6 499,3059.6 502,3045.6 505,3060.0 508,3037.6 511,3051.9 514,3051.3 517,3063.9 520,3052.9 523,3049.6 526,3065.9 529,3066.3 532,3046.1 535,3059.9 538,3055.6 541,3059.1 544,3062.1 547,3044.9 550,3058.4 553,3050.6 556,3050.3 559,3056.3 562,3040.0 565,3044.1 568,3059.2 571,3064.3 574,3063.1 577,3055.1 580,3064.5 583,3072.3 586,3070.8 589,3047.8 592,3048.2 595,3064.6 598,3071.9 601,3059.7 604,3070.8 607,3062.6 610,3060.2 613,3057.5 616,3056.2 619,3053.3 622,3074.2 625,3068.5 628,3053.8 631,3057.2 634,3048.7 637,3063.0 640,3045.9 643,3056.7 646,3063.7 649,3065.3 652,3065.2 655,3049.9 658,3067.2 661,3059.8 664,3076.0 667,3063.8 670,3081.6 673,3067.3 676,3071.0 679,3060.9 682,3057.4 685,3058.0 688,3071.7 691,3059.0 694,3062.4 697,3075.9 700,3071.1 703,3060.8 706,3065.8 709,3050.8 712,3050.1 715,3066.1 718,3089.6 721,3077.7 724,3083.1 727,3065.1 730,3053.6 733,3067.0 736,3045.9 739,3029.4 742,3062.9 745,3067.2 748,3067.1 751,3073.1 754,3066.0 757,3061.9 760,3046.7 763,3053.2 766,3043.6 769,3049.3 772,3068.1 775,3052.1 778,3051.7 781,3043.8 784,3075.2 787,3032.9 790,3045.5 793,3058.7 796,3043.9 799,3045.3 802,3060.7 805,3061.6 808,3060.2 811,3045.1 814,3062.7 817,3043.2 820,3046.0 823,3045.8 826,3053.8 829,3045.9 832,3038.7 835,3048.2 838,3040.8 841,3044.4 844,3049.5 847,3045.3 850,3041.4 853,3038.4 856,3057.4 859,3027.7 862,3048.5 865,3035.7 868,3036.0 871,3022.9 874,3040.5 877,3032.9 880,3044.2 883,3028.1 886,3023.4 889,3023.7 892,3039.2 895,3035.5 898,3027.8 901,3043.6 904,3030.2 907,3025.2 910,3029.2 913,3010.4 916,3020.8 919,3008.7 922,3023.3 925,3023.9 928,3020.0 931,3027.6 934,3012.0 937,3020.8 940,3012.7 943,3000.5 946,3013.8 949,3020.4 952,3036.7 955,3007.7 958,3009.2 961,3022.3 964,2996.4 967,3018.7 970,2987.0 973,2990.4 976,3000.1 979,2998.7 982,3008.7 985,2990.6 988,2998.0 991,2991.8 994,2996.9 997,2998.7 1000,3003.3 1003,2993.5 1006,2988.5 1009,2986.1 1012,2972.9 1015,2967.5 1018,2985.9 1021,2972.1 1024,2977.6 1027,2985.6 1030,2978.7 1033,2972.4 1036,2968.8 1039,2975.4 1042,2989.0 1045,2960.9 1048,2977.9 1051,2989.3 1054,2980.3 1057,2970.9 1060,2974.4 1063,2974.8 1066,2980.9 1069,2953.2 1072,2957.8 1075,2963.2 1078,2961.2 1081,2959.7 1084,2961.7 1087,2965.7 1090,2961.1 1093,2978.2 1096,2948.8 1099,2949.9 1102,2936.2 1105,2952.3 1108,2945.7 1111,2940.0 1114,2930.1 1117,2956.8 1120,2940.6 1123,2943.1 1126,2919.4 1129,2935.6 1132,2938.7 1135,2946.8 1138,2934.3 1141,2938.4 1144,2912.0 1147,2922.9 1150,2921.8 1153,2918.1 1156,2915.5 1159,2915.8 1162,2928.1 1165,2912.3 1168,2920.1 1171,2917.1 1174,2907.6 1177,2909.9 1180,2885.5 1183,2903.1 1186,2915.6 1189,2898.4 1192,2883.0 1195,2907.4 1198,2884.4 1201,2907.9 1204,2891.1 1207,2875.2 1210,2878.8 1213,2899.5 1216,2885.8 1219,2882.4 1222,2882.7 1225,2877.2 1228,2872.1 1231,2880.6 1234,2889.5 1237,2875.0 1240,2888.7 1243,2882.8 1246,2856.8 1249,2874.3 1252,2878.0 1255,2846.4 1258,2860.3 1261,2865.3 1264,2851.8 1267,2858.9 1270,2854.8 1273,2848.9 1276,2854.4 1279,2852.1 1282,2851.7 1285,2850.8 1288,2842.4 1291,2838.0 1294,2833.7 1297,2843.0 1300,2830.3 1303,2852.2 1306,2833.6 1309,2858.5 1312,2837.3 1315,2832.8 1318,2830.8 1321,2839.3 1324,2833.4 1327,2822.0 1330,2831.8 1333,2836.7 1336,2833.7 1339,2844.2 1342,2806.5 1345,2826.2 1348,2821.1 1351,2830.9 1354,2843.7 1357,2812.3 1360,2817.5 1363,2825.5 1366,2836.1 1369,2831.9 1372,2813.5 1375,2828.1 1378,2819.3 1381,2828.6 1384,2820.0 1387,2824.5 1390,2814.4 1393,2804.4 1396,2799.9 1399,2815.1 1402,2804.6 1405,2800.5 1408,2807.0 1411,2813.0 1414,2813.7 1417,2798.5 1420,2803.7 1423,2810.5 1426,2798.2 1429,2811.4 1432,2801.2 1435,2793.2 1438,2803.9 1441,2794.6 1444,2810.9 1447,2794.6 1450,2809.6 1453,2814.2 1456,2797.4 1459,2794.8 1462,2787.2 1465,2791.1 1468,2795.3 1471,2802.4 1474,2797.9 1477,2779.1 1480,2796.1 1483,2780.7 1486,2805.2 1489,2797.7 1492,2792.1 1495,2775.7 1498,2789.4 1501,2776.4 1504,2776.4 1507,2780.5 1510,2763.9 1513,2779.0 1516,2781.6 1519,2784.8 1522,2771.9 1525,2774.2 1528,2789.0 1531,2788.7 1534,2760.3 1537,2780.3 1540,2782.7 1543,2766.6 1546,2777.9 1549,2767.4 1552,2759.3 1555,2751.3 1558,2774.4 1561,2752.9 1564,2731.7 1567,2748.7 1570,2755.6 1573,2750.2 1576,2776.5 1579,2754.4 1582,2758.5 1585,2762.7 1588,2769.2 1591,2746.6 1594,2739.0 1597,2747.4 1600,2760.7 1603,2754.5 1606,2760.7 1609,2749.7 1612,2760.2 1615,2752.6 1618,2751.7 1621,2754.1 1624,2753.2 1627,2750.8 1630,2733.5 1633,2750.6 1636,2747.5 1639,2750.5 1642,2750.1 1645,2742.5 1648,2748.8 1651,2753.8 1654,2745.7 1657,2743.2 1660,2743.5 1663,2749.0 1666,2734.8 1669,2739.5 1672,2733.8 1675,2720.9 1678,2741.2 1681,2740.6 1684,2728.7 1687,2731.7 1690,2738.5 1693,2750.7 1696,2731.2 1699,2749.8 1702,2746.2 1705,2713.9 1708,2727.8 1711,2732.9 1714,2726.6 1717,2734.2 1720,2728.0 1723,2730.2 1726,2720.5 1729,2702.5 1732,2720.9 1735,2709.1 1738,2725.6 1741,2720.9 1744,2745.0 1747,2722.1 1750,2704.3 1753,2741.6 1756,2721.7 1759,2726.1 1762,2728.2 1765,2706.3 1768,2704.9 1771,2718.6 1774,2701.6 1777,2692.2 1780,2701.3 1783,2703.6 1786,2708.6 1789,2701.2 1792,2696.7 1795,2705.6 1798,2703.6 1801,2710.1 1804,2691.0 1807,2722.5 1810,2691.3 1813,2710.0 1816,2707.0 1819,2690.2 1822,2695.4 1825,2691.4 1828,2701.3 1831,2706.6 1834,2694.3 1837,2694.8 1840,2685.7 1843,2699.0 1846,2699.4 1849,2690.3 1852,2681.3 1855,2699.9 1858,2681.8 1861,2681.7 1864,2678.2 1867,2687.0 1870,2682.5 1873,2675.5 1876,2680.0 1879,2677.8 1882,2690.1 1885,2704.3 1888,2694.8 1891,2693.9 1894,2692.5 1897,2674.6 1900,2675.5 1903,2666.8 1906,2684.8 1909,2676.7 1912,2665.4 1915,2674.6 1918,2667.9 1921,2677.9 1924,2666.4 1927,2662.2 1930,2668.0 1933,2666.0 1936,2673.0 1939,2664.5 1942,2661.4 1945,2662.5 1948,2649.7 1951,2656.6 1954,2669.5 1957,2654.4 1960,2671.8 1963,2654.1 1966,2657.8 1969,2659.6 1972,2657.8 1975,2646.2 1978,2645.2 1981,2659.9 1984,2649.0 1987,2652.9 1990,2657.9 1993,2650.6 1996,2648.5 1999,2639.7 2002,2650.9 2005,2674.2 2008,2639.8 2011,2632.1 2014,2641.7 2017,2654.1 2020,2645.0 2023,2649.0 2026,2651.8 2029,2655.0"/>
</g>
<g fill="none" stroke="#ff00ff" stroke-width="6.0" stroke-linejoin="round" stroke-linecap="round">
<polyline stroke-width="5.6" points="267,3131.0 269,3131.0 270.9,3134.9 272,3145.0 272.8,3137.0 274.4,3132.0 276,3125.0 276.8,3128.1 277.5,3132.6 279,3140.0 281.4,3132.7 282.7,3130.0 284.6,3127.5 286,3118.0 288.4,3121.2 290,3130.0 291.4,3119.5 293.6,3117.7 293.9,3109.3 295.8,3105.4 296.4,3100.8 296.9,3099.8 297.7,3090.0 297.4,3083.6 297.6,3078.3 297.9,3072.3 298.5,3064.6 298.6,3061.2 298.5,3052.9 298.6,3046.9 298.4,3037.5 298.5,3037.6 298.6,3029.7 298.9,3019.2 299.7,3017.1 300.2,3010.0 299.4,3007.4 299.8,3002.2 300.5,2993.0 300,2983.0 300.4,2981.5 300.5,2971.4 301.1,2968.7 301.1,2964.6 301.3,2957.6 302,2949.9 302.3,2941.5 301.6,2933.2 302.8,2933.0 302.2,2925.9 303.3,2922.8 303,2913.0 303.6,2904.6 305,2900.0 307,2894.0 308.1,2888.3 310,2879.7 311,2875.0 312.1,2868.8 313.5,2859.5 314,2856.0 314.4,2857.4 316,2867.0 316.9,2872.5 318,2878.0 319.1,2875.7 319.6,2865.2 321,2860.0 322.4,2852.0 322.2,2850.4 323.6,2839.8 326,2837.0 329,2834.0 329.7,2832.7 330.3,2826.6 330.9,2813.1 331.6,2811.2 332,2805.0 332.2,2801.4 333.1,2792.8 334.5,2788.9 335.6,2776.6 335.8,2774.0 336.6,2778.2 338,2785.0 338.9,2791.4 340,2796.0 341,2791.1 341.1,2780.1 341.2,2774.4 341.3,2775.4 341.9,2763.4 342.5,2760.0 343.4,2753.8 343.7,2747.1 344.3,2741.2 344.6,2737.5 345,2730.8 349.5,2728.0 349.9,2730.4 351.5,2739.1 352,2745.0 353.2,2754.2 353.5,2755.4 355,2763.5 356.6,2770.2 358,2777.0 360.2,2787.1 361.7,2790.7 363.1,2793.1 364.4,2806.3 364.4,2807.4 366,2815.0 366.4,2821.3 368.4,2830.5 369.6,2827.5 370,2837.0 373,2830.0 375,2826.0 376.6,2834.7 379,2836.0 381.5,2837.3 383.5,2845.0 386,2849.0 389,2853.0 390.4,2859.1 392,2865.0 392.9,2867.7 394.4,2878.0 395.9,2887.5 398,2888.0 400.7,2893.2 402.6,2899.7 403.8,2900.5 404.5,2914.4 405,2915.0 405.4,2921.5 407.3,2923.4 408,2932.0 411,2928.0 413.5,2924.0 414.3,2928.1 415.6,2941.3 415.8,2940.0 417,2950.0 417.4,2954.9 418.5,2958.1 419.5,2966.0 420,2973.0 420.3,2968.0 421.1,2965.1 422,2955.0 423.5,2948.2 424.4,2940.6 426.5,2948.0 428.5,2954.0 429.5,2949.5 431,2940.6 431.4,2950.9 432.7,2956.8 434,2960.0 435,2969.1 436,2970.7 436.7,2973.8 438,2981.5 440.1,2986.3 442,2992.0 444.5,2996.8 446,3000.5 450,2998.0 454,2995.0 456.2,2997.2 458,3005.0 460,3008.7 462.5,3014.0 466,3011.0 470.7,3008.7 475,3005.0 479,3003.0 484,3005.0 489.8,3008.7 494,3014.0 498,3019.6 499.4,3025.8 502,3028.0 506,3036.0 508.4,3036.9 511,3047.0 514.2,3051.1 517,3057.8"/>
<polyline id="b-m" points="517,3057.8 520,3059.4 523,3053.4 526,3066.7 529,3061.0 532,3062.3 535,3058.4 538,3070.6 541,3055.0 544,3075.1 547,3063.8 550,3067.4 553,3066.7 556,3071.1 559,3070.4 562,3056.7 565,3073.4 568,3071.6 571,3073.3 574,3077.4 577,3048.4 580,3081.0 583,3048.7 586,3057.9 589,3065.5 592,3071.4 595,3069.8 598,3068.5 601,3071.3 604,3054.1 607,3064.6 610,3085.6 613,3040.5 616,3065.5 619,3067.8 622,3060.0 625,3066.4 628,3066.6 631,3061.8 634,3064.5 637,3056.5 640,3069.5 643,3056.3 646,3051.2 649,3081.0 652,3055.5 655,3053.8 658,3038.3 661,3061.1 664,3052.6 667,3053.2 670,3066.1 673,3063.7 676,3053.6 679,3064.5 682,3065.0 685,3059.7 688,3050.6 691,3063.0 694,3044.7 697,3063.1 700,3060.1 703,3049.0 706,3049.8 709,3082.4 712,3037.6 715,3057.6 718,3056.1 721,3064.1 724,3060.3 727,3064.7 730,3062.2 733,3058.3 736,3042.9 739,3052.0 742,3053.2 745,3053.6 748,3057.3 751,3045.3 754,3036.8 757,3039.3 760,3041.5 763,3049.1 766,3048.0 769,3046.5 772,3030.2 775,3034.7 778,3039.7 781,3036.6 784,3039.1 787,3020.3 790,3039.5 793,3005.8 796,3026.7 799,3032.7 802,3030.6 805,3037.2 808,3029.0 811,3030.2 814,3037.1 817,3022.1 820,3043.0 823,3022.2 826,3037.1 829,3033.8 832,3029.0 835,3033.3 838,3033.9 841,3028.8 844,3053.0 847,3025.9 850,3033.9 853,3044.4 856,3033.7 859,3037.0 862,3011.3 865,3020.2 868,3021.2 871,3031.4 874,3010.9 877,3019.2 880,3035.8 883,3021.0 886,3018.3 889,3014.1 892,3023.8 895,2994.3 898,3006.8 901,3008.5 904,3010.2 907,3006.1 910,2985.7 913,3003.6 916,2993.4 919,3029.2 922,2999.0 925,3007.5 928,2990.7 931,2991.2 934,2982.8 937,2995.3 940,2999.8 943,2974.5 946,2988.1 949,2987.9 952,2993.3 955,2973.5 958,2990.8 961,2962.4 964,2972.8 967,2966.4 970,2965.3 973,2976.6 976,2969.7 979,2991.6 982,2961.5 985,2955.1 988,2970.1 991,2960.4 994,2954.9 997,2967.4 1000,2965.8 1003,2939.7 1006,2947.2 1009,2959.5 1012,2937.8 1015,2960.2 1018,2943.2 1021,2945.0 1024,2942.5 1027,2927.7 1030,2933.8 1033,2929.7 1036,2932.5 1039,2942.4 1042,2937.5 1045,2925.3 1048,2928.2 1051,2934.8 1054,2919.5 1057,2914.6 1060,2921.2 1063,2908.7 1066,2900.8 1069,2928.5 1072,2900.6 1075,2908.6 1078,2908.7 1081,2901.5 1084,2920.3 1087,2919.6 1090,2901.3 1093,2884.3 1096,2898.6 1099,2879.7 1102,2900.7 1105,2900.3 1108,2894.8 1111,2904.5 1114,2891.2 1117,2880.4 1120,2881.0 1123,2895.1 1126,2861.9 1129,2885.4 1132,2870.4 1135,2902.1 1138,2861.6 1141,2853.2 1144,2884.0 1147,2880.6 1150,2865.9 1153,2869.7 1156,2855.4 1159,2863.9 1162,2871.3 1165,2866.9 1168,2861.0 1171,2854.9 1174,2869.3 1177,2874.6 1180,2868.7 1183,2843.3 1186,2858.2 1189,2847.6 1192,2849.1 1195,2854.9 1198,2877.4 1201,2852.3 1204,2846.8 1207,2843.3 1210,2850.8 1213,2830.8 1216,2850.9 1219,2850.1 1222,2831.7 1225,2855.3 1228,2861.9 1231,2831.8 1234,2841.6 1237,2827.8 1240,2824.4 1243,2833.6 1246,2827.9 1249,2813.5 1252,2809.0 1255,2824.3 1258,2807.2 1261,2807.8 1264,2814.9 1267,2814.0 1270,2821.4 1273,2836.6 1276,2806.1 1279,2830.4 1282,2800.3 1285,2808.1 1288,2815.2 1291,2829.9 1294,2790.9 1297,2821.5 1300,2804.6 1303,2804.5 1306,2807.1 1309,2819.6 1312,2824.7 1315,2802.6 1318,2794.3 1321,2790.3 1324,2778.2 1327,2785.2 1330,2805.9 1333,2776.7 1336,2785.9 1339,2789.8 1342,2789.2 1345,2785.1 1348,2788.7 1351,2788.4 1354,2809.8 1357,2801.6 1360,2794.2 1363,2785.4 1366,2790.3 1369,2788.0 1372,2779.6 1375,2780.0 1378,2790.9 1381,2781.7 1384,2781.2 1387,2783.4 1390,2781.3 1393,2769.2 1396,2794.9 1399,2779.3 1402,2777.4 1405,2785.6 1408,2789.0 1411,2775.4 1414,2748.4 1417,2760.3 1420,2769.9 1423,2770.5 1426,2778.8 1429,2771.5 1432,2762.7 1435,2770.3 1438,2757.8 1441,2769.6 1444,2747.8 1447,2778.1 1450,2759.8 1453,2769.5 1456,2760.1 1459,2745.5 1462,2752.4 1465,2751.5 1468,2752.4 1471,2753.2 1474,2756.6 1477,2747.6 1480,2738.9 1483,2749.5 1486,2740.3 1489,2748.5 1492,2746.0 1495,2748.6 1498,2745.0 1501,2750.3 1504,2752.4 1507,2751.0 1510,2749.7 1513,2752.2 1516,2751.1 1519,2741.9 1522,2723.4 1525,2738.3 1528,2757.6 1531,2717.9 1534,2738.4 1537,2735.2 1540,2756.5 1543,2747.9 1546,2741.4 1549,2741.0 1552,2722.1 1555,2759.6 1558,2744.5 1561,2727.1 1564,2729.7 1567,2739.3 1570,2730.4 1573,2727.8 1576,2744.8 1579,2736.2 1582,2739.6 1585,2739.6 1588,2720.3 1591,2743.7 1594,2739.1 1597,2724.0 1600,2717.5 1603,2731.0 1606,2732.8 1609,2724.4 1612,2727.3 1615,2725.7 1618,2723.4 1621,2728.9 1624,2741.1 1627,2741.7 1630,2714.4 1633,2718.7 1636,2713.9 1639,2713.3 1642,2713.7 1645,2729.5 1648,2722.9 1651,2708.5 1654,2725.2 1657,2705.2 1660,2711.6 1663,2719.7 1666,2714.8 1669,2704.8 1672,2712.8 1675,2716.6 1678,2704.7 1681,2722.0 1684,2710.0 1687,2698.6 1690,2706.3 1693,2695.4 1696,2703.7 1699,2706.4 1702,2705.4 1705,2716.0 1708,2699.2 1711,2702.3 1714,2693.9 1717,2683.0 1720,2690.2 1723,2695.7 1726,2666.9 1729,2696.2 1732,2695.2 1735,2701.4 1738,2691.4 1741,2700.0 1744,2689.7 1747,2687.1 1750,2691.4 1753,2677.1 1756,2697.1 1759,2672.3 1762,2696.1 1765,2675.9 1768,2678.2 1771,2669.5 1774,2675.5 1777,2676.6 1780,2663.5 1783,2658.7 1786,2672.3 1789,2660.0 1792,2681.3 1795,2684.9 1798,2670.0 1801,2705.6 1804,2673.3 1807,2664.1 1810,2687.8 1813,2677.1 1816,2667.8 1819,2672.9 1822,2686.7 1825,2685.9 1828,2672.6 1831,2661.2 1834,2663.8 1837,2675.1 1840,2672.6 1843,2676.1 1846,2670.0 1849,2680.7 1852,2662.8 1855,2663.0 1858,2641.6 1861,2659.7 1864,2642.4 1867,2655.3 1870,2662.1 1873,2653.7 1876,2658.1 1879,2639.1 1882,2655.6 1885,2661.3 1888,2656.5 1891,2658.6 1894,2653.1 1897,2663.4 1900,2649.0 1903,2653.5 1906,2662.8 1909,2668.0 1912,2660.5 1915,2639.1 1918,2649.2 1921,2646.5 1924,2647.3 1927,2663.8 1930,2658.4 1933,2639.9 1936,2653.5 1939,2650.9 1942,2638.3 1945,2637.1 1948,2650.6 1951,2635.9 1954,2636.6 1957,2635.8 1960,2605.4 1963,2641.9 1966,2649.2 1969,2659.7 1972,2660.6 1975,2626.1 1978,2633.3 1981,2628.4 1984,2636.7 1987,2623.0 1990,2632.1 1993,2633.3 1996,2631.0 1999,2627.5 2002,2637.2 2005,2627.3 2008,2624.3 2011,2628.6 2014,2627.2 2017,2631.0 2020,2632.9"/>
</g>
</g>
<g font-size="52.7" font-weight="bold">
<text x="1384.2" y="2170.5">PA6/PK with ADR (5phr)</text>
<text x="1384.0" y="2242.2" letter-spacing="0.3">100/0</text>
<text x="1384.0" y="2308.2" letter-spacing="0.3">99/1</text>
<text x="1384.0" y="2373.9" letter-spacing="0.3">97/3</text>
<text x="1384.0" y="2440.0" letter-spacing="0.3">95/5</text>
<text x="1384.0" y="2506.0" letter-spacing="0.3">90/10</text>
</g>
<line x1="1235.4" y1="2223.3" x2="1353.9" y2="2223.3" stroke="#000000" stroke-width="5.0" stroke-linecap="round"/>
<line x1="1235.4" y1="2289.0" x2="1353.9" y2="2289.0" stroke="#ff0000" stroke-width="5.0" stroke-linecap="round"/>
<line x1="1235.4" y1="2355.0" x2="1353.9" y2="2355.0" stroke="#00ff00" stroke-width="5.0" stroke-linecap="round"/>
<line x1="1235.4" y1="2421.6" x2="1353.9" y2="2421.6" stroke="#0000ff" stroke-width="5.0" stroke-linecap="round"/>
<line x1="1235.4" y1="2487.9" x2="1353.9" y2="2487.9" stroke="#ff00ff" stroke-width="5.0" stroke-linecap="round"/>
<text x="1235.7" y="3791.3" font-size="86" text-anchor="middle">(<tspan font-weight="bold">b</tspan><tspan dx="-0.5">)</tspan></text>
</g>
</svg>
</body>
</html>
